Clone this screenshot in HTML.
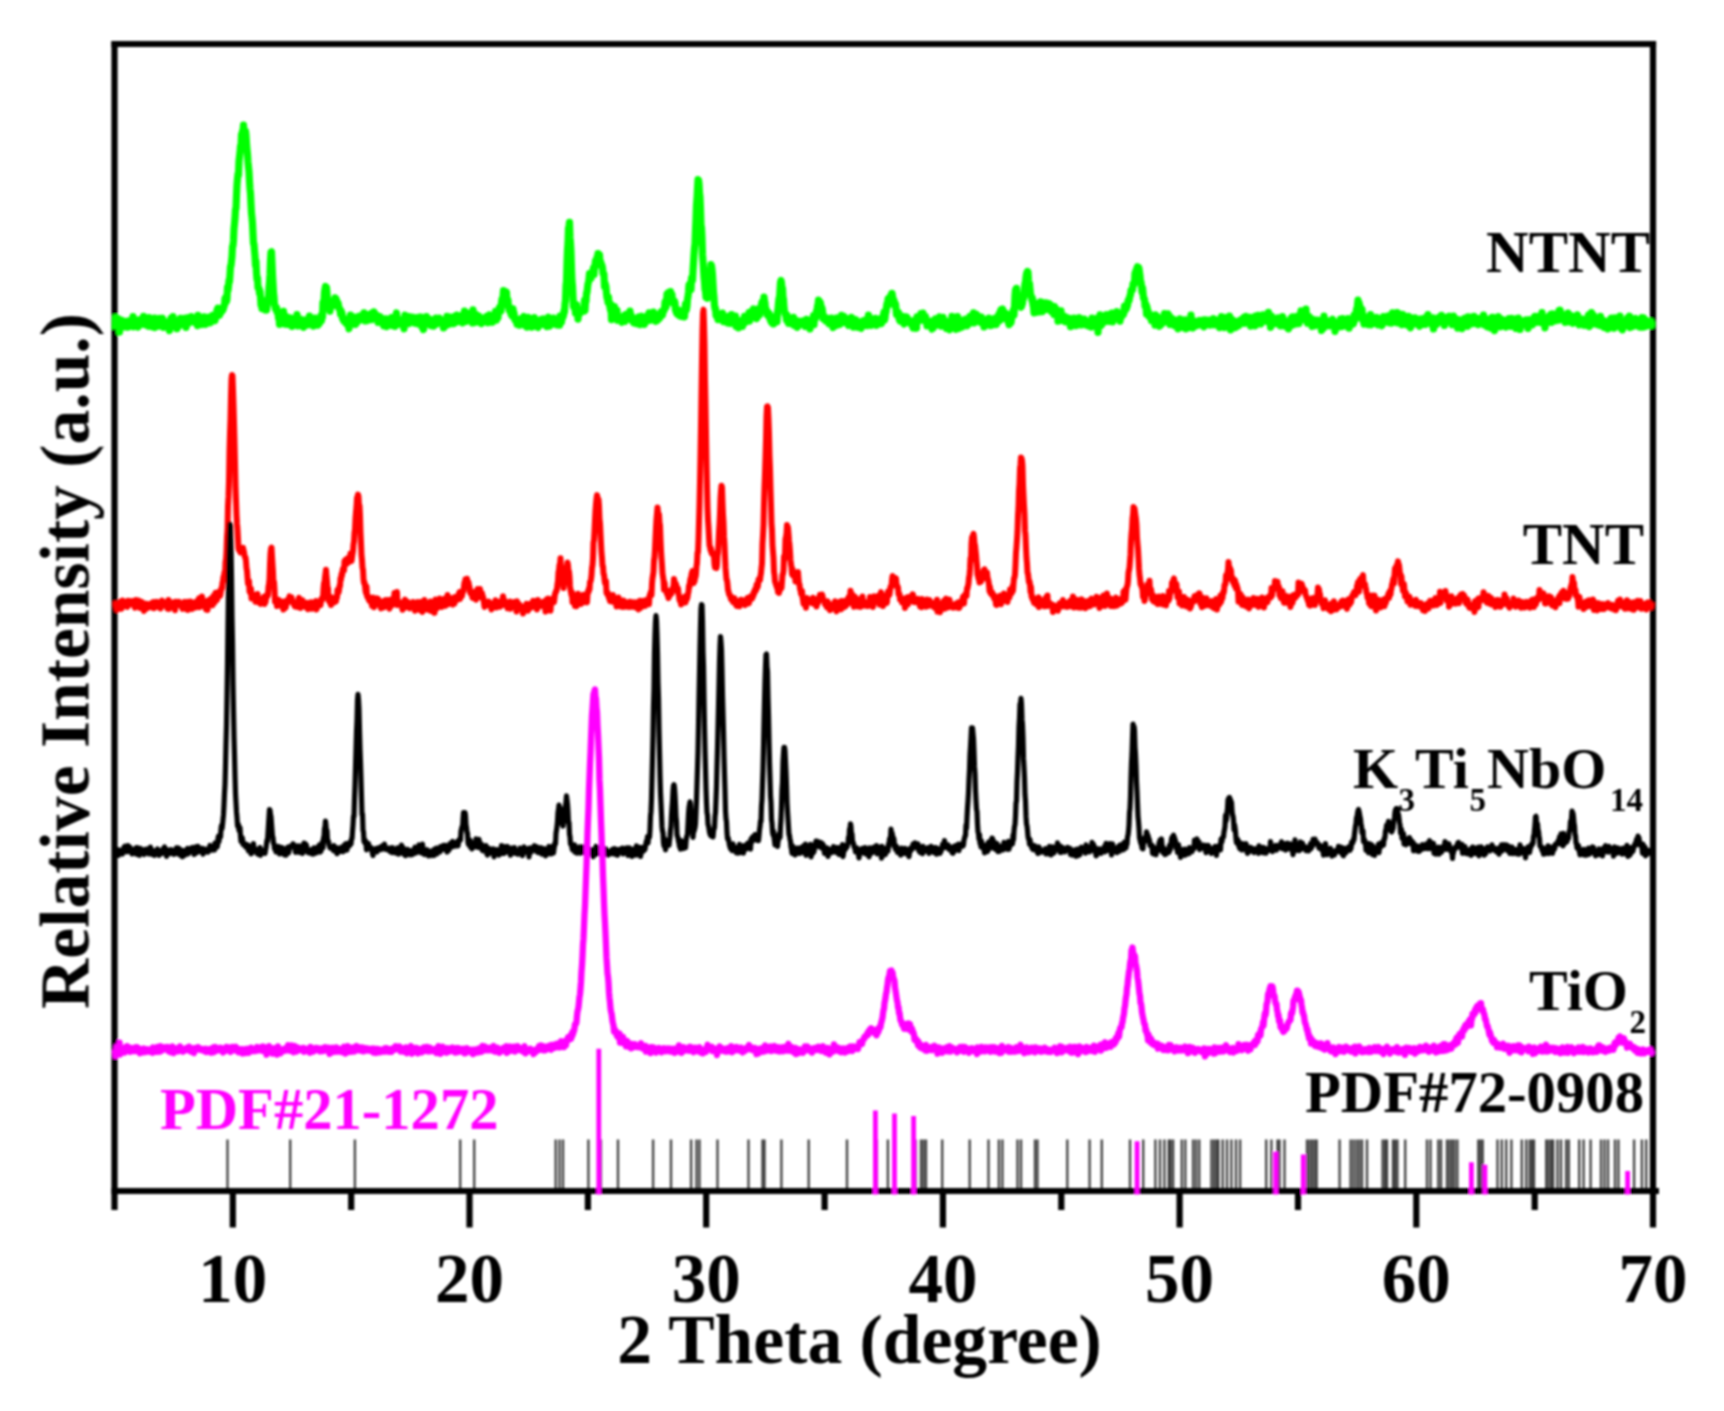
<!DOCTYPE html>
<html><head><meta charset="utf-8"><title>XRD patterns</title>
<style>
html,body{margin:0;padding:0;background:#fff;}
body{width:1724px;height:1411px;overflow:hidden;}
svg{display:block;}
text{font-family:"Liberation Serif","Times New Roman",serif;font-weight:bold;}
</style></head><body>
<svg width="1724" height="1411" viewBox="0 0 1724 1411">
<defs><filter id="soft" x="0" y="0" width="1724" height="1411" filterUnits="userSpaceOnUse"><feGaussianBlur stdDeviation="0.8"/></filter></defs>
<rect x="0" y="0" width="1724" height="1411" fill="#fff"/>
<g filter="url(#soft)">
<g stroke="#000" stroke-opacity="0.72" stroke-width="2.4" fill="none"><path d="M227.5 1139.5V1191.0"/><path d="M290.2 1139.5V1191.0"/><path d="M354.9 1139.5V1191.0"/><path d="M460.2 1139.5V1191.0"/><path d="M474.2 1139.5V1191.0"/><path d="M555.7 1139.5V1191.0"/><path d="M559.5 1139.5V1191.0"/><path d="M563.0 1139.5V1191.0"/><path d="M588.4 1139.5V1191.0"/><path d="M600.9 1139.5V1191.0"/><path d="M618.0 1139.5V1191.0"/><path d="M653.1 1139.5V1191.0"/><path d="M671.0 1139.5V1191.0"/><path d="M691.1 1139.5V1191.0"/><path d="M696.5 1139.5V1191.0"/><path d="M699.5 1139.5V1191.0"/><path d="M717.5 1139.5V1191.0"/><path d="M748.5 1139.5V1191.0"/><path d="M762.5 1139.5V1191.0"/><path d="M764.5 1139.5V1191.0"/><path d="M781.4 1139.5V1191.0"/><path d="M808.7 1139.5V1191.0"/><path d="M847.0 1139.5V1191.0"/><path d="M876.9 1139.5V1191.0"/><path d="M887.9 1139.5V1191.0"/><path d="M915.7 1139.5V1191.0"/><path d="M921.0 1139.5V1191.0"/><path d="M923.5 1139.5V1191.0"/><path d="M926.0 1139.5V1191.0"/><path d="M942.2 1139.5V1191.0"/><path d="M969.7 1139.5V1191.0"/><path d="M988.5 1139.5V1191.0"/><path d="M998.9 1139.5V1191.0"/><path d="M1002.4 1139.5V1191.0"/><path d="M1017.5 1139.5V1191.0"/><path d="M1021.0 1139.5V1191.0"/><path d="M1035.0 1139.5V1191.0"/><path d="M1037.5 1139.5V1191.0"/><path d="M1067.3 1139.5V1191.0"/><path d="M1089.6 1139.5V1191.0"/><path d="M1101.8 1139.5V1191.0"/><path d="M1130.0 1139.5V1191.0"/><path d="M1143.2 1139.5V1191.0"/><path d="M1155.4 1139.5V1191.0"/><path d="M1160.0 1139.5V1191.0"/><path d="M1164.4 1139.5V1191.0"/><path d="M1168.8 1139.5V1191.0"/><path d="M1170.5 1139.5V1191.0"/><path d="M1173.1 1139.5V1191.0"/><path d="M1181.8 1139.5V1191.0"/><path d="M1185.3 1139.5V1191.0"/><path d="M1193.1 1139.5V1191.0"/><path d="M1196.0 1139.5V1191.0"/><path d="M1199.2 1139.5V1191.0"/><path d="M1211.4 1139.5V1191.0"/><path d="M1214.0 1139.5V1191.0"/><path d="M1216.5 1139.5V1191.0"/><path d="M1218.3 1139.5V1191.0"/><path d="M1222.7 1139.5V1191.0"/><path d="M1227.0 1139.5V1191.0"/><path d="M1231.4 1139.5V1191.0"/><path d="M1236.0 1139.5V1191.0"/><path d="M1240.1 1139.5V1191.0"/><path d="M1266.2 1139.5V1191.0"/><path d="M1271.4 1139.5V1191.0"/><path d="M1277.5 1139.5V1191.0"/><path d="M1279.5 1139.5V1191.0"/><path d="M1284.5 1139.5V1191.0"/><path d="M1307.0 1139.5V1191.0"/><path d="M1309.5 1139.5V1191.0"/><path d="M1312.0 1139.5V1191.0"/><path d="M1314.5 1139.5V1191.0"/><path d="M1316.7 1139.5V1191.0"/><path d="M1339.6 1139.5V1191.0"/><path d="M1350.6 1139.5V1191.0"/><path d="M1353.5 1139.5V1191.0"/><path d="M1356.5 1139.5V1191.0"/><path d="M1359.3 1139.5V1191.0"/><path d="M1362.0 1139.5V1191.0"/><path d="M1367.0 1139.5V1191.0"/><path d="M1382.6 1139.5V1191.0"/><path d="M1385.0 1139.5V1191.0"/><path d="M1387.0 1139.5V1191.0"/><path d="M1393.0 1139.5V1191.0"/><path d="M1395.2 1139.5V1191.0"/><path d="M1397.4 1139.5V1191.0"/><path d="M1405.2 1139.5V1191.0"/><path d="M1427.0 1139.5V1191.0"/><path d="M1430.5 1139.5V1191.0"/><path d="M1438.3 1139.5V1191.0"/><path d="M1441.0 1139.5V1191.0"/><path d="M1447.0 1139.5V1191.0"/><path d="M1449.5 1139.5V1191.0"/><path d="M1452.0 1139.5V1191.0"/><path d="M1454.5 1139.5V1191.0"/><path d="M1457.4 1139.5V1191.0"/><path d="M1478.3 1139.5V1191.0"/><path d="M1480.5 1139.5V1191.0"/><path d="M1482.7 1139.5V1191.0"/><path d="M1497.5 1139.5V1191.0"/><path d="M1501.8 1139.5V1191.0"/><path d="M1506.2 1139.5V1191.0"/><path d="M1511.4 1139.5V1191.0"/><path d="M1521.8 1139.5V1191.0"/><path d="M1526.2 1139.5V1191.0"/><path d="M1529.7 1139.5V1191.0"/><path d="M1532.0 1139.5V1191.0"/><path d="M1534.0 1139.5V1191.0"/><path d="M1546.2 1139.5V1191.0"/><path d="M1548.5 1139.5V1191.0"/><path d="M1551.0 1139.5V1191.0"/><path d="M1553.1 1139.5V1191.0"/><path d="M1557.5 1139.5V1191.0"/><path d="M1561.0 1139.5V1191.0"/><path d="M1566.2 1139.5V1191.0"/><path d="M1568.8 1139.5V1191.0"/><path d="M1579.2 1139.5V1191.0"/><path d="M1583.6 1139.5V1191.0"/><path d="M1590.6 1139.5V1191.0"/><path d="M1601.0 1139.5V1191.0"/><path d="M1604.5 1139.5V1191.0"/><path d="M1608.0 1139.5V1191.0"/><path d="M1615.0 1139.5V1191.0"/><path d="M1618.4 1139.5V1191.0"/><path d="M1634.1 1139.5V1191.0"/><path d="M1641.9 1139.5V1191.0"/><path d="M1646.2 1139.5V1191.0"/></g>
<g stroke="#000" stroke-width="6.2" fill="none" stroke-linecap="butt">
<path d="M114.5 41V1210"/><path d="M1653.0 41V1227.5"/><path d="M111.4 44H1656.1"/><path d="M111.4 1191.0H1659.0"/>
<path d="M232.8 1191.0V1227.5M469.5 1191.0V1227.5M706.2 1191.0V1227.5M942.9 1191.0V1227.5M1179.6 1191.0V1227.5M1416.3 1191.0V1227.5M351.2 1191.0V1210M587.9 1191.0V1210M824.6 1191.0V1210M1061.3 1191.0V1210M1298.0 1191.0V1210M1534.7 1191.0V1210"/>
</g>
<g id="curves">
<polyline fill="none" stroke="#00ff00" stroke-width="7.2" stroke-linejoin="round" stroke-linecap="butt" points="115.0,329.7 115.5,317.4 116.0,324.7 116.5,321.7 117.0,322.3 117.5,323.1 118.0,318.7 118.5,323.7 119.0,322.0 119.5,332.1 120.0,323.5 120.5,321.5 121.0,322.4 121.5,321.2 122.0,320.3 122.5,322.1 123.0,325.4 123.5,324.0 124.0,326.8 124.5,323.4 125.0,323.7 125.5,326.9 126.0,324.0 126.5,321.3 127.0,322.0 127.5,323.8 128.0,327.2 128.5,322.4 129.0,322.7 129.5,326.3 130.0,320.6 130.5,321.5 131.0,325.0 131.5,325.0 132.0,323.3 132.5,325.3 133.0,316.5 133.5,326.8 134.0,321.1 134.5,319.5 135.0,324.4 135.5,324.9 136.0,321.6 136.5,320.0 137.0,323.4 137.5,323.5 138.0,327.1 138.5,324.6 139.0,323.3 139.5,325.5 140.0,321.6 140.5,319.5 141.0,324.5 141.5,324.1 142.0,321.7 142.5,320.4 143.0,323.5 143.5,316.4 144.0,324.4 144.5,324.3 145.0,318.5 145.5,322.9 146.0,320.4 146.5,325.2 147.0,318.1 147.5,321.4 148.0,324.9 148.5,326.2 149.0,317.6 149.5,321.5 150.0,323.6 150.5,320.9 151.0,326.5 151.5,319.2 152.0,323.3 152.5,320.1 153.0,326.9 153.5,323.0 154.0,321.7 154.5,318.0 155.0,327.6 155.5,325.2 156.0,325.1 156.5,325.7 157.0,323.2 157.5,320.3 158.0,320.3 158.5,320.1 159.0,326.1 159.5,318.3 160.0,320.7 160.5,321.5 161.0,323.4 161.5,324.2 162.0,319.3 162.5,318.3 163.0,323.4 163.5,327.4 164.0,326.3 164.5,325.3 165.0,324.2 165.5,325.8 166.0,324.1 166.5,326.9 167.0,322.0 167.5,324.5 168.0,324.0 168.5,326.0 169.0,325.0 169.5,330.6 170.0,327.3 170.5,327.6 171.0,318.3 171.5,322.6 172.0,321.3 172.5,324.3 173.0,316.7 173.5,325.9 174.0,326.2 174.5,319.7 175.0,320.3 175.5,320.6 176.0,323.0 176.5,324.6 177.0,328.7 177.5,321.8 178.0,323.9 178.5,321.9 179.0,326.0 179.5,322.9 180.0,324.5 180.5,318.3 181.0,319.8 181.5,318.5 182.0,324.5 182.5,322.0 183.0,319.0 183.5,318.9 184.0,321.3 184.5,318.3 185.0,318.2 185.5,322.2 186.0,327.4 186.5,320.5 187.0,319.8 187.5,318.3 188.0,317.8 188.5,322.3 189.0,323.1 189.5,320.9 190.0,321.9 190.5,321.1 191.0,320.9 191.5,316.5 192.0,319.5 192.5,320.5 193.0,318.6 193.5,318.7 194.0,318.1 194.5,319.1 195.0,322.4 195.5,319.5 196.0,320.1 196.5,322.9 197.0,322.7 197.5,325.6 198.0,315.4 198.5,323.4 199.0,319.6 199.5,321.5 200.0,322.9 200.5,323.6 201.0,323.4 201.5,320.9 202.0,324.5 202.5,319.1 203.0,319.5 203.5,321.1 204.0,316.9 204.5,324.0 205.0,321.3 205.5,324.4 206.0,318.8 206.5,317.9 207.0,319.8 207.5,321.4 208.0,317.4 208.5,319.9 209.0,318.7 209.5,322.9 210.0,316.9 210.5,322.6 211.0,318.5 211.5,317.3 212.0,317.3 212.5,315.3 213.0,318.7 213.5,320.6 214.0,317.4 214.5,318.3 215.0,320.7 215.5,316.7 216.0,316.4 216.5,314.6 217.0,310.1 217.5,316.1 218.0,308.0 218.5,314.5 219.0,312.4 219.5,315.3 220.0,311.6 220.5,309.5 221.0,312.6 221.5,310.3 222.0,310.9 222.5,310.7 223.0,309.6 223.5,308.3 224.0,305.5 224.5,305.4 225.0,298.5 225.5,302.5 226.0,297.2 226.5,301.4 227.0,299.2 227.5,287.3 228.0,290.5 228.5,286.4 229.0,280.5 229.5,281.7 230.0,274.5 230.5,266.2 231.0,265.7 231.5,261.1 232.0,256.4 232.5,246.3 233.0,246.0 233.5,240.2 234.0,228.6 234.5,223.8 235.0,218.4 235.5,209.5 236.0,208.6 236.5,195.6 237.0,184.7 237.5,178.8 238.0,174.1 238.5,175.3 239.0,161.2 239.5,156.9 240.0,152.7 240.5,146.1 241.0,148.5 241.5,134.6 242.0,136.1 242.5,131.3 243.0,131.4 243.5,125.2 244.0,135.0 244.5,129.8 245.0,132.1 245.5,130.8 246.0,135.1 246.5,143.3 247.0,149.4 247.5,154.2 248.0,162.0 248.5,167.0 249.0,171.6 249.5,181.4 250.0,188.8 250.5,193.7 251.0,204.0 251.5,213.2 252.0,217.6 252.5,223.4 253.0,233.5 253.5,243.6 254.0,243.9 254.5,250.5 255.0,255.8 255.5,265.4 256.0,261.4 256.5,273.1 257.0,279.3 257.5,277.7 258.0,287.7 258.5,288.2 259.0,288.3 259.5,293.1 260.0,291.1 260.5,296.5 261.0,305.1 261.5,299.1 262.0,308.5 262.5,304.9 263.0,308.7 263.5,306.7 264.0,301.0 264.5,306.4 265.0,309.8 265.5,306.2 266.0,305.2 266.5,310.1 267.0,306.1 267.5,300.6 268.0,300.1 268.5,298.5 269.0,287.7 269.5,282.6 270.0,274.5 270.5,260.7 271.0,252.1 271.5,251.8 272.0,262.7 272.5,274.9 273.0,283.3 273.5,292.5 274.0,297.0 274.5,304.7 275.0,305.9 275.5,308.9 276.0,308.1 276.5,307.5 277.0,311.7 277.5,310.9 278.0,312.0 278.5,318.0 279.0,315.2 279.5,324.3 280.0,319.6 280.5,315.4 281.0,319.0 281.5,317.6 282.0,315.4 282.5,321.0 283.0,316.4 283.5,311.4 284.0,322.0 284.5,318.3 285.0,324.1 285.5,317.3 286.0,316.3 286.5,323.8 287.0,317.3 287.5,320.8 288.0,324.4 288.5,321.0 289.0,320.6 289.5,321.0 290.0,322.4 290.5,317.8 291.0,321.7 291.5,322.0 292.0,326.4 292.5,319.8 293.0,318.7 293.5,323.2 294.0,319.4 294.5,321.8 295.0,321.5 295.5,324.6 296.0,319.8 296.5,321.2 297.0,314.6 297.5,319.2 298.0,326.0 298.5,319.9 299.0,319.9 299.5,318.8 300.0,323.8 300.5,322.9 301.0,319.3 301.5,324.0 302.0,322.8 302.5,324.3 303.0,321.1 303.5,327.3 304.0,323.4 304.5,321.7 305.0,320.0 305.5,321.3 306.0,324.1 306.5,321.1 307.0,324.5 307.5,322.8 308.0,324.9 308.5,323.4 309.0,321.3 309.5,316.2 310.0,322.1 310.5,323.7 311.0,322.0 311.5,323.3 312.0,320.5 312.5,320.3 313.0,319.6 313.5,326.1 314.0,322.4 314.5,320.3 315.0,318.1 315.5,321.6 316.0,325.2 316.5,322.9 317.0,319.1 317.5,324.6 318.0,325.0 318.5,323.8 319.0,323.1 319.5,323.3 320.0,320.8 320.5,320.8 321.0,315.7 321.5,320.6 322.0,315.1 322.5,317.3 323.0,302.6 323.5,306.0 324.0,301.5 324.5,292.0 325.0,289.1 325.5,286.5 326.0,287.0 326.5,287.3 327.0,292.8 327.5,300.7 328.0,305.5 328.5,305.5 329.0,307.4 329.5,308.2 330.0,311.1 330.5,305.0 331.0,304.0 331.5,306.9 332.0,302.8 332.5,303.3 333.0,304.3 333.5,304.9 334.0,300.1 334.5,305.0 335.0,297.8 335.5,304.5 336.0,298.7 336.5,300.1 337.0,306.0 337.5,303.2 338.0,302.9 338.5,305.1 339.0,308.6 339.5,308.4 340.0,309.9 340.5,314.0 341.0,310.5 341.5,312.2 342.0,313.1 342.5,318.6 343.0,318.8 343.5,320.7 344.0,318.4 344.5,319.0 345.0,321.9 345.5,319.8 346.0,323.5 346.5,323.8 347.0,319.3 347.5,321.2 348.0,320.9 348.5,326.1 349.0,328.8 349.5,321.4 350.0,322.2 350.5,315.2 351.0,321.7 351.5,321.5 352.0,318.8 352.5,323.1 353.0,316.9 353.5,320.4 354.0,322.2 354.5,319.0 355.0,324.5 355.5,324.4 356.0,317.4 356.5,317.5 357.0,322.5 357.5,321.1 358.0,316.9 358.5,318.0 359.0,317.5 359.5,316.1 360.0,318.1 360.5,316.3 361.0,320.0 361.5,318.3 362.0,316.7 362.5,318.1 363.0,318.6 363.5,317.1 364.0,312.9 364.5,318.4 365.0,316.3 365.5,321.0 366.0,316.7 366.5,318.4 367.0,317.4 367.5,320.6 368.0,316.2 368.5,314.8 369.0,316.0 369.5,314.4 370.0,316.3 370.5,315.2 371.0,314.8 371.5,319.7 372.0,313.2 372.5,314.2 373.0,314.1 373.5,316.4 374.0,311.9 374.5,313.1 375.0,315.1 375.5,317.2 376.0,316.8 376.5,315.7 377.0,315.3 377.5,319.6 378.0,322.4 378.5,319.3 379.0,319.3 379.5,320.5 380.0,316.6 380.5,318.7 381.0,319.1 381.5,321.6 382.0,321.1 382.5,318.5 383.0,324.2 383.5,325.7 384.0,320.6 384.5,322.9 385.0,323.1 385.5,324.7 386.0,318.9 386.5,326.6 387.0,321.6 387.5,325.8 388.0,322.5 388.5,321.3 389.0,322.0 389.5,323.9 390.0,319.7 390.5,321.1 391.0,320.7 391.5,317.6 392.0,325.5 392.5,323.5 393.0,321.6 393.5,325.4 394.0,319.7 394.5,322.2 395.0,326.4 395.5,324.0 396.0,315.2 396.5,313.0 397.0,318.8 397.5,324.6 398.0,321.0 398.5,320.8 399.0,322.7 399.5,319.6 400.0,322.6 400.5,324.0 401.0,323.3 401.5,323.2 402.0,320.9 402.5,323.5 403.0,321.3 403.5,325.4 404.0,328.8 404.5,319.1 405.0,315.2 405.5,320.4 406.0,322.3 406.5,323.9 407.0,323.4 407.5,318.3 408.0,317.4 408.5,323.7 409.0,316.7 409.5,322.4 410.0,318.4 410.5,321.2 411.0,321.2 411.5,322.1 412.0,321.7 412.5,317.1 413.0,320.4 413.5,319.2 414.0,321.1 414.5,323.2 415.0,319.3 415.5,317.6 416.0,318.4 416.5,319.5 417.0,322.7 417.5,318.9 418.0,324.0 418.5,321.9 419.0,320.8 419.5,317.1 420.0,322.2 420.5,323.7 421.0,317.2 421.5,325.5 422.0,327.2 422.5,323.6 423.0,324.1 423.5,329.6 424.0,326.5 424.5,320.7 425.0,322.9 425.5,322.3 426.0,322.2 426.5,316.5 427.0,324.0 427.5,319.9 428.0,321.9 428.5,321.1 429.0,323.5 429.5,320.9 430.0,319.1 430.5,323.0 431.0,325.5 431.5,320.2 432.0,324.9 432.5,322.0 433.0,320.4 433.5,326.2 434.0,320.3 434.5,325.0 435.0,320.3 435.5,322.8 436.0,318.2 436.5,318.7 437.0,324.0 437.5,321.5 438.0,321.3 438.5,320.4 439.0,323.0 439.5,318.2 440.0,318.8 440.5,321.3 441.0,320.0 441.5,321.0 442.0,322.9 442.5,322.4 443.0,322.7 443.5,328.0 444.0,326.1 444.5,327.0 445.0,323.3 445.5,322.0 446.0,319.3 446.5,321.9 447.0,316.4 447.5,320.0 448.0,322.7 448.5,324.5 449.0,322.9 449.5,317.6 450.0,320.7 450.5,317.0 451.0,320.7 451.5,317.6 452.0,319.6 452.5,323.6 453.0,319.2 453.5,323.6 454.0,318.0 454.5,316.5 455.0,321.6 455.5,322.8 456.0,316.6 456.5,319.1 457.0,315.1 457.5,318.1 458.0,321.7 458.5,318.9 459.0,318.0 459.5,316.1 460.0,320.4 460.5,320.9 461.0,320.5 461.5,319.9 462.0,315.3 462.5,322.8 463.0,318.0 463.5,317.2 464.0,319.1 464.5,311.2 465.0,316.9 465.5,317.0 466.0,318.3 466.5,321.4 467.0,319.4 467.5,313.2 468.0,317.3 468.5,318.5 469.0,318.3 469.5,314.9 470.0,313.7 470.5,319.6 471.0,319.4 471.5,318.5 472.0,313.7 472.5,323.0 473.0,309.9 473.5,316.0 474.0,322.7 474.5,317.0 475.0,318.1 475.5,314.4 476.0,321.8 476.5,314.8 477.0,319.1 477.5,319.5 478.0,316.4 478.5,322.1 479.0,316.0 479.5,318.4 480.0,320.5 480.5,319.9 481.0,322.3 481.5,323.6 482.0,320.0 482.5,319.2 483.0,318.5 483.5,318.9 484.0,322.0 484.5,319.3 485.0,320.8 485.5,319.4 486.0,317.1 486.5,321.4 487.0,316.3 487.5,319.1 488.0,322.7 488.5,315.6 489.0,318.6 489.5,314.8 490.0,318.7 490.5,315.5 491.0,318.4 491.5,317.0 492.0,318.6 492.5,322.3 493.0,318.8 493.5,319.8 494.0,317.6 494.5,316.7 495.0,314.5 495.5,311.5 496.0,316.3 496.5,320.1 497.0,315.6 497.5,312.5 498.0,317.7 498.5,311.5 499.0,310.2 499.5,307.2 500.0,306.8 500.5,307.4 501.0,310.9 501.5,303.0 502.0,299.1 502.5,298.2 503.0,297.2 503.5,290.7 504.0,294.4 504.5,294.9 505.0,293.7 505.5,295.7 506.0,291.7 506.5,292.2 507.0,302.6 507.5,304.7 508.0,300.1 508.5,307.1 509.0,308.4 509.5,310.9 510.0,311.3 510.5,310.5 511.0,314.0 511.5,315.1 512.0,315.9 512.5,311.0 513.0,308.7 513.5,314.9 514.0,312.8 514.5,318.1 515.0,320.1 515.5,319.5 516.0,318.7 516.5,320.8 517.0,324.2 517.5,319.5 518.0,323.7 518.5,323.3 519.0,321.8 519.5,325.2 520.0,319.0 520.5,323.4 521.0,319.3 521.5,319.7 522.0,318.1 522.5,322.1 523.0,317.8 523.5,319.6 524.0,316.5 524.5,322.6 525.0,325.2 525.5,321.2 526.0,325.0 526.5,322.4 527.0,327.2 527.5,322.4 528.0,317.4 528.5,325.3 529.0,322.0 529.5,319.2 530.0,320.0 530.5,318.5 531.0,322.6 531.5,320.5 532.0,327.2 532.5,324.7 533.0,318.7 533.5,319.2 534.0,321.4 534.5,317.6 535.0,322.3 535.5,322.7 536.0,320.7 536.5,322.1 537.0,325.1 537.5,327.1 538.0,327.4 538.5,323.4 539.0,324.8 539.5,320.8 540.0,324.0 540.5,320.2 541.0,324.7 541.5,319.4 542.0,320.4 542.5,322.9 543.0,324.3 543.5,318.9 544.0,321.7 544.5,323.3 545.0,322.9 545.5,319.7 546.0,323.0 546.5,321.9 547.0,326.7 547.5,324.7 548.0,319.7 548.5,317.2 549.0,322.9 549.5,326.1 550.0,323.1 550.5,324.4 551.0,320.4 551.5,318.6 552.0,324.4 552.5,322.6 553.0,323.7 553.5,318.0 554.0,321.8 554.5,319.6 555.0,324.1 555.5,321.0 556.0,321.0 556.5,320.2 557.0,324.9 557.5,321.8 558.0,319.9 558.5,318.7 559.0,318.3 559.5,325.2 560.0,316.0 560.5,318.2 561.0,321.6 561.5,322.1 562.0,316.9 562.5,318.3 563.0,316.7 563.5,315.5 564.0,310.9 564.5,312.1 565.0,303.4 565.5,300.6 566.0,285.5 566.5,281.5 567.0,263.2 567.5,249.8 568.0,243.0 568.5,228.2 569.0,226.3 569.5,222.4 570.0,237.2 570.5,243.4 571.0,252.0 571.5,268.5 572.0,281.2 572.5,285.9 573.0,296.9 573.5,306.5 574.0,307.4 574.5,307.5 575.0,308.1 575.5,313.2 576.0,308.5 576.5,304.8 577.0,312.2 577.5,311.1 578.0,319.1 578.5,314.1 579.0,310.7 579.5,309.5 580.0,313.5 580.5,310.0 581.0,310.1 581.5,311.4 582.0,310.9 582.5,309.9 583.0,309.2 583.5,311.0 584.0,311.1 584.5,300.3 585.0,310.4 585.5,301.3 586.0,301.5 586.5,293.0 587.0,292.5 587.5,287.8 588.0,283.8 588.5,282.2 589.0,279.4 589.5,273.7 590.0,275.8 590.5,278.5 591.0,278.5 591.5,275.5 592.0,274.9 592.5,274.7 593.0,270.0 593.5,267.8 594.0,274.5 594.5,266.7 595.0,265.1 595.5,260.9 596.0,265.8 596.5,265.1 597.0,257.3 597.5,258.4 598.0,253.6 598.5,261.1 599.0,259.4 599.5,254.8 600.0,262.6 600.5,261.4 601.0,263.0 601.5,265.7 602.0,265.6 602.5,267.9 603.0,273.4 603.5,274.3 604.0,274.4 604.5,286.6 605.0,282.9 605.5,284.8 606.0,286.9 606.5,293.5 607.0,297.8 607.5,298.6 608.0,302.4 608.5,297.1 609.0,302.6 609.5,304.5 610.0,307.3 610.5,310.0 611.0,304.5 611.5,319.6 612.0,308.6 612.5,312.8 613.0,315.3 613.5,316.2 614.0,315.0 614.5,306.6 615.0,312.0 615.5,317.8 616.0,313.3 616.5,313.3 617.0,310.4 617.5,320.3 618.0,318.9 618.5,315.7 619.0,319.2 619.5,319.5 620.0,316.7 620.5,319.0 621.0,319.7 621.5,320.1 622.0,322.3 622.5,318.6 623.0,317.5 623.5,319.6 624.0,316.7 624.5,315.1 625.0,321.3 625.5,316.9 626.0,317.9 626.5,319.3 627.0,314.1 627.5,318.7 628.0,318.9 628.5,317.7 629.0,318.8 629.5,315.6 630.0,311.2 630.5,316.4 631.0,314.7 631.5,320.3 632.0,319.1 632.5,317.2 633.0,319.0 633.5,322.8 634.0,323.0 634.5,321.5 635.0,321.5 635.5,320.5 636.0,321.1 636.5,323.5 637.0,321.7 637.5,322.7 638.0,318.5 638.5,317.0 639.0,317.1 639.5,320.3 640.0,324.6 640.5,324.4 641.0,318.0 641.5,316.2 642.0,323.3 642.5,321.9 643.0,317.5 643.5,323.9 644.0,321.2 644.5,324.4 645.0,321.6 645.5,322.4 646.0,319.8 646.5,316.5 647.0,318.4 647.5,316.4 648.0,320.7 648.5,315.4 649.0,313.0 649.5,319.0 650.0,319.8 650.5,320.1 651.0,320.1 651.5,312.9 652.0,315.8 652.5,316.4 653.0,318.2 653.5,312.2 654.0,318.1 654.5,319.0 655.0,315.2 655.5,318.4 656.0,321.3 656.5,317.6 657.0,320.5 657.5,320.4 658.0,317.6 658.5,317.6 659.0,315.0 659.5,318.7 660.0,314.0 660.5,312.7 661.0,316.2 661.5,311.7 662.0,314.6 662.5,315.0 663.0,311.2 663.5,310.1 664.0,310.7 664.5,309.3 665.0,302.3 665.5,300.9 666.0,307.1 666.5,303.1 667.0,294.0 667.5,294.6 668.0,297.2 668.5,292.6 669.0,296.2 669.5,294.6 670.0,295.9 670.5,291.6 671.0,297.5 671.5,301.6 672.0,294.6 672.5,302.6 673.0,303.2 673.5,303.6 674.0,303.0 674.5,301.1 675.0,303.0 675.5,309.9 676.0,311.2 676.5,313.1 677.0,313.3 677.5,314.3 678.0,310.7 678.5,310.1 679.0,314.5 679.5,315.8 680.0,314.6 680.5,310.9 681.0,313.7 681.5,311.9 682.0,316.5 682.5,312.2 683.0,314.5 683.5,315.8 684.0,314.6 684.5,316.9 685.0,309.4 685.5,304.1 686.0,310.5 686.5,309.3 687.0,306.2 687.5,299.3 688.0,296.8 688.5,292.1 689.0,285.2 689.5,285.3 690.0,287.3 690.5,282.9 691.0,289.7 691.5,278.2 692.0,279.6 692.5,280.6 693.0,271.0 693.5,262.8 694.0,254.8 694.5,247.8 695.0,244.0 695.5,230.1 696.0,219.2 696.5,204.7 697.0,198.9 697.5,188.6 698.0,179.7 698.5,180.1 699.0,183.5 699.5,192.9 700.0,196.9 700.5,209.1 701.0,225.3 701.5,227.5 702.0,237.4 702.5,254.2 703.0,261.5 703.5,268.7 704.0,276.9 704.5,281.5 705.0,289.5 705.5,290.9 706.0,297.3 706.5,293.3 707.0,295.7 707.5,298.2 708.0,294.3 708.5,294.7 709.0,288.8 709.5,282.3 710.0,279.0 710.5,271.0 711.0,264.7 711.5,265.8 712.0,269.5 712.5,275.1 713.0,283.7 713.5,292.1 714.0,297.2 714.5,305.5 715.0,308.6 715.5,308.2 716.0,315.6 716.5,316.1 717.0,313.1 717.5,316.7 718.0,319.5 718.5,317.1 719.0,319.5 719.5,318.7 720.0,319.3 720.5,316.6 721.0,318.4 721.5,316.7 722.0,319.5 722.5,313.0 723.0,318.7 723.5,321.7 724.0,320.2 724.5,318.9 725.0,320.4 725.5,317.1 726.0,317.1 726.5,318.4 727.0,319.4 727.5,322.8 728.0,318.1 728.5,323.2 729.0,316.2 729.5,318.0 730.0,320.3 730.5,323.4 731.0,318.7 731.5,314.6 732.0,321.5 732.5,320.3 733.0,317.4 733.5,317.8 734.0,318.5 734.5,321.0 735.0,322.2 735.5,316.2 736.0,326.2 736.5,320.4 737.0,319.9 737.5,322.6 738.0,321.8 738.5,327.9 739.0,325.0 739.5,320.8 740.0,320.9 740.5,320.7 741.0,321.1 741.5,323.7 742.0,320.4 742.5,326.4 743.0,322.0 743.5,321.7 744.0,323.9 744.5,316.4 745.0,318.0 745.5,321.7 746.0,320.1 746.5,320.5 747.0,321.4 747.5,317.9 748.0,318.9 748.5,315.3 749.0,312.7 749.5,321.1 750.0,313.9 750.5,313.3 751.0,318.2 751.5,316.0 752.0,311.0 752.5,311.2 753.0,311.7 753.5,309.0 754.0,313.3 754.5,313.2 755.0,313.1 755.5,315.3 756.0,315.5 756.5,318.6 757.0,317.9 757.5,309.2 758.0,316.3 758.5,310.9 759.0,310.3 759.5,314.8 760.0,309.6 760.5,308.8 761.0,311.0 761.5,304.0 762.0,302.0 762.5,303.6 763.0,305.2 763.5,302.8 764.0,297.0 764.5,300.9 765.0,303.1 765.5,310.2 766.0,308.7 766.5,310.7 767.0,314.4 767.5,311.8 768.0,315.0 768.5,316.2 769.0,313.0 769.5,316.1 770.0,319.2 770.5,315.5 771.0,321.5 771.5,321.4 772.0,323.0 772.5,318.2 773.0,320.3 773.5,324.0 774.0,321.2 774.5,317.2 775.0,319.4 775.5,322.5 776.0,317.8 776.5,318.2 777.0,321.7 777.5,312.0 778.0,309.1 778.5,303.0 779.0,298.7 779.5,299.2 780.0,290.4 780.5,282.3 781.0,280.4 781.5,283.0 782.0,288.4 782.5,288.3 783.0,297.5 783.5,299.3 784.0,306.9 784.5,311.0 785.0,313.9 785.5,313.3 786.0,316.5 786.5,320.1 787.0,315.1 787.5,320.1 788.0,322.1 788.5,323.4 789.0,320.4 789.5,319.9 790.0,320.9 790.5,319.6 791.0,321.2 791.5,323.5 792.0,323.2 792.5,319.8 793.0,321.5 793.5,317.3 794.0,325.2 794.5,322.1 795.0,323.9 795.5,321.1 796.0,324.1 796.5,325.4 797.0,327.4 797.5,320.9 798.0,326.5 798.5,323.2 799.0,321.9 799.5,325.0 800.0,323.1 800.5,322.5 801.0,321.6 801.5,323.3 802.0,323.0 802.5,322.6 803.0,321.0 803.5,322.1 804.0,324.0 804.5,325.5 805.0,322.2 805.5,326.5 806.0,322.3 806.5,319.4 807.0,323.8 807.5,319.6 808.0,323.2 808.5,325.6 809.0,322.1 809.5,322.3 810.0,329.0 810.5,323.2 811.0,323.4 811.5,325.1 812.0,322.3 812.5,322.2 813.0,323.0 813.5,315.5 814.0,324.7 814.5,317.3 815.0,315.9 815.5,318.7 816.0,315.9 816.5,311.0 817.0,312.0 817.5,306.1 818.0,304.8 818.5,300.2 819.0,300.5 819.5,302.5 820.0,301.9 820.5,303.2 821.0,307.4 821.5,307.0 822.0,308.0 822.5,310.9 823.0,318.4 823.5,315.1 824.0,317.9 824.5,317.7 825.0,319.7 825.5,320.8 826.0,319.9 826.5,319.5 827.0,318.1 827.5,318.2 828.0,321.3 828.5,322.8 829.0,323.8 829.5,321.8 830.0,319.0 830.5,323.3 831.0,323.1 831.5,318.1 832.0,324.6 832.5,324.0 833.0,327.5 833.5,321.0 834.0,320.8 834.5,326.2 835.0,319.1 835.5,321.6 836.0,319.8 836.5,320.3 837.0,318.0 837.5,321.9 838.0,325.0 838.5,323.2 839.0,322.5 839.5,320.6 840.0,324.4 840.5,321.3 841.0,322.4 841.5,315.4 842.0,320.5 842.5,316.4 843.0,320.7 843.5,320.0 844.0,316.3 844.5,319.8 845.0,322.7 845.5,321.1 846.0,322.1 846.5,318.5 847.0,319.8 847.5,319.2 848.0,322.6 848.5,325.5 849.0,323.4 849.5,322.3 850.0,319.2 850.5,323.1 851.0,321.6 851.5,317.4 852.0,318.6 852.5,322.6 853.0,320.7 853.5,327.1 854.0,322.8 854.5,319.4 855.0,321.3 855.5,326.7 856.0,319.9 856.5,324.7 857.0,324.2 857.5,327.3 858.0,325.2 858.5,322.5 859.0,324.3 859.5,322.4 860.0,324.5 860.5,322.3 861.0,328.3 861.5,322.8 862.0,323.7 862.5,321.2 863.0,323.2 863.5,322.7 864.0,322.4 864.5,324.4 865.0,320.0 865.5,319.9 866.0,325.4 866.5,322.0 867.0,321.2 867.5,325.7 868.0,324.1 868.5,315.2 869.0,321.0 869.5,323.1 870.0,323.1 870.5,319.5 871.0,325.4 871.5,318.7 872.0,320.0 872.5,321.0 873.0,320.8 873.5,322.5 874.0,323.0 874.5,319.7 875.0,323.3 875.5,318.3 876.0,319.9 876.5,325.3 877.0,321.1 877.5,323.4 878.0,319.1 878.5,319.5 879.0,320.3 879.5,320.9 880.0,319.0 880.5,320.0 881.0,321.7 881.5,323.5 882.0,319.9 882.5,320.3 883.0,320.1 883.5,314.5 884.0,312.2 884.5,320.2 885.0,318.0 885.5,313.0 886.0,312.1 886.5,306.7 887.0,303.6 887.5,306.3 888.0,299.2 888.5,304.0 889.0,298.1 889.5,299.3 890.0,302.4 890.5,300.7 891.0,295.1 891.5,298.6 892.0,293.3 892.5,295.9 893.0,299.6 893.5,304.2 894.0,300.4 894.5,305.3 895.0,306.2 895.5,303.8 896.0,308.6 896.5,314.4 897.0,311.7 897.5,315.1 898.0,316.0 898.5,312.5 899.0,318.4 899.5,320.1 900.0,321.0 900.5,320.1 901.0,316.0 901.5,316.5 902.0,316.1 902.5,316.2 903.0,316.8 903.5,322.4 904.0,324.0 904.5,317.9 905.0,322.2 905.5,316.8 906.0,320.1 906.5,318.1 907.0,317.1 907.5,322.2 908.0,321.9 908.5,321.0 909.0,320.8 909.5,320.4 910.0,322.7 910.5,321.4 911.0,324.2 911.5,321.3 912.0,325.0 912.5,326.0 913.0,328.0 913.5,327.9 914.0,325.8 914.5,323.3 915.0,320.2 915.5,324.4 916.0,328.3 916.5,328.2 917.0,316.9 917.5,320.7 918.0,321.2 918.5,318.6 919.0,320.8 919.5,320.1 920.0,317.9 920.5,319.1 921.0,313.7 921.5,315.0 922.0,315.4 922.5,320.2 923.0,313.1 923.5,316.9 924.0,319.6 924.5,317.8 925.0,320.0 925.5,316.3 926.0,320.2 926.5,321.9 927.0,325.8 927.5,321.6 928.0,324.8 928.5,321.1 929.0,321.3 929.5,325.9 930.0,323.5 930.5,325.3 931.0,323.6 931.5,327.6 932.0,329.1 932.5,320.9 933.0,328.2 933.5,324.2 934.0,324.3 934.5,321.9 935.0,323.3 935.5,318.9 936.0,319.5 936.5,319.5 937.0,322.2 937.5,325.1 938.0,324.2 938.5,323.1 939.0,320.1 939.5,316.9 940.0,322.7 940.5,322.5 941.0,322.6 941.5,326.2 942.0,322.5 942.5,322.6 943.0,317.4 943.5,324.6 944.0,322.9 944.5,320.9 945.0,324.8 945.5,320.9 946.0,321.8 946.5,328.4 947.0,325.4 947.5,325.5 948.0,325.9 948.5,326.2 949.0,324.2 949.5,329.8 950.0,323.9 950.5,326.0 951.0,323.0 951.5,322.5 952.0,316.3 952.5,318.4 953.0,328.0 953.5,327.6 954.0,322.7 954.5,324.5 955.0,326.0 955.5,321.1 956.0,329.3 956.5,321.8 957.0,322.3 957.5,316.5 958.0,328.4 958.5,323.9 959.0,328.3 959.5,320.7 960.0,324.1 960.5,323.6 961.0,323.0 961.5,327.2 962.0,327.1 962.5,325.1 963.0,320.2 963.5,323.5 964.0,325.1 964.5,323.2 965.0,322.6 965.5,322.7 966.0,319.0 966.5,322.3 967.0,325.8 967.5,318.9 968.0,321.8 968.5,324.3 969.0,318.7 969.5,321.1 970.0,316.4 970.5,319.1 971.0,316.2 971.5,317.6 972.0,319.1 972.5,319.6 973.0,319.2 973.5,312.8 974.0,323.0 974.5,317.3 975.0,315.3 975.5,315.7 976.0,317.8 976.5,314.4 977.0,316.4 977.5,316.2 978.0,318.8 978.5,316.1 979.0,319.1 979.5,319.3 980.0,317.9 980.5,322.3 981.0,319.2 981.5,317.1 982.0,321.1 982.5,320.7 983.0,320.9 983.5,321.3 984.0,326.9 984.5,321.9 985.0,323.0 985.5,321.0 986.0,325.5 986.5,321.6 987.0,320.4 987.5,319.2 988.0,324.0 988.5,324.4 989.0,318.0 989.5,320.4 990.0,323.3 990.5,325.6 991.0,320.1 991.5,321.7 992.0,325.3 992.5,321.6 993.0,321.7 993.5,321.7 994.0,318.9 994.5,322.2 995.0,323.1 995.5,318.1 996.0,321.8 996.5,324.5 997.0,321.4 997.5,321.8 998.0,316.3 998.5,321.2 999.0,314.1 999.5,320.7 1000.0,313.0 1000.5,310.8 1001.0,309.7 1001.5,310.7 1002.0,309.5 1002.5,309.1 1003.0,310.2 1003.5,313.4 1004.0,315.2 1004.5,313.2 1005.0,318.7 1005.5,313.0 1006.0,314.1 1006.5,314.1 1007.0,319.8 1007.5,314.8 1008.0,315.6 1008.5,322.8 1009.0,324.7 1009.5,324.1 1010.0,316.4 1010.5,320.6 1011.0,322.6 1011.5,319.4 1012.0,314.0 1012.5,316.7 1013.0,311.3 1013.5,309.5 1014.0,315.1 1014.5,306.4 1015.0,295.4 1015.5,290.2 1016.0,292.5 1016.5,288.3 1017.0,293.9 1017.5,294.4 1018.0,299.8 1018.5,305.3 1019.0,303.9 1019.5,302.9 1020.0,304.9 1020.5,306.3 1021.0,307.2 1021.5,306.4 1022.0,304.0 1022.5,303.5 1023.0,296.3 1023.5,298.8 1024.0,297.0 1024.5,288.5 1025.0,283.5 1025.5,282.4 1026.0,277.3 1026.5,273.7 1027.0,272.4 1027.5,271.4 1028.0,272.2 1028.5,280.3 1029.0,286.0 1029.5,283.2 1030.0,289.5 1030.5,294.1 1031.0,295.8 1031.5,296.9 1032.0,300.4 1032.5,298.2 1033.0,305.0 1033.5,305.9 1034.0,312.8 1034.5,310.3 1035.0,306.4 1035.5,307.8 1036.0,312.4 1036.5,311.8 1037.0,308.2 1037.5,307.5 1038.0,303.4 1038.5,306.8 1039.0,307.1 1039.5,305.1 1040.0,311.9 1040.5,301.8 1041.0,307.2 1041.5,308.1 1042.0,308.4 1042.5,311.6 1043.0,302.7 1043.5,305.1 1044.0,307.3 1044.5,307.5 1045.0,305.6 1045.5,303.9 1046.0,309.4 1046.5,302.8 1047.0,304.0 1047.5,308.6 1048.0,309.2 1048.5,308.1 1049.0,303.6 1049.5,304.5 1050.0,305.5 1050.5,304.6 1051.0,306.7 1051.5,311.6 1052.0,309.5 1052.5,307.0 1053.0,306.7 1053.5,307.2 1054.0,314.4 1054.5,306.6 1055.0,314.0 1055.5,308.8 1056.0,310.5 1056.5,309.2 1057.0,315.8 1057.5,313.3 1058.0,321.2 1058.5,311.0 1059.0,311.0 1059.5,316.7 1060.0,317.1 1060.5,314.5 1061.0,310.9 1061.5,320.5 1062.0,318.1 1062.5,317.9 1063.0,315.5 1063.5,319.1 1064.0,316.1 1064.5,317.9 1065.0,317.7 1065.5,321.8 1066.0,317.0 1066.5,317.8 1067.0,321.7 1067.5,320.2 1068.0,319.3 1068.5,319.1 1069.0,322.9 1069.5,318.4 1070.0,322.0 1070.5,326.7 1071.0,322.5 1071.5,319.4 1072.0,318.9 1072.5,322.2 1073.0,319.6 1073.5,318.1 1074.0,321.0 1074.5,319.7 1075.0,324.8 1075.5,318.3 1076.0,325.7 1076.5,320.4 1077.0,322.3 1077.5,323.8 1078.0,323.0 1078.5,324.7 1079.0,320.3 1079.5,317.7 1080.0,322.6 1080.5,318.4 1081.0,321.1 1081.5,325.0 1082.0,322.2 1082.5,321.6 1083.0,320.7 1083.5,322.7 1084.0,322.8 1084.5,319.1 1085.0,324.0 1085.5,320.4 1086.0,323.7 1086.5,321.4 1087.0,325.4 1087.5,325.2 1088.0,322.7 1088.5,322.5 1089.0,323.9 1089.5,326.4 1090.0,325.3 1090.5,322.4 1091.0,323.4 1091.5,327.0 1092.0,318.1 1092.5,323.4 1093.0,319.8 1093.5,325.9 1094.0,320.5 1094.5,322.0 1095.0,319.6 1095.5,322.5 1096.0,324.8 1096.5,326.6 1097.0,318.4 1097.5,321.0 1098.0,332.4 1098.5,323.9 1099.0,321.9 1099.5,323.5 1100.0,314.8 1100.5,325.9 1101.0,322.2 1101.5,317.7 1102.0,324.3 1102.5,318.9 1103.0,317.4 1103.5,321.5 1104.0,320.9 1104.5,317.8 1105.0,318.7 1105.5,315.1 1106.0,314.7 1106.5,320.5 1107.0,321.1 1107.5,318.7 1108.0,318.5 1108.5,315.4 1109.0,316.6 1109.5,314.3 1110.0,321.5 1110.5,314.8 1111.0,318.1 1111.5,316.9 1112.0,313.1 1112.5,321.9 1113.0,315.0 1113.5,313.9 1114.0,316.6 1114.5,313.6 1115.0,315.8 1115.5,313.2 1116.0,317.1 1116.5,315.9 1117.0,311.7 1117.5,318.7 1118.0,316.3 1118.5,313.3 1119.0,316.9 1119.5,316.8 1120.0,321.2 1120.5,314.0 1121.0,317.8 1121.5,315.1 1122.0,316.3 1122.5,314.0 1123.0,313.7 1123.5,314.5 1124.0,309.9 1124.5,306.1 1125.0,310.8 1125.5,308.2 1126.0,307.9 1126.5,308.7 1127.0,304.2 1127.5,306.0 1128.0,301.2 1128.5,299.8 1129.0,300.7 1129.5,298.3 1130.0,295.7 1130.5,294.8 1131.0,290.2 1131.5,289.9 1132.0,289.7 1132.5,289.8 1133.0,284.2 1133.5,284.6 1134.0,284.7 1134.5,282.7 1135.0,273.3 1135.5,274.0 1136.0,270.5 1136.5,269.4 1137.0,267.9 1137.5,266.7 1138.0,268.4 1138.5,267.3 1139.0,268.4 1139.5,272.2 1140.0,275.8 1140.5,281.5 1141.0,282.0 1141.5,286.6 1142.0,291.8 1142.5,287.7 1143.0,292.5 1143.5,298.1 1144.0,298.9 1144.5,299.0 1145.0,306.1 1145.5,304.8 1146.0,304.3 1146.5,314.1 1147.0,306.8 1147.5,311.5 1148.0,310.6 1148.5,313.8 1149.0,316.3 1149.5,313.8 1150.0,317.1 1150.5,316.9 1151.0,315.4 1151.5,320.7 1152.0,318.9 1152.5,318.1 1153.0,317.3 1153.5,318.9 1154.0,320.8 1154.5,319.7 1155.0,325.1 1155.5,314.8 1156.0,315.8 1156.5,320.8 1157.0,316.4 1157.5,321.3 1158.0,319.2 1158.5,322.9 1159.0,323.5 1159.5,326.3 1160.0,324.8 1160.5,325.1 1161.0,322.9 1161.5,324.3 1162.0,322.8 1162.5,319.3 1163.0,317.0 1163.5,317.0 1164.0,321.3 1164.5,313.5 1165.0,321.2 1165.5,318.8 1166.0,321.9 1166.5,320.0 1167.0,317.7 1167.5,319.6 1168.0,313.9 1168.5,320.5 1169.0,321.3 1169.5,316.1 1170.0,324.5 1170.5,321.8 1171.0,322.4 1171.5,318.2 1172.0,323.6 1172.5,324.0 1173.0,321.8 1173.5,319.3 1174.0,323.9 1174.5,325.6 1175.0,323.0 1175.5,325.0 1176.0,320.7 1176.5,322.0 1177.0,322.4 1177.5,321.5 1178.0,328.8 1178.5,322.3 1179.0,319.7 1179.5,322.9 1180.0,318.8 1180.5,322.9 1181.0,324.0 1181.5,320.9 1182.0,321.6 1182.5,320.0 1183.0,323.0 1183.5,321.6 1184.0,327.9 1184.5,325.8 1185.0,322.8 1185.5,319.9 1186.0,328.9 1186.5,327.1 1187.0,324.5 1187.5,323.7 1188.0,323.3 1188.5,321.5 1189.0,327.7 1189.5,323.4 1190.0,319.1 1190.5,320.7 1191.0,315.2 1191.5,323.5 1192.0,324.3 1192.5,327.0 1193.0,327.9 1193.5,320.9 1194.0,324.2 1194.5,325.9 1195.0,325.3 1195.5,321.7 1196.0,325.0 1196.5,324.3 1197.0,325.6 1197.5,322.3 1198.0,322.2 1198.5,321.1 1199.0,321.6 1199.5,320.5 1200.0,321.7 1200.5,323.8 1201.0,323.5 1201.5,325.1 1202.0,325.3 1202.5,324.4 1203.0,320.0 1203.5,324.4 1204.0,326.9 1204.5,319.8 1205.0,320.3 1205.5,320.9 1206.0,320.4 1206.5,322.1 1207.0,320.6 1207.5,324.1 1208.0,320.2 1208.5,323.2 1209.0,322.1 1209.5,320.3 1210.0,325.2 1210.5,322.7 1211.0,324.1 1211.5,322.4 1212.0,324.2 1212.5,324.2 1213.0,322.7 1213.5,318.7 1214.0,325.0 1214.5,324.0 1215.0,322.9 1215.5,323.2 1216.0,322.6 1216.5,323.0 1217.0,320.1 1217.5,322.5 1218.0,323.1 1218.5,320.4 1219.0,320.1 1219.5,327.6 1220.0,324.5 1220.5,322.3 1221.0,321.8 1221.5,316.6 1222.0,319.8 1222.5,322.6 1223.0,326.6 1223.5,317.3 1224.0,320.4 1224.5,327.6 1225.0,324.2 1225.5,323.7 1226.0,325.8 1226.5,322.0 1227.0,320.7 1227.5,322.4 1228.0,322.4 1228.5,317.0 1229.0,324.1 1229.5,316.2 1230.0,319.2 1230.5,329.8 1231.0,320.6 1231.5,323.6 1232.0,319.3 1232.5,321.3 1233.0,320.3 1233.5,321.0 1234.0,324.4 1234.5,327.8 1235.0,325.8 1235.5,327.6 1236.0,321.7 1236.5,326.6 1237.0,324.1 1237.5,326.3 1238.0,321.3 1238.5,321.6 1239.0,325.5 1239.5,323.2 1240.0,322.0 1240.5,320.0 1241.0,321.4 1241.5,322.6 1242.0,322.9 1242.5,319.4 1243.0,319.9 1243.5,321.7 1244.0,317.4 1244.5,323.5 1245.0,321.5 1245.5,321.8 1246.0,316.3 1246.5,318.2 1247.0,319.5 1247.5,320.9 1248.0,319.8 1248.5,323.3 1249.0,322.9 1249.5,321.9 1250.0,317.3 1250.5,326.1 1251.0,321.8 1251.5,323.0 1252.0,319.5 1252.5,320.7 1253.0,322.2 1253.5,321.6 1254.0,323.4 1254.5,320.5 1255.0,325.9 1255.5,316.0 1256.0,318.8 1256.5,322.5 1257.0,318.8 1257.5,318.8 1258.0,315.3 1258.5,323.8 1259.0,315.7 1259.5,322.0 1260.0,321.1 1260.5,322.7 1261.0,323.9 1261.5,317.6 1262.0,317.3 1262.5,318.5 1263.0,314.9 1263.5,321.3 1264.0,318.9 1264.5,320.2 1265.0,316.5 1265.5,319.6 1266.0,317.3 1266.5,319.0 1267.0,315.8 1267.5,321.7 1268.0,317.5 1268.5,312.3 1269.0,321.1 1269.5,318.5 1270.0,317.6 1270.5,327.3 1271.0,319.6 1271.5,315.7 1272.0,318.2 1272.5,320.7 1273.0,319.5 1273.5,323.2 1274.0,323.7 1274.5,318.9 1275.0,321.4 1275.5,323.1 1276.0,320.1 1276.5,320.5 1277.0,323.6 1277.5,321.8 1278.0,317.8 1278.5,320.8 1279.0,320.5 1279.5,321.6 1280.0,320.2 1280.5,326.0 1281.0,320.0 1281.5,319.8 1282.0,322.9 1282.5,316.5 1283.0,320.2 1283.5,324.5 1284.0,319.5 1284.5,321.7 1285.0,326.2 1285.5,324.5 1286.0,323.4 1286.5,324.0 1287.0,321.9 1287.5,324.9 1288.0,322.9 1288.5,328.9 1289.0,323.9 1289.5,321.9 1290.0,322.4 1290.5,322.5 1291.0,318.3 1291.5,319.3 1292.0,325.3 1292.5,316.9 1293.0,319.3 1293.5,323.7 1294.0,324.4 1294.5,316.8 1295.0,323.4 1295.5,318.9 1296.0,323.9 1296.5,320.3 1297.0,317.5 1297.5,319.9 1298.0,319.4 1298.5,315.9 1299.0,323.6 1299.5,316.9 1300.0,320.5 1300.5,315.5 1301.0,310.9 1301.5,312.6 1302.0,315.0 1302.5,316.7 1303.0,319.6 1303.5,314.8 1304.0,314.1 1304.5,311.3 1305.0,314.6 1305.5,315.3 1306.0,309.2 1306.5,319.2 1307.0,319.7 1307.5,323.2 1308.0,315.9 1308.5,319.0 1309.0,319.6 1309.5,316.8 1310.0,318.4 1310.5,318.6 1311.0,323.1 1311.5,323.6 1312.0,326.5 1312.5,322.6 1313.0,319.4 1313.5,324.5 1314.0,324.1 1314.5,324.6 1315.0,325.7 1315.5,321.1 1316.0,325.0 1316.5,320.2 1317.0,323.7 1317.5,325.1 1318.0,323.2 1318.5,324.3 1319.0,320.2 1319.5,321.8 1320.0,324.0 1320.5,320.7 1321.0,321.5 1321.5,330.5 1322.0,324.9 1322.5,322.4 1323.0,321.6 1323.5,328.0 1324.0,316.2 1324.5,322.7 1325.0,324.9 1325.5,321.3 1326.0,323.9 1326.5,320.2 1327.0,323.3 1327.5,323.3 1328.0,323.4 1328.5,323.6 1329.0,323.6 1329.5,325.9 1330.0,322.7 1330.5,321.8 1331.0,323.7 1331.5,323.4 1332.0,320.0 1332.5,319.2 1333.0,320.7 1333.5,324.7 1334.0,322.1 1334.5,322.8 1335.0,331.4 1335.5,327.1 1336.0,323.5 1336.5,322.5 1337.0,327.4 1337.5,322.3 1338.0,326.4 1338.5,324.7 1339.0,326.9 1339.5,321.5 1340.0,325.9 1340.5,319.0 1341.0,323.4 1341.5,326.7 1342.0,325.6 1342.5,318.7 1343.0,325.6 1343.5,324.7 1344.0,323.4 1344.5,320.8 1345.0,322.7 1345.5,321.8 1346.0,326.0 1346.5,324.2 1347.0,325.8 1347.5,324.2 1348.0,318.7 1348.5,322.2 1349.0,328.2 1349.5,319.5 1350.0,322.7 1350.5,320.4 1351.0,320.1 1351.5,322.9 1352.0,324.5 1352.5,324.0 1353.0,322.7 1353.5,323.7 1354.0,315.4 1354.5,321.0 1355.0,319.1 1355.5,316.1 1356.0,313.9 1356.5,309.3 1357.0,312.8 1357.5,304.8 1358.0,300.2 1358.5,304.3 1359.0,302.5 1359.5,304.7 1360.0,310.3 1360.5,307.2 1361.0,310.2 1361.5,318.5 1362.0,309.3 1362.5,315.4 1363.0,319.0 1363.5,321.3 1364.0,324.1 1364.5,316.6 1365.0,321.9 1365.5,320.6 1366.0,320.4 1366.5,319.6 1367.0,318.4 1367.5,323.5 1368.0,324.6 1368.5,319.2 1369.0,324.6 1369.5,320.8 1370.0,319.5 1370.5,314.7 1371.0,324.8 1371.5,324.1 1372.0,321.0 1372.5,320.2 1373.0,318.2 1373.5,323.4 1374.0,321.5 1374.5,323.2 1375.0,322.7 1375.5,318.2 1376.0,317.5 1376.5,323.0 1377.0,317.6 1377.5,323.0 1378.0,324.9 1378.5,319.6 1379.0,324.5 1379.5,322.6 1380.0,323.2 1380.5,320.3 1381.0,322.1 1381.5,322.6 1382.0,325.8 1382.5,322.6 1383.0,321.4 1383.5,316.6 1384.0,321.2 1384.5,318.5 1385.0,319.5 1385.5,319.7 1386.0,322.1 1386.5,321.5 1387.0,320.2 1387.5,318.9 1388.0,322.0 1388.5,315.9 1389.0,318.9 1389.5,322.9 1390.0,318.5 1390.5,320.9 1391.0,320.2 1391.5,323.1 1392.0,320.4 1392.5,312.8 1393.0,316.6 1393.5,317.4 1394.0,318.9 1394.5,317.8 1395.0,322.2 1395.5,320.2 1396.0,314.1 1396.5,316.0 1397.0,312.6 1397.5,322.8 1398.0,317.6 1398.5,317.1 1399.0,313.6 1399.5,317.0 1400.0,319.8 1400.5,317.8 1401.0,317.7 1401.5,317.4 1402.0,324.7 1402.5,317.8 1403.0,314.5 1403.5,316.7 1404.0,317.5 1404.5,318.1 1405.0,318.5 1405.5,316.9 1406.0,319.6 1406.5,321.3 1407.0,316.5 1407.5,325.3 1408.0,325.4 1408.5,316.4 1409.0,320.7 1409.5,324.8 1410.0,326.3 1410.5,327.8 1411.0,317.5 1411.5,319.8 1412.0,321.2 1412.5,323.3 1413.0,319.0 1413.5,323.0 1414.0,323.0 1414.5,323.7 1415.0,317.8 1415.5,322.1 1416.0,320.9 1416.5,319.3 1417.0,323.5 1417.5,319.2 1418.0,324.5 1418.5,319.8 1419.0,325.7 1419.5,326.3 1420.0,319.4 1420.5,322.5 1421.0,322.7 1421.5,318.9 1422.0,323.7 1422.5,322.5 1423.0,319.2 1423.5,322.2 1424.0,324.4 1424.5,321.5 1425.0,319.4 1425.5,324.5 1426.0,317.4 1426.5,320.5 1427.0,322.5 1427.5,321.4 1428.0,314.5 1428.5,319.0 1429.0,319.9 1429.5,320.2 1430.0,322.4 1430.5,322.7 1431.0,322.1 1431.5,322.6 1432.0,324.7 1432.5,325.9 1433.0,317.9 1433.5,329.0 1434.0,322.1 1434.5,326.0 1435.0,318.8 1435.5,321.5 1436.0,319.0 1436.5,324.7 1437.0,323.6 1437.5,320.4 1438.0,319.5 1438.5,321.1 1439.0,317.4 1439.5,318.3 1440.0,317.1 1440.5,321.2 1441.0,319.1 1441.5,315.3 1442.0,320.1 1442.5,320.8 1443.0,323.0 1443.5,317.9 1444.0,320.9 1444.5,325.5 1445.0,318.9 1445.5,318.3 1446.0,320.1 1446.5,317.3 1447.0,318.9 1447.5,317.4 1448.0,316.7 1448.5,321.3 1449.0,317.9 1449.5,316.1 1450.0,318.4 1450.5,318.8 1451.0,320.0 1451.5,321.7 1452.0,324.8 1452.5,316.6 1453.0,320.2 1453.5,316.1 1454.0,322.3 1454.5,323.6 1455.0,320.2 1455.5,319.6 1456.0,319.8 1456.5,319.0 1457.0,324.6 1457.5,328.1 1458.0,319.9 1458.5,327.8 1459.0,322.6 1459.5,319.9 1460.0,325.5 1460.5,326.0 1461.0,325.4 1461.5,323.5 1462.0,328.7 1462.5,323.7 1463.0,325.6 1463.5,325.3 1464.0,321.0 1464.5,318.3 1465.0,318.6 1465.5,321.4 1466.0,323.7 1466.5,317.8 1467.0,320.1 1467.5,326.3 1468.0,316.9 1468.5,322.7 1469.0,322.5 1469.5,323.5 1470.0,317.3 1470.5,322.1 1471.0,317.4 1471.5,323.9 1472.0,318.0 1472.5,321.7 1473.0,318.6 1473.5,320.8 1474.0,316.4 1474.5,320.7 1475.0,320.9 1475.5,319.3 1476.0,323.5 1476.5,319.9 1477.0,321.5 1477.5,320.9 1478.0,324.6 1478.5,318.3 1479.0,319.8 1479.5,320.3 1480.0,321.8 1480.5,320.8 1481.0,322.8 1481.5,321.5 1482.0,320.1 1482.5,321.1 1483.0,322.5 1483.5,315.0 1484.0,324.9 1484.5,319.8 1485.0,321.1 1485.5,323.3 1486.0,321.9 1486.5,318.9 1487.0,322.8 1487.5,326.9 1488.0,325.1 1488.5,326.3 1489.0,321.4 1489.5,323.2 1490.0,326.7 1490.5,328.0 1491.0,323.6 1491.5,320.2 1492.0,317.5 1492.5,326.0 1493.0,317.3 1493.5,322.5 1494.0,323.7 1494.5,330.6 1495.0,322.9 1495.5,321.8 1496.0,322.8 1496.5,322.9 1497.0,325.0 1497.5,323.1 1498.0,320.0 1498.5,316.7 1499.0,323.4 1499.5,320.5 1500.0,327.0 1500.5,319.1 1501.0,322.8 1501.5,320.1 1502.0,319.4 1502.5,326.0 1503.0,322.4 1503.5,321.7 1504.0,324.3 1504.5,320.4 1505.0,321.2 1505.5,320.5 1506.0,327.1 1506.5,323.6 1507.0,323.6 1507.5,324.9 1508.0,322.3 1508.5,322.5 1509.0,318.5 1509.5,324.5 1510.0,324.4 1510.5,322.2 1511.0,326.4 1511.5,318.3 1512.0,324.4 1512.5,319.2 1513.0,320.3 1513.5,321.7 1514.0,326.4 1514.5,319.9 1515.0,319.8 1515.5,319.1 1516.0,328.5 1516.5,324.7 1517.0,324.1 1517.5,328.4 1518.0,324.0 1518.5,318.0 1519.0,322.7 1519.5,320.8 1520.0,329.5 1520.5,320.6 1521.0,325.1 1521.5,322.8 1522.0,323.4 1522.5,325.3 1523.0,324.4 1523.5,323.0 1524.0,320.9 1524.5,322.3 1525.0,320.5 1525.5,320.1 1526.0,323.1 1526.5,322.6 1527.0,324.5 1527.5,323.0 1528.0,328.4 1528.5,321.1 1529.0,319.8 1529.5,325.3 1530.0,320.7 1530.5,322.2 1531.0,324.2 1531.5,321.6 1532.0,321.5 1532.5,324.9 1533.0,322.2 1533.5,319.8 1534.0,317.4 1534.5,319.4 1535.0,316.3 1535.5,318.4 1536.0,318.3 1536.5,321.4 1537.0,322.2 1537.5,318.6 1538.0,318.9 1538.5,317.1 1539.0,316.4 1539.5,319.3 1540.0,322.4 1540.5,322.0 1541.0,322.1 1541.5,319.5 1542.0,312.6 1542.5,323.0 1543.0,323.4 1543.5,322.7 1544.0,323.1 1544.5,323.0 1545.0,327.8 1545.5,321.0 1546.0,324.0 1546.5,321.7 1547.0,321.5 1547.5,318.8 1548.0,318.5 1548.5,316.6 1549.0,321.3 1549.5,318.1 1550.0,315.4 1550.5,316.0 1551.0,314.1 1551.5,322.5 1552.0,317.4 1552.5,317.4 1553.0,314.0 1553.5,314.1 1554.0,319.5 1554.5,316.2 1555.0,317.2 1555.5,320.8 1556.0,320.7 1556.5,316.6 1557.0,316.0 1557.5,314.9 1558.0,313.6 1558.5,320.2 1559.0,310.7 1559.5,315.6 1560.0,310.1 1560.5,311.8 1561.0,316.7 1561.5,316.7 1562.0,316.8 1562.5,315.0 1563.0,314.8 1563.5,315.2 1564.0,315.8 1564.5,320.9 1565.0,322.3 1565.5,319.6 1566.0,317.1 1566.5,315.3 1567.0,318.6 1567.5,317.6 1568.0,313.1 1568.5,322.0 1569.0,317.6 1569.5,317.1 1570.0,316.0 1570.5,316.6 1571.0,321.3 1571.5,315.5 1572.0,318.6 1572.5,319.5 1573.0,323.3 1573.5,319.4 1574.0,317.6 1574.5,317.0 1575.0,320.2 1575.5,321.9 1576.0,318.1 1576.5,320.8 1577.0,318.6 1577.5,314.9 1578.0,317.4 1578.5,323.1 1579.0,324.8 1579.5,323.1 1580.0,320.7 1580.5,320.0 1581.0,324.1 1581.5,323.6 1582.0,319.1 1582.5,324.2 1583.0,320.6 1583.5,325.2 1584.0,324.6 1584.5,324.8 1585.0,325.3 1585.5,324.1 1586.0,319.3 1586.5,318.9 1587.0,324.7 1587.5,323.1 1588.0,316.9 1588.5,315.0 1589.0,322.6 1589.5,326.6 1590.0,323.2 1590.5,319.9 1591.0,321.0 1591.5,312.6 1592.0,318.0 1592.5,323.5 1593.0,323.0 1593.5,315.4 1594.0,324.0 1594.5,322.3 1595.0,323.2 1595.5,320.9 1596.0,321.8 1596.5,319.5 1597.0,323.0 1597.5,324.5 1598.0,320.0 1598.5,323.8 1599.0,321.0 1599.5,325.4 1600.0,325.5 1600.5,316.4 1601.0,324.2 1601.5,325.8 1602.0,322.1 1602.5,323.1 1603.0,323.4 1603.5,320.3 1604.0,323.0 1604.5,327.5 1605.0,324.9 1605.5,327.2 1606.0,325.5 1606.5,326.3 1607.0,322.8 1607.5,324.9 1608.0,329.0 1608.5,327.3 1609.0,323.9 1609.5,320.8 1610.0,319.4 1610.5,322.7 1611.0,323.7 1611.5,318.0 1612.0,322.7 1612.5,323.2 1613.0,323.4 1613.5,320.7 1614.0,328.2 1614.5,324.2 1615.0,317.8 1615.5,319.5 1616.0,323.8 1616.5,323.4 1617.0,322.3 1617.5,321.8 1618.0,321.1 1618.5,321.2 1619.0,320.0 1619.5,324.8 1620.0,316.1 1620.5,322.0 1621.0,328.3 1621.5,323.1 1622.0,321.3 1622.5,329.8 1623.0,327.4 1623.5,324.3 1624.0,323.7 1624.5,324.8 1625.0,324.4 1625.5,323.4 1626.0,322.5 1626.5,325.3 1627.0,321.8 1627.5,318.0 1628.0,319.5 1628.5,322.6 1629.0,320.1 1629.5,316.2 1630.0,327.6 1630.5,324.2 1631.0,321.8 1631.5,321.4 1632.0,324.1 1632.5,326.7 1633.0,320.8 1633.5,324.5 1634.0,322.0 1634.5,324.8 1635.0,320.2 1635.5,318.5 1636.0,323.7 1636.5,323.5 1637.0,324.6 1637.5,321.3 1638.0,326.0 1638.5,322.3 1639.0,326.4 1639.5,321.6 1640.0,327.2 1640.5,322.4 1641.0,322.5 1641.5,324.9 1642.0,317.5 1642.5,318.9 1643.0,327.2 1643.5,317.9 1644.0,321.1 1644.5,324.1 1645.0,326.6 1645.5,321.8 1646.0,324.1 1646.5,320.3 1647.0,321.7 1647.5,325.9 1648.0,324.4 1648.5,323.5 1649.0,325.3 1649.5,324.8 1650.0,324.8 1650.5,323.2 1651.0,321.5 1651.5,325.6 1652.0,321.1"/>
<polyline fill="none" stroke="#ff0000" stroke-width="6.0" stroke-linejoin="round" stroke-linecap="butt" points="115.0,604.6 115.5,603.4 116.0,605.9 116.5,607.9 117.0,609.8 117.5,607.0 118.0,605.3 118.5,604.1 119.0,607.0 119.5,608.6 120.0,605.3 120.5,601.6 121.0,602.3 121.5,608.8 122.0,605.6 122.5,600.5 123.0,604.6 123.5,601.4 124.0,602.7 124.5,603.1 125.0,602.4 125.5,606.0 126.0,604.9 126.5,603.7 127.0,606.0 127.5,606.8 128.0,600.7 128.5,604.1 129.0,601.5 129.5,603.7 130.0,601.1 130.5,604.3 131.0,603.3 131.5,603.0 132.0,601.3 132.5,602.9 133.0,601.1 133.5,601.1 134.0,605.5 134.5,602.0 135.0,607.7 135.5,606.5 136.0,600.1 136.5,605.6 137.0,602.1 137.5,605.3 138.0,605.9 138.5,600.6 139.0,604.8 139.5,605.1 140.0,608.0 140.5,602.4 141.0,606.7 141.5,601.8 142.0,603.6 142.5,602.4 143.0,608.1 143.5,605.9 144.0,611.0 144.5,606.5 145.0,607.4 145.5,607.5 146.0,603.8 146.5,605.2 147.0,608.5 147.5,604.1 148.0,605.7 148.5,605.7 149.0,606.8 149.5,604.6 150.0,605.6 150.5,606.5 151.0,605.5 151.5,603.6 152.0,607.6 152.5,602.4 153.0,602.7 153.5,602.1 154.0,608.2 154.5,604.9 155.0,602.9 155.5,602.1 156.0,606.4 156.5,602.6 157.0,601.8 157.5,606.8 158.0,602.5 158.5,603.9 159.0,604.9 159.5,603.8 160.0,605.2 160.5,608.6 161.0,603.6 161.5,601.9 162.0,600.5 162.5,604.6 163.0,604.5 163.5,605.5 164.0,603.3 164.5,603.3 165.0,602.8 165.5,603.6 166.0,604.8 166.5,603.1 167.0,604.2 167.5,608.7 168.0,605.2 168.5,600.1 169.0,608.9 169.5,605.9 170.0,602.5 170.5,607.1 171.0,605.2 171.5,603.7 172.0,603.7 172.5,602.5 173.0,605.1 173.5,607.6 174.0,604.2 174.5,606.2 175.0,610.2 175.5,601.8 176.0,605.6 176.5,603.8 177.0,601.9 177.5,602.3 178.0,603.9 178.5,604.6 179.0,601.8 179.5,603.3 180.0,605.4 180.5,604.8 181.0,606.3 181.5,605.7 182.0,605.7 182.5,608.9 183.0,605.5 183.5,604.3 184.0,605.2 184.5,601.9 185.0,604.3 185.5,606.9 186.0,607.1 186.5,609.5 187.0,605.4 187.5,601.7 188.0,609.9 188.5,607.4 189.0,602.6 189.5,609.0 190.0,606.0 190.5,601.6 191.0,604.9 191.5,603.9 192.0,609.0 192.5,603.4 193.0,604.0 193.5,604.2 194.0,604.1 194.5,602.5 195.0,605.6 195.5,607.5 196.0,605.9 196.5,602.1 197.0,601.0 197.5,603.9 198.0,601.5 198.5,601.6 199.0,598.2 199.5,607.2 200.0,604.7 200.5,600.1 201.0,604.7 201.5,606.0 202.0,596.5 202.5,601.3 203.0,601.3 203.5,603.8 204.0,601.9 204.5,601.9 205.0,602.9 205.5,607.7 206.0,609.4 206.5,602.9 207.0,601.2 207.5,609.9 208.0,600.6 208.5,600.9 209.0,601.5 209.5,601.9 210.0,603.2 210.5,601.8 211.0,598.5 211.5,601.9 212.0,600.8 212.5,605.2 213.0,599.6 213.5,595.7 214.0,596.8 214.5,602.7 215.0,596.7 215.5,592.8 216.0,596.9 216.5,598.1 217.0,600.1 217.5,593.7 218.0,596.9 218.5,596.3 219.0,591.7 219.5,592.2 220.0,596.0 220.5,593.9 221.0,590.5 221.5,587.9 222.0,588.6 222.5,582.7 223.0,581.2 223.5,576.7 224.0,576.3 224.5,572.0 225.0,575.9 225.5,562.1 226.0,559.4 226.5,551.1 227.0,536.7 227.5,529.7 228.0,506.0 228.5,496.9 229.0,481.2 229.5,451.1 230.0,433.1 230.5,419.2 231.0,395.8 231.5,379.1 232.0,374.9 232.5,375.8 233.0,389.5 233.5,404.6 234.0,422.2 234.5,441.2 235.0,462.9 235.5,485.9 236.0,499.7 236.5,514.4 237.0,523.4 237.5,529.5 238.0,539.0 238.5,548.4 239.0,550.0 239.5,549.0 240.0,547.6 240.5,552.4 241.0,550.1 241.5,549.3 242.0,548.3 242.5,548.9 243.0,547.8 243.5,550.5 244.0,552.1 244.5,555.3 245.0,557.1 245.5,557.3 246.0,561.4 246.5,568.1 247.0,570.7 247.5,577.6 248.0,583.5 248.5,581.2 249.0,581.2 249.5,591.3 250.0,590.4 250.5,593.2 251.0,588.7 251.5,598.4 252.0,596.1 252.5,594.6 253.0,595.5 253.5,597.1 254.0,596.8 254.5,596.8 255.0,595.0 255.5,601.8 256.0,598.7 256.5,599.5 257.0,599.6 257.5,593.9 258.0,602.1 258.5,600.0 259.0,600.3 259.5,601.5 260.0,599.6 260.5,603.9 261.0,600.0 261.5,599.0 262.0,598.9 262.5,601.2 263.0,602.9 263.5,599.0 264.0,596.9 264.5,604.0 265.0,597.3 265.5,602.4 266.0,598.6 266.5,596.2 267.0,594.7 267.5,596.3 268.0,594.4 268.5,587.0 269.0,583.7 269.5,579.5 270.0,564.2 270.5,553.6 271.0,548.8 271.5,547.5 272.0,556.2 272.5,564.3 273.0,571.8 273.5,584.8 274.0,581.8 274.5,589.6 275.0,601.5 275.5,600.7 276.0,601.0 276.5,601.4 277.0,606.1 277.5,603.5 278.0,602.8 278.5,599.7 279.0,602.7 279.5,601.6 280.0,601.8 280.5,601.9 281.0,603.9 281.5,603.8 282.0,606.6 282.5,601.6 283.0,604.4 283.5,609.6 284.0,604.0 284.5,607.8 285.0,607.0 285.5,607.8 286.0,606.3 286.5,600.7 287.0,603.2 287.5,602.7 288.0,599.5 288.5,601.0 289.0,598.3 289.5,596.4 290.0,600.7 290.5,600.0 291.0,598.7 291.5,597.4 292.0,599.8 292.5,601.1 293.0,602.4 293.5,604.0 294.0,603.9 294.5,605.8 295.0,606.5 295.5,606.4 296.0,603.8 296.5,604.3 297.0,607.0 297.5,604.8 298.0,605.4 298.5,599.2 299.0,597.8 299.5,605.5 300.0,605.2 300.5,608.0 301.0,606.3 301.5,605.1 302.0,604.5 302.5,600.3 303.0,606.3 303.5,602.3 304.0,605.4 304.5,604.8 305.0,605.2 305.5,606.9 306.0,604.1 306.5,604.3 307.0,602.9 307.5,604.3 308.0,609.3 308.5,604.2 309.0,607.7 309.5,607.0 310.0,606.7 310.5,607.2 311.0,602.3 311.5,606.3 312.0,608.8 312.5,603.2 313.0,604.6 313.5,602.6 314.0,605.8 314.5,602.0 315.0,608.6 315.5,603.8 316.0,601.0 316.5,609.6 317.0,607.7 317.5,605.5 318.0,605.7 318.5,602.9 319.0,602.9 319.5,604.4 320.0,605.3 320.5,605.1 321.0,601.6 321.5,598.6 322.0,598.3 322.5,599.5 323.0,597.7 323.5,588.9 324.0,583.2 324.5,583.4 325.0,577.2 325.5,574.1 326.0,569.7 326.5,576.4 327.0,581.2 327.5,588.3 328.0,588.2 328.5,600.1 329.0,600.0 329.5,602.2 330.0,598.4 330.5,601.6 331.0,605.1 331.5,597.2 332.0,601.3 332.5,602.9 333.0,598.6 333.5,602.7 334.0,598.8 334.5,602.3 335.0,599.6 335.5,597.7 336.0,601.5 336.5,596.9 337.0,597.5 337.5,590.1 338.0,590.6 338.5,592.6 339.0,590.6 339.5,585.9 340.0,586.1 340.5,578.5 341.0,579.7 341.5,574.2 342.0,575.6 342.5,570.9 343.0,568.6 343.5,568.1 344.0,570.7 344.5,561.1 345.0,560.5 345.5,564.2 346.0,559.5 346.5,564.1 347.0,559.3 347.5,558.3 348.0,558.9 348.5,562.4 349.0,559.6 349.5,559.3 350.0,558.5 350.5,553.6 351.0,555.3 351.5,561.0 352.0,557.6 352.5,553.9 353.0,551.0 353.5,544.2 354.0,541.6 354.5,532.6 355.0,529.4 355.5,518.3 356.0,512.2 356.5,506.8 357.0,497.8 357.5,496.8 358.0,494.6 358.5,496.5 359.0,505.3 359.5,505.5 360.0,515.1 360.5,532.1 361.0,543.0 361.5,554.9 362.0,559.7 362.5,567.8 363.0,569.7 363.5,579.4 364.0,583.2 364.5,582.2 365.0,585.8 365.5,590.6 366.0,593.3 366.5,586.5 367.0,595.9 367.5,597.2 368.0,596.8 368.5,598.8 369.0,600.3 369.5,597.1 370.0,601.3 370.5,600.1 371.0,598.9 371.5,601.9 372.0,605.8 372.5,598.0 373.0,597.6 373.5,598.0 374.0,607.2 374.5,602.3 375.0,603.3 375.5,601.6 376.0,601.3 376.5,598.3 377.0,603.8 377.5,604.1 378.0,598.7 378.5,601.9 379.0,602.8 379.5,604.6 380.0,605.2 380.5,607.1 381.0,608.3 381.5,607.0 382.0,607.8 382.5,601.5 383.0,603.1 383.5,607.4 384.0,605.8 384.5,605.4 385.0,600.2 385.5,600.1 386.0,606.5 386.5,605.8 387.0,604.3 387.5,604.0 388.0,600.1 388.5,605.5 389.0,607.0 389.5,608.6 390.0,603.8 390.5,602.9 391.0,599.5 391.5,604.9 392.0,605.4 392.5,599.2 393.0,601.1 393.5,600.2 394.0,598.5 394.5,593.1 395.0,598.3 395.5,601.1 396.0,595.9 396.5,597.4 397.0,592.0 397.5,605.1 398.0,603.7 398.5,602.8 399.0,603.3 399.5,602.3 400.0,604.6 400.5,604.6 401.0,604.7 401.5,605.4 402.0,606.3 402.5,609.7 403.0,602.3 403.5,607.6 404.0,604.7 404.5,602.9 405.0,599.6 405.5,607.4 406.0,602.7 406.5,603.2 407.0,605.8 407.5,601.7 408.0,604.9 408.5,605.0 409.0,607.6 409.5,608.2 410.0,603.5 410.5,607.3 411.0,605.3 411.5,606.0 412.0,605.1 412.5,607.4 413.0,602.1 413.5,606.1 414.0,608.7 414.5,605.0 415.0,610.7 415.5,603.4 416.0,606.0 416.5,604.2 417.0,603.5 417.5,602.1 418.0,603.5 418.5,605.1 419.0,603.8 419.5,608.0 420.0,610.1 420.5,601.9 421.0,608.0 421.5,606.3 422.0,606.5 422.5,611.9 423.0,608.4 423.5,605.9 424.0,605.3 424.5,599.9 425.0,606.8 425.5,602.6 426.0,604.4 426.5,604.3 427.0,606.2 427.5,609.7 428.0,606.9 428.5,607.4 429.0,603.4 429.5,605.8 430.0,606.8 430.5,601.4 431.0,610.9 431.5,603.5 432.0,602.6 432.5,609.4 433.0,611.0 433.5,603.7 434.0,603.5 434.5,612.8 435.0,605.2 435.5,599.6 436.0,602.6 436.5,608.8 437.0,605.1 437.5,605.2 438.0,606.1 438.5,604.6 439.0,601.5 439.5,598.5 440.0,603.8 440.5,600.0 441.0,602.9 441.5,607.1 442.0,603.7 442.5,602.2 443.0,602.7 443.5,604.3 444.0,604.6 444.5,598.7 445.0,602.4 445.5,605.9 446.0,603.6 446.5,599.3 447.0,599.0 447.5,595.0 448.0,597.8 448.5,604.2 449.0,599.6 449.5,597.9 450.0,598.5 450.5,600.0 451.0,599.9 451.5,599.2 452.0,598.5 452.5,602.3 453.0,604.6 453.5,599.0 454.0,599.1 454.5,603.6 455.0,597.1 455.5,598.8 456.0,599.1 456.5,600.2 457.0,598.6 457.5,596.6 458.0,599.6 458.5,595.5 459.0,593.1 459.5,592.2 460.0,599.0 460.5,592.1 461.0,596.9 461.5,596.7 462.0,595.7 462.5,592.4 463.0,590.5 463.5,591.2 464.0,586.6 464.5,582.3 465.0,586.8 465.5,579.3 466.0,585.0 466.5,580.7 467.0,578.7 467.5,582.4 468.0,586.7 468.5,582.3 469.0,585.7 469.5,586.8 470.0,591.8 470.5,593.4 471.0,593.9 471.5,592.8 472.0,593.7 472.5,597.8 473.0,598.0 473.5,595.6 474.0,592.0 474.5,597.6 475.0,596.5 475.5,595.7 476.0,599.7 476.5,596.8 477.0,590.6 477.5,589.1 478.0,595.3 478.5,591.4 479.0,593.1 479.5,590.7 480.0,589.0 480.5,593.5 481.0,597.4 481.5,595.2 482.0,593.2 482.5,596.3 483.0,596.5 483.5,599.6 484.0,602.8 484.5,606.9 485.0,602.8 485.5,601.7 486.0,603.3 486.5,603.6 487.0,603.2 487.5,604.6 488.0,605.0 488.5,601.5 489.0,605.5 489.5,604.1 490.0,602.9 490.5,606.8 491.0,604.4 491.5,609.4 492.0,606.1 492.5,605.4 493.0,603.4 493.5,604.4 494.0,607.3 494.5,603.1 495.0,606.8 495.5,600.2 496.0,606.4 496.5,607.5 497.0,605.9 497.5,604.1 498.0,606.5 498.5,602.0 499.0,601.9 499.5,603.9 500.0,606.8 500.5,604.9 501.0,603.7 501.5,605.3 502.0,605.2 502.5,600.3 503.0,596.2 503.5,600.2 504.0,599.6 504.5,602.4 505.0,601.4 505.5,602.5 506.0,605.4 506.5,604.2 507.0,603.9 507.5,608.2 508.0,602.5 508.5,603.4 509.0,608.3 509.5,602.7 510.0,601.5 510.5,608.8 511.0,605.9 511.5,606.8 512.0,606.0 512.5,606.7 513.0,603.5 513.5,605.1 514.0,602.1 514.5,604.9 515.0,605.2 515.5,603.0 516.0,605.3 516.5,611.6 517.0,601.3 517.5,606.8 518.0,607.6 518.5,607.9 519.0,603.9 519.5,609.0 520.0,607.8 520.5,605.8 521.0,605.9 521.5,607.6 522.0,609.8 522.5,609.3 523.0,613.6 523.5,606.9 524.0,609.8 524.5,607.2 525.0,610.2 525.5,607.9 526.0,605.6 526.5,603.8 527.0,605.2 527.5,607.9 528.0,610.7 528.5,609.1 529.0,604.0 529.5,605.6 530.0,606.2 530.5,605.8 531.0,605.5 531.5,607.6 532.0,605.7 532.5,603.8 533.0,600.9 533.5,605.3 534.0,601.4 534.5,604.6 535.0,605.4 535.5,600.9 536.0,603.7 536.5,603.8 537.0,609.5 537.5,605.7 538.0,600.0 538.5,605.6 539.0,605.7 539.5,604.3 540.0,604.0 540.5,605.6 541.0,606.0 541.5,605.9 542.0,603.3 542.5,605.3 543.0,602.1 543.5,601.7 544.0,604.0 544.5,602.4 545.0,604.3 545.5,611.6 546.0,606.2 546.5,602.9 547.0,599.0 547.5,602.7 548.0,600.8 548.5,598.6 549.0,605.3 549.5,602.4 550.0,604.1 550.5,610.8 551.0,602.9 551.5,601.9 552.0,601.6 552.5,599.9 553.0,598.3 553.5,599.2 554.0,602.3 554.5,597.6 555.0,593.8 555.5,593.0 556.0,591.0 556.5,591.1 557.0,588.5 557.5,583.8 558.0,581.1 558.5,572.0 559.0,570.3 559.5,564.9 560.0,564.5 560.5,558.3 561.0,570.5 561.5,566.9 562.0,573.0 562.5,582.0 563.0,581.4 563.5,588.1 564.0,583.7 564.5,579.0 565.0,579.9 565.5,575.2 566.0,576.3 566.5,572.2 567.0,566.6 567.5,562.5 568.0,565.1 568.5,571.8 569.0,571.5 569.5,576.5 570.0,586.0 570.5,590.0 571.0,592.3 571.5,595.2 572.0,592.3 572.5,602.0 573.0,599.3 573.5,596.8 574.0,597.8 574.5,598.8 575.0,606.0 575.5,603.6 576.0,598.1 576.5,606.3 577.0,605.1 577.5,598.8 578.0,593.7 578.5,603.3 579.0,599.4 579.5,600.2 580.0,598.8 580.5,602.9 581.0,603.8 581.5,601.7 582.0,599.0 582.5,600.1 583.0,600.8 583.5,594.8 584.0,602.3 584.5,598.0 585.0,599.4 585.5,598.5 586.0,599.9 586.5,600.2 587.0,602.4 587.5,594.1 588.0,591.0 588.5,592.1 589.0,588.0 589.5,589.5 590.0,581.8 590.5,581.4 591.0,579.4 591.5,575.5 592.0,567.9 592.5,565.3 593.0,558.3 593.5,542.3 594.0,540.1 594.5,531.0 595.0,520.1 595.5,510.5 596.0,504.0 596.5,498.7 597.0,495.1 597.5,497.9 598.0,498.7 598.5,499.3 599.0,505.6 599.5,518.9 600.0,523.0 600.5,533.5 601.0,543.3 601.5,552.8 602.0,557.9 602.5,565.9 603.0,566.2 603.5,574.1 604.0,574.2 604.5,579.3 605.0,583.0 605.5,582.5 606.0,581.1 606.5,592.9 607.0,593.1 607.5,594.7 608.0,593.0 608.5,595.4 609.0,598.3 609.5,597.7 610.0,601.1 610.5,598.9 611.0,597.0 611.5,601.4 612.0,598.0 612.5,600.3 613.0,595.0 613.5,599.0 614.0,601.9 614.5,598.6 615.0,600.5 615.5,602.2 616.0,601.2 616.5,606.4 617.0,601.7 617.5,602.1 618.0,602.1 618.5,597.6 619.0,598.8 619.5,604.8 620.0,602.7 620.5,606.6 621.0,602.1 621.5,602.0 622.0,605.6 622.5,603.6 623.0,607.1 623.5,600.6 624.0,604.2 624.5,604.8 625.0,604.7 625.5,606.4 626.0,606.6 626.5,603.9 627.0,602.4 627.5,606.6 628.0,604.9 628.5,606.5 629.0,607.0 629.5,604.0 630.0,601.7 630.5,602.8 631.0,605.9 631.5,603.3 632.0,606.9 632.5,604.5 633.0,604.6 633.5,602.2 634.0,603.7 634.5,606.9 635.0,603.7 635.5,604.3 636.0,603.5 636.5,608.0 637.0,602.2 637.5,604.5 638.0,607.8 638.5,609.4 639.0,605.4 639.5,608.2 640.0,600.8 640.5,608.0 641.0,606.8 641.5,603.1 642.0,601.0 642.5,604.5 643.0,606.0 643.5,605.5 644.0,604.5 644.5,606.0 645.0,606.0 645.5,600.2 646.0,601.9 646.5,601.1 647.0,604.3 647.5,600.0 648.0,602.8 648.5,599.0 649.0,604.3 649.5,596.0 650.0,594.8 650.5,593.0 651.0,591.7 651.5,595.2 652.0,583.8 652.5,578.1 653.0,575.4 653.5,571.6 654.0,560.3 654.5,557.2 655.0,549.3 655.5,537.9 656.0,527.9 656.5,518.9 657.0,513.3 657.5,507.4 658.0,512.0 658.5,514.7 659.0,514.4 659.5,522.7 660.0,525.4 660.5,538.9 661.0,550.1 661.5,558.1 662.0,564.9 662.5,573.4 663.0,576.8 663.5,580.0 664.0,589.7 664.5,582.6 665.0,586.9 665.5,590.3 666.0,590.6 666.5,591.7 667.0,594.3 667.5,593.1 668.0,595.5 668.5,598.1 669.0,596.2 669.5,596.1 670.0,592.9 670.5,590.6 671.0,591.5 671.5,593.7 672.0,589.9 672.5,589.3 673.0,587.5 673.5,586.1 674.0,578.9 674.5,583.6 675.0,582.0 675.5,586.0 676.0,584.0 676.5,585.9 677.0,587.8 677.5,591.5 678.0,588.5 678.5,593.7 679.0,595.8 679.5,600.2 680.0,597.2 680.5,600.1 681.0,604.5 681.5,599.1 682.0,602.5 682.5,599.3 683.0,600.5 683.5,602.0 684.0,602.3 684.5,598.2 685.0,596.6 685.5,602.6 686.0,599.2 686.5,599.7 687.0,599.1 687.5,597.2 688.0,593.6 688.5,591.8 689.0,585.8 689.5,587.1 690.0,581.6 690.5,578.4 691.0,579.8 691.5,574.4 692.0,572.6 692.5,571.0 693.0,578.7 693.5,583.1 694.0,578.0 694.5,581.6 695.0,578.1 695.5,577.0 696.0,573.9 696.5,566.3 697.0,563.2 697.5,552.6 698.0,552.4 698.5,539.5 699.0,522.0 699.5,504.5 700.0,481.2 700.5,455.4 701.0,425.6 701.5,392.1 702.0,360.2 702.5,330.3 703.0,312.9 703.5,309.6 704.0,323.1 704.5,343.3 705.0,379.1 705.5,403.6 706.0,432.3 706.5,461.0 707.0,486.2 707.5,507.5 708.0,520.1 708.5,527.5 709.0,537.1 709.5,545.7 710.0,546.9 710.5,550.2 711.0,548.4 711.5,553.3 712.0,553.4 712.5,554.4 713.0,554.4 713.5,553.3 714.0,556.3 714.5,564.5 715.0,567.4 715.5,558.5 716.0,565.5 716.5,568.1 717.0,565.1 717.5,556.2 718.0,552.6 718.5,543.0 719.0,532.2 719.5,524.2 720.0,513.5 720.5,498.3 721.0,490.6 721.5,485.8 722.0,487.2 722.5,502.2 723.0,514.5 723.5,522.1 724.0,536.4 724.5,543.9 725.0,556.0 725.5,567.5 726.0,573.8 726.5,579.6 727.0,580.0 727.5,584.2 728.0,590.0 728.5,591.5 729.0,594.3 729.5,594.2 730.0,595.6 730.5,597.3 731.0,599.2 731.5,598.2 732.0,597.2 732.5,598.6 733.0,602.1 733.5,599.8 734.0,598.2 734.5,598.3 735.0,601.4 735.5,603.0 736.0,605.1 736.5,601.3 737.0,605.9 737.5,601.5 738.0,602.2 738.5,601.3 739.0,604.6 739.5,606.3 740.0,603.9 740.5,602.3 741.0,599.7 741.5,603.8 742.0,602.8 742.5,602.8 743.0,601.4 743.5,600.3 744.0,602.0 744.5,604.2 745.0,605.0 745.5,602.4 746.0,602.5 746.5,601.1 747.0,600.6 747.5,598.0 748.0,603.4 748.5,602.0 749.0,603.3 749.5,597.7 750.0,599.0 750.5,596.5 751.0,598.8 751.5,597.0 752.0,598.8 752.5,595.6 753.0,596.6 753.5,592.4 754.0,594.2 754.5,591.0 755.0,589.3 755.5,589.8 756.0,590.6 756.5,584.9 757.0,584.0 757.5,587.5 758.0,585.6 758.5,579.7 759.0,578.9 759.5,579.3 760.0,580.2 760.5,575.9 761.0,573.3 761.5,567.8 762.0,563.5 762.5,543.6 763.0,535.4 763.5,525.3 764.0,503.7 764.5,486.8 765.0,473.8 765.5,457.8 766.0,440.5 766.5,416.1 767.0,406.6 767.5,406.4 768.0,407.6 768.5,418.7 769.0,433.0 769.5,455.3 770.0,468.4 770.5,488.1 771.0,504.9 771.5,523.0 772.0,529.9 772.5,545.1 773.0,551.8 773.5,558.1 774.0,571.9 774.5,575.1 775.0,581.8 775.5,582.3 776.0,584.9 776.5,585.4 777.0,587.9 777.5,586.3 778.0,592.1 778.5,585.6 779.0,592.9 779.5,588.2 780.0,590.1 780.5,587.5 781.0,587.0 781.5,588.0 782.0,581.5 782.5,574.6 783.0,574.2 783.5,570.4 784.0,556.6 784.5,559.5 785.0,554.1 785.5,538.9 786.0,536.5 786.5,533.8 787.0,525.1 787.5,526.3 788.0,527.7 788.5,533.5 789.0,540.3 789.5,544.8 790.0,551.3 790.5,560.0 791.0,564.4 791.5,567.2 792.0,574.1 792.5,568.9 793.0,575.6 793.5,574.9 794.0,575.2 794.5,576.4 795.0,575.7 795.5,581.4 796.0,576.0 796.5,574.0 797.0,578.1 797.5,577.9 798.0,571.9 798.5,579.4 799.0,584.0 799.5,584.4 800.0,589.3 800.5,589.8 801.0,593.9 801.5,590.4 802.0,591.1 802.5,596.9 803.0,599.9 803.5,603.9 804.0,601.1 804.5,600.3 805.0,604.7 805.5,602.9 806.0,607.7 806.5,602.8 807.0,598.0 807.5,600.5 808.0,600.3 808.5,599.5 809.0,601.2 809.5,601.1 810.0,601.7 810.5,600.8 811.0,602.7 811.5,602.9 812.0,603.0 812.5,603.4 813.0,597.8 813.5,598.4 814.0,600.3 814.5,603.9 815.0,599.2 815.5,601.2 816.0,602.5 816.5,606.6 817.0,602.5 817.5,599.7 818.0,603.1 818.5,600.0 819.0,597.4 819.5,600.0 820.0,594.7 820.5,596.4 821.0,596.1 821.5,598.5 822.0,594.5 822.5,595.8 823.0,599.2 823.5,600.4 824.0,601.4 824.5,601.4 825.0,604.3 825.5,605.0 826.0,604.4 826.5,602.0 827.0,607.1 827.5,601.3 828.0,604.9 828.5,608.0 829.0,603.6 829.5,608.2 830.0,610.2 830.5,609.5 831.0,607.4 831.5,609.1 832.0,605.6 832.5,607.9 833.0,607.4 833.5,606.1 834.0,606.6 834.5,605.5 835.0,601.2 835.5,606.7 836.0,607.6 836.5,611.4 837.0,607.7 837.5,606.1 838.0,608.0 838.5,607.3 839.0,605.1 839.5,604.2 840.0,601.7 840.5,605.8 841.0,609.4 841.5,600.9 842.0,603.5 842.5,607.9 843.0,605.9 843.5,607.1 844.0,601.1 844.5,604.2 845.0,606.7 845.5,606.1 846.0,605.7 846.5,602.3 847.0,604.7 847.5,599.4 848.0,599.2 848.5,597.3 849.0,603.0 849.5,596.9 850.0,597.2 850.5,590.7 851.0,599.7 851.5,598.9 852.0,593.9 852.5,595.2 853.0,604.0 853.5,598.0 854.0,606.8 854.5,601.6 855.0,596.8 855.5,606.2 856.0,604.5 856.5,605.5 857.0,602.8 857.5,603.6 858.0,606.4 858.5,601.6 859.0,599.4 859.5,606.4 860.0,602.7 860.5,606.9 861.0,602.3 861.5,602.0 862.0,602.2 862.5,596.6 863.0,605.4 863.5,601.1 864.0,601.4 864.5,605.8 865.0,602.8 865.5,605.0 866.0,603.3 866.5,604.8 867.0,603.5 867.5,606.1 868.0,602.5 868.5,604.4 869.0,601.1 869.5,605.7 870.0,596.9 870.5,602.5 871.0,603.2 871.5,603.2 872.0,601.8 872.5,605.5 873.0,606.9 873.5,599.6 874.0,596.3 874.5,598.0 875.0,598.0 875.5,598.8 876.0,598.7 876.5,601.8 877.0,597.5 877.5,598.5 878.0,598.7 878.5,595.5 879.0,597.1 879.5,604.6 880.0,597.7 880.5,595.3 881.0,592.1 881.5,600.7 882.0,597.6 882.5,597.9 883.0,606.1 883.5,603.7 884.0,595.7 884.5,598.3 885.0,601.6 885.5,601.3 886.0,595.4 886.5,603.1 887.0,602.1 887.5,594.0 888.0,591.4 888.5,591.4 889.0,595.3 889.5,594.7 890.0,590.8 890.5,586.9 891.0,586.4 891.5,586.6 892.0,580.0 892.5,576.1 893.0,578.4 893.5,581.1 894.0,578.9 894.5,579.0 895.0,577.8 895.5,583.6 896.0,578.5 896.5,584.9 897.0,585.0 897.5,587.7 898.0,587.3 898.5,594.1 899.0,593.7 899.5,594.2 900.0,599.4 900.5,599.1 901.0,598.1 901.5,598.8 902.0,602.6 902.5,598.6 903.0,600.5 903.5,600.2 904.0,601.9 904.5,601.6 905.0,608.1 905.5,598.3 906.0,603.6 906.5,601.6 907.0,604.5 907.5,597.2 908.0,604.3 908.5,596.9 909.0,602.0 909.5,601.3 910.0,600.7 910.5,598.4 911.0,598.9 911.5,600.5 912.0,598.0 912.5,594.3 913.0,594.6 913.5,601.9 914.0,601.5 914.5,601.4 915.0,600.3 915.5,601.6 916.0,602.3 916.5,602.1 917.0,599.0 917.5,599.7 918.0,598.8 918.5,602.5 919.0,599.8 919.5,602.2 920.0,606.5 920.5,602.2 921.0,606.0 921.5,607.2 922.0,599.1 922.5,599.5 923.0,604.5 923.5,601.3 924.0,604.6 924.5,605.2 925.0,601.5 925.5,604.7 926.0,606.8 926.5,604.2 927.0,599.5 927.5,601.4 928.0,600.7 928.5,606.0 929.0,600.9 929.5,600.1 930.0,602.2 930.5,604.0 931.0,602.1 931.5,603.2 932.0,603.3 932.5,605.5 933.0,606.5 933.5,604.9 934.0,603.5 934.5,606.1 935.0,602.9 935.5,608.3 936.0,606.9 936.5,606.8 937.0,599.8 937.5,611.6 938.0,608.7 938.5,608.8 939.0,606.0 939.5,607.0 940.0,612.3 940.5,604.1 941.0,607.3 941.5,606.8 942.0,605.7 942.5,605.8 943.0,601.8 943.5,605.5 944.0,600.7 944.5,608.8 945.0,606.4 945.5,601.7 946.0,598.6 946.5,604.5 947.0,605.2 947.5,600.6 948.0,607.6 948.5,604.2 949.0,602.0 949.5,599.6 950.0,603.5 950.5,603.5 951.0,605.8 951.5,606.6 952.0,604.4 952.5,605.5 953.0,607.6 953.5,605.7 954.0,604.7 954.5,607.4 955.0,604.8 955.5,607.2 956.0,606.3 956.5,603.2 957.0,607.5 957.5,606.5 958.0,607.7 958.5,602.2 959.0,607.9 959.5,607.7 960.0,603.9 960.5,604.0 961.0,603.2 961.5,602.1 962.0,604.0 962.5,599.0 963.0,596.9 963.5,599.0 964.0,603.5 964.5,596.6 965.0,594.9 965.5,593.9 966.0,595.1 966.5,596.0 967.0,588.6 967.5,588.6 968.0,585.8 968.5,583.5 969.0,577.6 969.5,575.4 970.0,568.7 970.5,558.5 971.0,560.7 971.5,543.2 972.0,537.5 972.5,540.1 973.0,535.3 973.5,533.9 974.0,537.7 974.5,543.7 975.0,545.2 975.5,550.1 976.0,554.6 976.5,560.7 977.0,565.8 977.5,574.8 978.0,575.3 978.5,578.7 979.0,576.6 979.5,582.6 980.0,576.1 980.5,581.4 981.0,581.4 981.5,576.3 982.0,574.8 982.5,577.5 983.0,572.7 983.5,570.6 984.0,572.6 984.5,569.2 985.0,572.2 985.5,578.3 986.0,572.0 986.5,576.6 987.0,572.6 987.5,577.9 988.0,579.2 988.5,581.4 989.0,584.7 989.5,591.0 990.0,587.1 990.5,592.9 991.0,592.1 991.5,594.3 992.0,592.2 992.5,593.3 993.0,596.0 993.5,595.5 994.0,598.3 994.5,595.8 995.0,598.4 995.5,599.6 996.0,604.6 996.5,604.9 997.0,601.7 997.5,598.9 998.0,601.5 998.5,602.9 999.0,600.4 999.5,598.3 1000.0,595.7 1000.5,599.3 1001.0,604.3 1001.5,599.3 1002.0,600.8 1002.5,600.7 1003.0,600.8 1003.5,601.0 1004.0,593.5 1004.5,598.9 1005.0,599.7 1005.5,597.7 1006.0,600.8 1006.5,596.4 1007.0,599.4 1007.5,602.0 1008.0,596.2 1008.5,596.1 1009.0,595.4 1009.5,597.6 1010.0,589.6 1010.5,590.5 1011.0,592.3 1011.5,593.4 1012.0,592.1 1012.5,586.2 1013.0,590.7 1013.5,583.8 1014.0,578.2 1014.5,577.5 1015.0,574.4 1015.5,564.9 1016.0,552.7 1016.5,546.9 1017.0,539.4 1017.5,531.3 1018.0,515.3 1018.5,507.8 1019.0,490.4 1019.5,483.6 1020.0,468.6 1020.5,464.3 1021.0,457.4 1021.5,458.4 1022.0,460.3 1022.5,466.0 1023.0,484.9 1023.5,495.6 1024.0,505.3 1024.5,513.8 1025.0,530.2 1025.5,535.4 1026.0,547.5 1026.5,557.8 1027.0,563.5 1027.5,572.9 1028.0,573.8 1028.5,578.3 1029.0,582.4 1029.5,581.2 1030.0,584.5 1030.5,591.8 1031.0,586.8 1031.5,596.4 1032.0,595.9 1032.5,599.4 1033.0,599.4 1033.5,599.4 1034.0,602.8 1034.5,598.5 1035.0,598.9 1035.5,603.1 1036.0,599.0 1036.5,604.5 1037.0,603.7 1037.5,600.8 1038.0,598.9 1038.5,597.4 1039.0,607.0 1039.5,598.5 1040.0,599.0 1040.5,605.4 1041.0,604.2 1041.5,604.0 1042.0,603.7 1042.5,601.8 1043.0,601.2 1043.5,601.4 1044.0,605.1 1044.5,606.3 1045.0,606.1 1045.5,602.9 1046.0,597.6 1046.5,604.1 1047.0,602.7 1047.5,595.6 1048.0,606.0 1048.5,603.3 1049.0,602.8 1049.5,603.7 1050.0,603.3 1050.5,604.0 1051.0,604.1 1051.5,604.4 1052.0,606.7 1052.5,606.7 1053.0,612.0 1053.5,606.8 1054.0,605.3 1054.5,605.7 1055.0,608.9 1055.5,607.7 1056.0,608.3 1056.5,607.0 1057.0,607.3 1057.5,610.0 1058.0,610.6 1058.5,607.7 1059.0,606.4 1059.5,603.2 1060.0,603.9 1060.5,606.8 1061.0,606.1 1061.5,606.4 1062.0,603.3 1062.5,605.5 1063.0,600.1 1063.5,602.4 1064.0,602.9 1064.5,606.4 1065.0,603.9 1065.5,602.8 1066.0,606.1 1066.5,605.4 1067.0,606.9 1067.5,605.2 1068.0,604.7 1068.5,603.7 1069.0,605.8 1069.5,602.1 1070.0,600.8 1070.5,606.2 1071.0,602.8 1071.5,603.8 1072.0,604.6 1072.5,606.2 1073.0,596.4 1073.5,601.2 1074.0,607.4 1074.5,601.1 1075.0,606.3 1075.5,603.9 1076.0,602.7 1076.5,604.5 1077.0,599.8 1077.5,605.3 1078.0,607.4 1078.5,600.8 1079.0,603.2 1079.5,607.6 1080.0,605.2 1080.5,603.4 1081.0,607.7 1081.5,599.3 1082.0,603.6 1082.5,604.5 1083.0,603.2 1083.5,606.8 1084.0,601.0 1084.5,604.7 1085.0,602.5 1085.5,608.2 1086.0,607.7 1086.5,602.7 1087.0,601.6 1087.5,603.6 1088.0,601.3 1088.5,601.1 1089.0,603.1 1089.5,600.6 1090.0,606.2 1090.5,601.7 1091.0,599.9 1091.5,598.7 1092.0,600.0 1092.5,603.5 1093.0,601.9 1093.5,604.4 1094.0,604.5 1094.5,602.9 1095.0,599.9 1095.5,601.5 1096.0,601.8 1096.5,596.7 1097.0,602.2 1097.5,598.7 1098.0,600.9 1098.5,599.7 1099.0,602.8 1099.5,607.9 1100.0,597.9 1100.5,600.7 1101.0,606.3 1101.5,597.5 1102.0,598.8 1102.5,599.5 1103.0,600.2 1103.5,595.5 1104.0,600.3 1104.5,600.9 1105.0,605.9 1105.5,599.3 1106.0,598.1 1106.5,600.1 1107.0,593.6 1107.5,601.5 1108.0,604.1 1108.5,600.7 1109.0,600.7 1109.5,599.7 1110.0,601.7 1110.5,598.4 1111.0,606.0 1111.5,601.1 1112.0,600.9 1112.5,605.9 1113.0,602.0 1113.5,600.8 1114.0,606.3 1114.5,602.2 1115.0,604.4 1115.5,600.3 1116.0,597.6 1116.5,602.8 1117.0,605.6 1117.5,600.9 1118.0,603.3 1118.5,603.8 1119.0,602.9 1119.5,602.8 1120.0,603.6 1120.5,601.7 1121.0,598.8 1121.5,603.2 1122.0,602.6 1122.5,600.9 1123.0,601.2 1123.5,591.7 1124.0,598.7 1124.5,597.1 1125.0,590.0 1125.5,599.7 1126.0,593.3 1126.5,588.5 1127.0,586.3 1127.5,585.2 1128.0,581.2 1128.5,572.5 1129.0,570.4 1129.5,567.4 1130.0,561.0 1130.5,554.4 1131.0,540.6 1131.5,533.7 1132.0,528.8 1132.5,518.6 1133.0,514.6 1133.5,506.9 1134.0,509.2 1134.5,508.4 1135.0,512.2 1135.5,515.6 1136.0,519.2 1136.5,525.3 1137.0,537.6 1137.5,543.7 1138.0,549.2 1138.5,558.6 1139.0,568.5 1139.5,574.8 1140.0,578.2 1140.5,584.0 1141.0,583.2 1141.5,586.7 1142.0,587.2 1142.5,589.3 1143.0,596.9 1143.5,594.9 1144.0,595.5 1144.5,601.1 1145.0,599.0 1145.5,590.7 1146.0,594.7 1146.5,589.2 1147.0,593.1 1147.5,584.6 1148.0,585.8 1148.5,584.0 1149.0,591.0 1149.5,580.8 1150.0,590.0 1150.5,590.1 1151.0,589.1 1151.5,592.6 1152.0,599.3 1152.5,594.5 1153.0,595.5 1153.5,601.2 1154.0,601.1 1154.5,596.6 1155.0,600.8 1155.5,602.3 1156.0,599.3 1156.5,599.7 1157.0,600.5 1157.5,599.5 1158.0,604.1 1158.5,603.2 1159.0,596.6 1159.5,601.9 1160.0,603.4 1160.5,599.6 1161.0,602.1 1161.5,603.8 1162.0,598.4 1162.5,602.1 1163.0,596.1 1163.5,604.6 1164.0,600.6 1164.5,598.8 1165.0,597.7 1165.5,598.3 1166.0,605.4 1166.5,599.4 1167.0,599.8 1167.5,599.5 1168.0,596.0 1168.5,600.8 1169.0,591.0 1169.5,598.8 1170.0,593.2 1170.5,593.1 1171.0,591.8 1171.5,591.1 1172.0,582.7 1172.5,585.2 1173.0,581.4 1173.5,579.4 1174.0,578.5 1174.5,583.3 1175.0,582.5 1175.5,587.4 1176.0,589.5 1176.5,584.1 1177.0,591.8 1177.5,597.1 1178.0,593.2 1178.5,592.2 1179.0,591.5 1179.5,603.3 1180.0,596.5 1180.5,600.0 1181.0,596.7 1181.5,601.2 1182.0,605.5 1182.5,597.3 1183.0,601.1 1183.5,599.1 1184.0,597.0 1184.5,599.9 1185.0,602.2 1185.5,606.0 1186.0,606.3 1186.5,603.4 1187.0,599.5 1187.5,605.9 1188.0,604.0 1188.5,603.9 1189.0,600.4 1189.5,603.4 1190.0,608.5 1190.5,607.3 1191.0,606.2 1191.5,604.1 1192.0,601.8 1192.5,601.8 1193.0,601.8 1193.5,601.3 1194.0,598.5 1194.5,596.2 1195.0,600.9 1195.5,596.1 1196.0,598.8 1196.5,595.3 1197.0,597.1 1197.5,596.8 1198.0,596.8 1198.5,597.4 1199.0,593.3 1199.5,593.4 1200.0,598.0 1200.5,603.9 1201.0,597.4 1201.5,598.1 1202.0,607.2 1202.5,597.4 1203.0,600.9 1203.5,601.4 1204.0,601.0 1204.5,600.8 1205.0,605.8 1205.5,603.2 1206.0,603.2 1206.5,598.2 1207.0,604.9 1207.5,603.8 1208.0,603.8 1208.5,605.2 1209.0,604.2 1209.5,603.4 1210.0,604.2 1210.5,601.7 1211.0,601.6 1211.5,601.2 1212.0,606.7 1212.5,602.9 1213.0,605.0 1213.5,607.0 1214.0,608.2 1214.5,601.8 1215.0,603.3 1215.5,603.2 1216.0,599.0 1216.5,601.0 1217.0,609.5 1217.5,601.7 1218.0,605.2 1218.5,602.3 1219.0,605.0 1219.5,603.5 1220.0,599.9 1220.5,595.5 1221.0,602.2 1221.5,599.7 1222.0,597.9 1222.5,597.9 1223.0,592.3 1223.5,593.4 1224.0,591.2 1224.5,585.1 1225.0,584.0 1225.5,584.0 1226.0,575.4 1226.5,580.4 1227.0,577.4 1227.5,572.1 1228.0,569.9 1228.5,561.9 1229.0,566.3 1229.5,567.4 1230.0,567.7 1230.5,570.8 1231.0,570.2 1231.5,578.2 1232.0,576.8 1232.5,580.1 1233.0,582.5 1233.5,579.0 1234.0,579.1 1234.5,585.6 1235.0,580.3 1235.5,583.0 1236.0,588.5 1236.5,584.6 1237.0,587.3 1237.5,588.0 1238.0,590.9 1238.5,601.6 1239.0,599.0 1239.5,601.2 1240.0,594.8 1240.5,594.0 1241.0,597.6 1241.5,603.9 1242.0,604.8 1242.5,596.9 1243.0,598.2 1243.5,604.9 1244.0,603.5 1244.5,605.0 1245.0,605.7 1245.5,600.9 1246.0,604.2 1246.5,603.3 1247.0,606.8 1247.5,603.0 1248.0,599.4 1248.5,606.9 1249.0,608.4 1249.5,605.8 1250.0,602.1 1250.5,600.2 1251.0,605.7 1251.5,601.7 1252.0,604.0 1252.5,604.7 1253.0,602.5 1253.5,598.0 1254.0,604.8 1254.5,600.9 1255.0,599.6 1255.5,603.7 1256.0,604.0 1256.5,603.5 1257.0,605.4 1257.5,598.8 1258.0,604.7 1258.5,606.9 1259.0,602.9 1259.5,602.0 1260.0,602.4 1260.5,605.4 1261.0,601.9 1261.5,599.9 1262.0,597.5 1262.5,605.7 1263.0,606.5 1263.5,602.1 1264.0,607.6 1264.5,600.9 1265.0,604.1 1265.5,598.4 1266.0,599.0 1266.5,601.3 1267.0,602.3 1267.5,602.1 1268.0,597.3 1268.5,598.0 1269.0,598.2 1269.5,596.8 1270.0,595.4 1270.5,597.7 1271.0,597.1 1271.5,588.1 1272.0,595.6 1272.5,591.4 1273.0,590.2 1273.5,588.7 1274.0,589.3 1274.5,587.8 1275.0,580.9 1275.5,586.9 1276.0,581.4 1276.5,585.8 1277.0,585.8 1277.5,581.8 1278.0,587.4 1278.5,587.2 1279.0,586.8 1279.5,595.4 1280.0,591.4 1280.5,591.3 1281.0,598.3 1281.5,594.9 1282.0,594.9 1282.5,591.1 1283.0,598.4 1283.5,599.9 1284.0,602.6 1284.5,595.2 1285.0,600.8 1285.5,602.7 1286.0,601.9 1286.5,600.3 1287.0,596.2 1287.5,601.2 1288.0,599.8 1288.5,596.9 1289.0,603.4 1289.5,601.5 1290.0,601.1 1290.5,606.9 1291.0,600.2 1291.5,596.3 1292.0,596.0 1292.5,602.9 1293.0,600.2 1293.5,598.6 1294.0,594.8 1294.5,598.1 1295.0,596.1 1295.5,597.7 1296.0,594.9 1296.5,594.1 1297.0,595.4 1297.5,592.6 1298.0,594.9 1298.5,582.5 1299.0,587.1 1299.5,592.3 1300.0,588.6 1300.5,584.0 1301.0,585.5 1301.5,583.7 1302.0,584.9 1302.5,590.8 1303.0,587.5 1303.5,590.7 1304.0,589.8 1304.5,591.5 1305.0,590.0 1305.5,594.4 1306.0,595.8 1306.5,596.7 1307.0,598.3 1307.5,599.2 1308.0,601.3 1308.5,599.6 1309.0,604.6 1309.5,603.4 1310.0,605.6 1310.5,601.8 1311.0,605.2 1311.5,602.1 1312.0,598.2 1312.5,602.7 1313.0,601.8 1313.5,598.1 1314.0,598.6 1314.5,598.7 1315.0,604.9 1315.5,598.5 1316.0,600.9 1316.5,596.8 1317.0,595.8 1317.5,594.3 1318.0,587.5 1318.5,595.3 1319.0,589.2 1319.5,593.8 1320.0,594.1 1320.5,600.4 1321.0,600.7 1321.5,603.5 1322.0,601.7 1322.5,601.1 1323.0,603.7 1323.5,608.2 1324.0,603.7 1324.5,603.1 1325.0,600.3 1325.5,602.8 1326.0,604.9 1326.5,607.2 1327.0,607.3 1327.5,605.2 1328.0,606.0 1328.5,609.2 1329.0,609.7 1329.5,609.0 1330.0,609.5 1330.5,609.4 1331.0,611.2 1331.5,603.5 1332.0,605.4 1332.5,606.4 1333.0,607.2 1333.5,609.9 1334.0,601.3 1334.5,607.0 1335.0,607.3 1335.5,605.5 1336.0,607.2 1336.5,609.4 1337.0,608.0 1337.5,605.7 1338.0,606.4 1338.5,605.0 1339.0,607.1 1339.5,604.2 1340.0,606.7 1340.5,602.9 1341.0,604.3 1341.5,601.2 1342.0,603.5 1342.5,605.7 1343.0,600.4 1343.5,602.3 1344.0,603.6 1344.5,602.9 1345.0,605.6 1345.5,600.9 1346.0,606.7 1346.5,607.8 1347.0,608.8 1347.5,603.9 1348.0,601.9 1348.5,599.2 1349.0,604.7 1349.5,604.8 1350.0,603.0 1350.5,601.9 1351.0,602.5 1351.5,599.4 1352.0,596.3 1352.5,595.0 1353.0,596.0 1353.5,595.0 1354.0,592.1 1354.5,593.9 1355.0,591.5 1355.5,595.2 1356.0,591.9 1356.5,592.9 1357.0,585.8 1357.5,585.2 1358.0,582.1 1358.5,585.5 1359.0,591.7 1359.5,582.5 1360.0,579.1 1360.5,579.4 1361.0,578.3 1361.5,580.8 1362.0,577.9 1362.5,576.6 1363.0,575.1 1363.5,582.5 1364.0,586.0 1364.5,585.2 1365.0,584.0 1365.5,587.3 1366.0,588.9 1366.5,593.2 1367.0,593.5 1367.5,597.9 1368.0,595.0 1368.5,595.4 1369.0,603.1 1369.5,595.8 1370.0,596.6 1370.5,605.2 1371.0,600.9 1371.5,606.3 1372.0,595.5 1372.5,604.7 1373.0,601.4 1373.5,601.6 1374.0,603.0 1374.5,595.4 1375.0,600.4 1375.5,603.5 1376.0,610.5 1376.5,600.7 1377.0,608.6 1377.5,604.1 1378.0,605.4 1378.5,599.7 1379.0,604.0 1379.5,601.3 1380.0,600.5 1380.5,607.4 1381.0,601.1 1381.5,601.2 1382.0,604.4 1382.5,600.5 1383.0,600.0 1383.5,603.4 1384.0,603.5 1384.5,606.2 1385.0,598.7 1385.5,603.3 1386.0,602.3 1386.5,598.1 1387.0,598.4 1387.5,598.1 1388.0,595.3 1388.5,593.6 1389.0,597.9 1389.5,592.0 1390.0,590.8 1390.5,594.7 1391.0,589.9 1391.5,588.7 1392.0,584.8 1392.5,583.3 1393.0,580.2 1393.5,578.3 1394.0,583.6 1394.5,575.1 1395.0,568.5 1395.5,569.3 1396.0,572.6 1396.5,565.8 1397.0,567.7 1397.5,564.1 1398.0,561.4 1398.5,565.6 1399.0,564.7 1399.5,569.4 1400.0,574.3 1400.5,574.2 1401.0,583.8 1401.5,576.3 1402.0,585.5 1402.5,585.7 1403.0,590.6 1403.5,589.7 1404.0,584.1 1404.5,591.0 1405.0,596.4 1405.5,595.3 1406.0,592.7 1406.5,595.9 1407.0,598.1 1407.5,601.5 1408.0,597.3 1408.5,599.4 1409.0,597.3 1409.5,596.9 1410.0,598.8 1410.5,604.7 1411.0,603.3 1411.5,601.3 1412.0,602.1 1412.5,603.0 1413.0,601.6 1413.5,601.2 1414.0,602.3 1414.5,604.9 1415.0,602.8 1415.5,605.9 1416.0,599.7 1416.5,602.3 1417.0,603.6 1417.5,606.2 1418.0,602.4 1418.5,603.2 1419.0,605.3 1419.5,604.8 1420.0,603.6 1420.5,604.4 1421.0,603.0 1421.5,607.5 1422.0,605.8 1422.5,607.3 1423.0,610.1 1423.5,608.8 1424.0,606.9 1424.5,605.1 1425.0,611.0 1425.5,605.8 1426.0,605.0 1426.5,608.5 1427.0,606.0 1427.5,603.6 1428.0,605.1 1428.5,608.6 1429.0,604.2 1429.5,603.9 1430.0,600.9 1430.5,601.1 1431.0,604.3 1431.5,601.7 1432.0,601.9 1432.5,604.2 1433.0,600.6 1433.5,605.6 1434.0,599.9 1434.5,600.3 1435.0,600.3 1435.5,598.1 1436.0,603.4 1436.5,601.7 1437.0,605.0 1437.5,599.5 1438.0,602.6 1438.5,603.6 1439.0,599.0 1439.5,599.1 1440.0,591.7 1440.5,603.1 1441.0,597.2 1441.5,598.4 1442.0,594.4 1442.5,596.4 1443.0,592.7 1443.5,597.6 1444.0,595.4 1444.5,594.2 1445.0,596.8 1445.5,590.9 1446.0,596.4 1446.5,594.8 1447.0,600.8 1447.5,599.2 1448.0,597.2 1448.5,597.7 1449.0,606.7 1449.5,597.4 1450.0,605.1 1450.5,603.3 1451.0,603.4 1451.5,596.3 1452.0,603.7 1452.5,600.8 1453.0,599.9 1453.5,603.0 1454.0,599.6 1454.5,603.2 1455.0,599.6 1455.5,603.7 1456.0,603.0 1456.5,598.8 1457.0,598.5 1457.5,598.7 1458.0,598.3 1458.5,597.5 1459.0,603.2 1459.5,598.7 1460.0,595.7 1460.5,596.1 1461.0,594.6 1461.5,597.4 1462.0,596.1 1462.5,594.0 1463.0,594.6 1463.5,596.3 1464.0,595.2 1464.5,598.9 1465.0,597.4 1465.5,602.4 1466.0,600.6 1466.5,603.9 1467.0,602.5 1467.5,599.5 1468.0,601.7 1468.5,604.0 1469.0,606.8 1469.5,607.7 1470.0,608.0 1470.5,608.0 1471.0,606.8 1471.5,607.0 1472.0,605.1 1472.5,607.0 1473.0,605.7 1473.5,605.1 1474.0,605.5 1474.5,611.9 1475.0,601.3 1475.5,604.1 1476.0,604.0 1476.5,605.2 1477.0,603.6 1477.5,607.6 1478.0,599.1 1478.5,607.0 1479.0,598.2 1479.5,598.5 1480.0,601.3 1480.5,599.7 1481.0,598.9 1481.5,597.8 1482.0,598.3 1482.5,599.1 1483.0,596.6 1483.5,592.2 1484.0,593.5 1484.5,599.1 1485.0,600.5 1485.5,598.4 1486.0,599.3 1486.5,597.6 1487.0,602.6 1487.5,596.0 1488.0,597.0 1488.5,595.9 1489.0,603.3 1489.5,598.5 1490.0,602.2 1490.5,597.7 1491.0,597.9 1491.5,604.4 1492.0,603.8 1492.5,604.1 1493.0,603.3 1493.5,602.4 1494.0,602.3 1494.5,600.5 1495.0,602.2 1495.5,607.1 1496.0,603.4 1496.5,600.1 1497.0,602.5 1497.5,600.6 1498.0,600.1 1498.5,602.7 1499.0,601.6 1499.5,600.4 1500.0,606.7 1500.5,606.7 1501.0,602.0 1501.5,605.3 1502.0,600.4 1502.5,601.3 1503.0,603.9 1503.5,602.1 1504.0,603.9 1504.5,594.5 1505.0,602.9 1505.5,601.5 1506.0,601.7 1506.5,598.0 1507.0,600.3 1507.5,604.6 1508.0,605.2 1508.5,606.1 1509.0,606.5 1509.5,607.7 1510.0,606.3 1510.5,604.5 1511.0,603.8 1511.5,604.3 1512.0,602.5 1512.5,602.0 1513.0,604.4 1513.5,598.6 1514.0,601.0 1514.5,602.2 1515.0,605.7 1515.5,606.7 1516.0,604.0 1516.5,602.3 1517.0,601.3 1517.5,605.7 1518.0,604.3 1518.5,600.4 1519.0,601.8 1519.5,603.8 1520.0,605.3 1520.5,602.9 1521.0,607.8 1521.5,606.8 1522.0,601.9 1522.5,603.1 1523.0,602.3 1523.5,602.5 1524.0,605.3 1524.5,607.5 1525.0,607.4 1525.5,604.5 1526.0,603.0 1526.5,602.0 1527.0,604.9 1527.5,602.3 1528.0,604.9 1528.5,602.8 1529.0,604.7 1529.5,602.1 1530.0,607.7 1530.5,605.3 1531.0,602.6 1531.5,600.4 1532.0,603.7 1532.5,604.3 1533.0,599.6 1533.5,602.1 1534.0,607.0 1534.5,602.0 1535.0,600.2 1535.5,602.0 1536.0,604.2 1536.5,598.3 1537.0,597.8 1537.5,598.0 1538.0,598.3 1538.5,599.9 1539.0,597.5 1539.5,590.0 1540.0,596.6 1540.5,596.7 1541.0,597.2 1541.5,596.5 1542.0,596.1 1542.5,598.3 1543.0,595.8 1543.5,593.4 1544.0,597.3 1544.5,595.6 1545.0,603.3 1545.5,598.7 1546.0,603.6 1546.5,597.0 1547.0,597.6 1547.5,602.1 1548.0,596.6 1548.5,599.4 1549.0,596.3 1549.5,602.2 1550.0,597.1 1550.5,600.9 1551.0,597.2 1551.5,603.9 1552.0,605.3 1552.5,603.5 1553.0,600.3 1553.5,603.5 1554.0,605.0 1554.5,604.5 1555.0,605.4 1555.5,607.3 1556.0,602.5 1556.5,601.6 1557.0,600.0 1557.5,600.9 1558.0,599.5 1558.5,597.3 1559.0,599.1 1559.5,603.2 1560.0,595.3 1560.5,595.7 1561.0,595.6 1561.5,592.9 1562.0,598.2 1562.5,594.8 1563.0,597.2 1563.5,590.7 1564.0,596.4 1564.5,595.4 1565.0,592.4 1565.5,598.7 1566.0,598.8 1566.5,596.5 1567.0,597.6 1567.5,594.1 1568.0,598.7 1568.5,595.6 1569.0,596.7 1569.5,595.1 1570.0,592.9 1570.5,587.8 1571.0,587.8 1571.5,584.2 1572.0,584.2 1572.5,577.0 1573.0,581.8 1573.5,582.0 1574.0,582.8 1574.5,590.0 1575.0,590.7 1575.5,589.8 1576.0,595.5 1576.5,595.0 1577.0,595.4 1577.5,598.7 1578.0,599.9 1578.5,606.8 1579.0,604.9 1579.5,597.1 1580.0,603.1 1580.5,601.7 1581.0,603.2 1581.5,605.1 1582.0,604.8 1582.5,606.0 1583.0,602.9 1583.5,609.1 1584.0,604.9 1584.5,607.8 1585.0,604.2 1585.5,605.3 1586.0,601.4 1586.5,606.9 1587.0,605.0 1587.5,603.5 1588.0,605.2 1588.5,605.2 1589.0,600.3 1589.5,602.5 1590.0,601.7 1590.5,606.3 1591.0,605.1 1591.5,602.8 1592.0,603.2 1592.5,605.3 1593.0,599.6 1593.5,605.3 1594.0,610.0 1594.5,602.1 1595.0,603.1 1595.5,603.0 1596.0,607.1 1596.5,603.5 1597.0,610.4 1597.5,604.9 1598.0,604.1 1598.5,603.2 1599.0,607.4 1599.5,608.5 1600.0,606.6 1600.5,609.0 1601.0,608.4 1601.5,606.1 1602.0,605.6 1602.5,604.2 1603.0,606.1 1603.5,604.6 1604.0,609.1 1604.5,607.6 1605.0,605.2 1605.5,604.4 1606.0,606.1 1606.5,607.4 1607.0,605.2 1607.5,607.2 1608.0,603.1 1608.5,605.6 1609.0,606.6 1609.5,605.4 1610.0,606.2 1610.5,608.0 1611.0,605.6 1611.5,608.5 1612.0,604.7 1612.5,607.5 1613.0,605.9 1613.5,605.9 1614.0,608.2 1614.5,609.7 1615.0,606.2 1615.5,606.6 1616.0,610.2 1616.5,604.7 1617.0,608.3 1617.5,603.2 1618.0,600.8 1618.5,606.1 1619.0,604.5 1619.5,604.0 1620.0,599.6 1620.5,606.1 1621.0,604.2 1621.5,602.5 1622.0,605.2 1622.5,602.7 1623.0,603.4 1623.5,603.5 1624.0,608.0 1624.5,605.3 1625.0,608.7 1625.5,603.0 1626.0,601.6 1626.5,608.6 1627.0,600.3 1627.5,607.2 1628.0,601.2 1628.5,605.8 1629.0,602.3 1629.5,607.6 1630.0,608.4 1630.5,606.2 1631.0,604.9 1631.5,603.0 1632.0,606.2 1632.5,609.4 1633.0,603.3 1633.5,602.3 1634.0,609.8 1634.5,605.0 1635.0,607.9 1635.5,606.4 1636.0,606.3 1636.5,604.4 1637.0,605.1 1637.5,600.8 1638.0,603.5 1638.5,602.5 1639.0,607.4 1639.5,603.9 1640.0,605.6 1640.5,601.1 1641.0,604.8 1641.5,608.8 1642.0,605.6 1642.5,607.6 1643.0,605.2 1643.5,604.1 1644.0,608.2 1644.5,605.6 1645.0,604.0 1645.5,606.9 1646.0,606.2 1646.5,609.6 1647.0,608.5 1647.5,602.5 1648.0,607.5 1648.5,602.2 1649.0,605.8 1649.5,606.6 1650.0,603.6 1650.5,604.2 1651.0,607.4 1651.5,604.2 1652.0,602.3"/>
<polyline fill="none" stroke="#000000" stroke-width="5.2" stroke-linejoin="round" stroke-linecap="butt" points="115.0,850.5 115.5,851.4 116.0,850.1 116.5,849.2 117.0,850.2 117.5,849.7 118.0,852.4 118.5,855.5 119.0,851.3 119.5,850.2 120.0,852.9 120.5,852.7 121.0,852.8 121.5,850.2 122.0,852.6 122.5,854.0 123.0,849.5 123.5,850.4 124.0,847.1 124.5,847.6 125.0,846.3 125.5,849.9 126.0,847.3 126.5,851.8 127.0,851.8 127.5,851.1 128.0,845.5 128.5,850.6 129.0,851.3 129.5,851.4 130.0,847.1 130.5,850.5 131.0,849.5 131.5,850.0 132.0,854.0 132.5,849.7 133.0,851.8 133.5,853.5 134.0,849.8 134.5,851.3 135.0,851.6 135.5,851.1 136.0,847.8 136.5,851.0 137.0,854.4 137.5,847.6 138.0,852.9 138.5,851.2 139.0,849.5 139.5,855.3 140.0,852.7 140.5,848.4 141.0,852.1 141.5,852.5 142.0,850.7 142.5,853.1 143.0,851.6 143.5,853.1 144.0,854.5 144.5,849.5 145.0,851.6 145.5,850.1 146.0,851.7 146.5,849.2 147.0,850.4 147.5,851.2 148.0,853.0 148.5,853.9 149.0,848.5 149.5,849.5 150.0,853.0 150.5,847.2 151.0,850.6 151.5,851.2 152.0,854.4 152.5,853.2 153.0,851.0 153.5,850.7 154.0,851.1 154.5,855.5 155.0,851.3 155.5,851.3 156.0,852.6 156.5,851.5 157.0,851.0 157.5,849.0 158.0,852.2 158.5,851.3 159.0,855.3 159.5,853.9 160.0,851.9 160.5,853.5 161.0,850.8 161.5,853.7 162.0,851.1 162.5,853.0 163.0,848.9 163.5,852.7 164.0,848.2 164.5,847.0 165.0,850.7 165.5,849.2 166.0,851.4 166.5,856.3 167.0,849.7 167.5,850.4 168.0,852.7 168.5,853.3 169.0,851.8 169.5,851.5 170.0,853.6 170.5,852.9 171.0,849.5 171.5,852.7 172.0,853.0 172.5,850.6 173.0,853.2 173.5,850.3 174.0,854.4 174.5,852.4 175.0,852.1 175.5,850.9 176.0,852.5 176.5,847.8 177.0,849.9 177.5,853.6 178.0,847.9 178.5,854.2 179.0,848.3 179.5,854.5 180.0,851.1 180.5,855.3 181.0,853.8 181.5,850.2 182.0,856.6 182.5,856.7 183.0,853.0 183.5,852.9 184.0,852.9 184.5,850.6 185.0,855.2 185.5,851.1 186.0,852.2 186.5,850.2 187.0,849.9 187.5,848.4 188.0,854.0 188.5,850.6 189.0,852.8 189.5,850.9 190.0,848.7 190.5,849.1 191.0,848.3 191.5,849.8 192.0,849.3 192.5,850.0 193.0,847.5 193.5,848.5 194.0,854.5 194.5,848.9 195.0,847.8 195.5,850.5 196.0,853.3 196.5,846.5 197.0,849.5 197.5,849.0 198.0,846.4 198.5,851.8 199.0,849.7 199.5,849.9 200.0,848.2 200.5,851.1 201.0,849.2 201.5,850.2 202.0,848.3 202.5,848.5 203.0,854.2 203.5,849.9 204.0,851.5 204.5,850.3 205.0,849.1 205.5,849.2 206.0,851.9 206.5,849.3 207.0,849.2 207.5,849.9 208.0,852.1 208.5,850.6 209.0,849.7 209.5,847.5 210.0,845.5 210.5,850.2 211.0,850.1 211.5,847.6 212.0,849.3 212.5,849.9 213.0,849.4 213.5,849.5 214.0,845.7 214.5,850.0 215.0,843.0 215.5,848.0 216.0,846.1 216.5,845.7 217.0,847.1 217.5,845.7 218.0,838.3 218.5,836.2 219.0,841.6 219.5,835.6 220.0,836.7 220.5,837.0 221.0,828.9 221.5,825.5 222.0,828.8 222.5,824.7 223.0,819.6 223.5,814.4 224.0,804.8 224.5,793.2 225.0,784.6 225.5,766.1 226.0,743.6 226.5,725.2 227.0,695.8 227.5,664.5 228.0,625.2 228.5,590.1 229.0,556.3 229.5,531.9 230.0,524.0 230.5,526.1 231.0,547.9 231.5,577.3 232.0,616.7 232.5,642.1 233.0,682.9 233.5,710.7 234.0,737.1 234.5,755.4 235.0,776.2 235.5,793.7 236.0,802.7 236.5,811.7 237.0,817.4 237.5,825.6 238.0,827.0 238.5,824.6 239.0,830.6 239.5,829.3 240.0,827.7 240.5,836.0 241.0,841.5 241.5,839.3 242.0,837.4 242.5,839.0 243.0,844.4 243.5,843.2 244.0,843.3 244.5,843.6 245.0,844.6 245.5,846.9 246.0,846.9 246.5,847.2 247.0,844.6 247.5,848.6 248.0,846.4 248.5,850.9 249.0,845.5 249.5,848.4 250.0,850.0 250.5,846.4 251.0,853.8 251.5,853.5 252.0,848.9 252.5,851.6 253.0,851.1 253.5,843.6 254.0,850.9 254.5,850.6 255.0,851.0 255.5,848.8 256.0,850.9 256.5,850.8 257.0,853.4 257.5,851.7 258.0,850.9 258.5,854.4 259.0,849.4 259.5,850.4 260.0,847.6 260.5,855.3 261.0,853.8 261.5,853.3 262.0,852.7 262.5,851.3 263.0,851.3 263.5,850.3 264.0,850.2 264.5,850.2 265.0,853.4 265.5,850.1 266.0,847.7 266.5,843.9 267.0,840.2 267.5,841.2 268.0,832.8 268.5,824.8 269.0,816.8 269.5,809.5 270.0,810.2 270.5,814.6 271.0,816.7 271.5,823.5 272.0,830.2 272.5,836.7 273.0,837.4 273.5,843.5 274.0,843.7 274.5,848.8 275.0,845.8 275.5,849.5 276.0,851.9 276.5,847.7 277.0,846.7 277.5,848.6 278.0,848.2 278.5,846.4 279.0,850.1 279.5,854.0 280.0,848.5 280.5,849.1 281.0,847.5 281.5,851.6 282.0,847.6 282.5,848.3 283.0,853.7 283.5,848.6 284.0,854.0 284.5,854.9 285.0,851.5 285.5,852.2 286.0,855.1 286.5,850.7 287.0,849.1 287.5,847.4 288.0,850.6 288.5,853.0 289.0,851.3 289.5,846.5 290.0,846.7 290.5,846.8 291.0,847.2 291.5,845.7 292.0,846.6 292.5,846.1 293.0,843.9 293.5,844.4 294.0,845.9 294.5,846.1 295.0,848.1 295.5,852.3 296.0,850.0 296.5,849.6 297.0,846.0 297.5,850.9 298.0,845.9 298.5,847.5 299.0,852.4 299.5,851.8 300.0,850.3 300.5,846.1 301.0,849.0 301.5,847.5 302.0,850.2 302.5,853.5 303.0,848.4 303.5,844.9 304.0,843.1 304.5,846.0 305.0,846.3 305.5,843.8 306.0,847.3 306.5,845.3 307.0,851.3 307.5,852.0 308.0,852.6 308.5,849.9 309.0,852.9 309.5,851.7 310.0,851.0 310.5,851.6 311.0,849.7 311.5,849.4 312.0,853.9 312.5,851.1 313.0,852.1 313.5,854.0 314.0,847.8 314.5,849.4 315.0,851.7 315.5,851.6 316.0,849.5 316.5,852.9 317.0,850.9 317.5,847.1 318.0,847.1 318.5,850.8 319.0,849.9 319.5,844.8 320.0,852.1 320.5,850.1 321.0,851.3 321.5,846.6 322.0,845.4 322.5,841.6 323.0,847.9 323.5,837.7 324.0,837.9 324.5,828.3 325.0,827.3 325.5,821.0 326.0,825.6 326.5,832.2 327.0,830.5 327.5,840.2 328.0,841.5 328.5,841.4 329.0,844.8 329.5,846.0 330.0,847.9 330.5,847.4 331.0,847.1 331.5,848.5 332.0,846.7 332.5,846.4 333.0,848.8 333.5,850.5 334.0,845.5 334.5,849.2 335.0,848.3 335.5,847.6 336.0,851.6 336.5,849.0 337.0,853.7 337.5,847.9 338.0,850.9 338.5,849.8 339.0,849.1 339.5,851.6 340.0,849.9 340.5,851.3 341.0,849.5 341.5,847.2 342.0,849.4 342.5,849.5 343.0,851.6 343.5,847.1 344.0,848.9 344.5,844.9 345.0,850.3 345.5,845.8 346.0,843.7 346.5,847.8 347.0,850.0 347.5,843.8 348.0,844.3 348.5,844.5 349.0,842.8 349.5,845.9 350.0,842.8 350.5,842.0 351.0,843.9 351.5,838.8 352.0,838.8 352.5,831.4 353.0,825.1 353.5,816.1 354.0,816.4 354.5,798.8 355.0,785.5 355.5,768.2 356.0,750.4 356.5,732.0 357.0,720.5 357.5,700.3 358.0,694.4 358.5,699.5 359.0,709.2 359.5,730.6 360.0,749.0 360.5,762.9 361.0,779.3 361.5,797.4 362.0,814.8 362.5,814.0 363.0,830.4 363.5,832.0 364.0,841.6 364.5,839.2 365.0,843.0 365.5,840.8 366.0,842.9 366.5,849.8 367.0,848.9 367.5,846.2 368.0,845.5 368.5,843.5 369.0,847.2 369.5,848.4 370.0,848.5 370.5,848.8 371.0,847.4 371.5,850.3 372.0,850.1 372.5,853.8 373.0,855.4 373.5,850.3 374.0,849.2 374.5,851.2 375.0,849.7 375.5,849.3 376.0,850.9 376.5,848.4 377.0,852.0 377.5,850.3 378.0,850.2 378.5,849.2 379.0,847.8 379.5,847.4 380.0,849.1 380.5,848.0 381.0,849.5 381.5,848.7 382.0,846.2 382.5,848.8 383.0,845.5 383.5,846.9 384.0,847.9 384.5,844.2 385.0,849.2 385.5,849.4 386.0,848.9 386.5,848.7 387.0,849.0 387.5,848.2 388.0,849.7 388.5,849.0 389.0,850.5 389.5,848.1 390.0,851.4 390.5,851.7 391.0,850.8 391.5,850.1 392.0,852.6 392.5,847.5 393.0,852.5 393.5,851.6 394.0,851.3 394.5,851.5 395.0,849.7 395.5,851.1 396.0,853.1 396.5,852.8 397.0,851.7 397.5,847.8 398.0,852.8 398.5,854.1 399.0,853.6 399.5,851.4 400.0,847.3 400.5,853.1 401.0,851.1 401.5,845.2 402.0,851.4 402.5,847.2 403.0,847.3 403.5,849.2 404.0,854.3 404.5,850.1 405.0,851.9 405.5,855.7 406.0,855.0 406.5,851.8 407.0,851.6 407.5,849.4 408.0,850.3 408.5,852.6 409.0,852.9 409.5,852.1 410.0,854.9 410.5,850.7 411.0,852.5 411.5,854.5 412.0,853.8 412.5,854.4 413.0,853.0 413.5,850.9 414.0,851.9 414.5,848.4 415.0,847.1 415.5,853.2 416.0,851.8 416.5,852.3 417.0,847.3 417.5,849.6 418.0,848.7 418.5,847.7 419.0,845.0 419.5,849.7 420.0,852.4 420.5,851.3 421.0,849.9 421.5,851.3 422.0,853.2 422.5,844.2 423.0,849.9 423.5,851.6 424.0,852.0 424.5,854.5 425.0,853.0 425.5,851.8 426.0,851.2 426.5,852.5 427.0,849.7 427.5,851.1 428.0,853.5 428.5,855.9 429.0,851.1 429.5,851.3 430.0,851.9 430.5,854.6 431.0,851.6 431.5,855.6 432.0,850.8 432.5,852.3 433.0,852.6 433.5,854.8 434.0,855.3 434.5,849.1 435.0,849.7 435.5,852.7 436.0,849.8 436.5,848.1 437.0,853.9 437.5,852.6 438.0,851.9 438.5,849.4 439.0,851.9 439.5,848.7 440.0,852.0 440.5,846.7 441.0,846.7 441.5,849.0 442.0,846.4 442.5,849.4 443.0,848.7 443.5,845.4 444.0,848.1 444.5,846.5 445.0,849.4 445.5,845.3 446.0,845.9 446.5,850.3 447.0,851.9 447.5,851.6 448.0,847.1 448.5,846.9 449.0,850.1 449.5,846.0 450.0,843.6 450.5,846.4 451.0,847.2 451.5,844.1 452.0,842.0 452.5,841.6 453.0,846.7 453.5,842.3 454.0,844.1 454.5,844.7 455.0,844.9 455.5,843.4 456.0,846.0 456.5,842.6 457.0,843.4 457.5,841.4 458.0,845.8 458.5,842.5 459.0,840.0 459.5,840.7 460.0,839.4 460.5,839.9 461.0,831.1 461.5,829.1 462.0,826.9 462.5,828.5 463.0,819.5 463.5,812.7 464.0,813.1 464.5,816.4 465.0,812.5 465.5,815.7 466.0,824.8 466.5,827.6 467.0,832.4 467.5,833.2 468.0,842.8 468.5,844.4 469.0,843.0 469.5,845.6 470.0,840.0 470.5,847.2 471.0,845.5 471.5,847.7 472.0,848.8 472.5,846.5 473.0,843.0 473.5,847.5 474.0,845.1 474.5,845.9 475.0,844.8 475.5,844.6 476.0,838.8 476.5,846.7 477.0,843.8 477.5,845.4 478.0,847.4 478.5,843.0 479.0,839.4 479.5,842.4 480.0,843.1 480.5,846.1 481.0,847.9 481.5,844.1 482.0,850.1 482.5,846.2 483.0,850.8 483.5,849.8 484.0,849.6 484.5,850.2 485.0,848.9 485.5,848.4 486.0,845.6 486.5,849.9 487.0,854.3 487.5,855.0 488.0,853.4 488.5,851.7 489.0,848.4 489.5,853.3 490.0,850.3 490.5,850.7 491.0,850.2 491.5,851.3 492.0,850.3 492.5,851.3 493.0,848.9 493.5,850.5 494.0,856.8 494.5,851.6 495.0,851.7 495.5,853.6 496.0,853.9 496.5,849.6 497.0,851.7 497.5,854.0 498.0,852.2 498.5,851.9 499.0,855.1 499.5,849.5 500.0,851.4 500.5,849.6 501.0,853.7 501.5,845.5 502.0,848.1 502.5,848.3 503.0,851.3 503.5,851.7 504.0,853.4 504.5,846.7 505.0,852.4 505.5,849.7 506.0,849.2 506.5,852.1 507.0,848.8 507.5,846.5 508.0,850.9 508.5,848.0 509.0,849.9 509.5,852.5 510.0,852.4 510.5,855.2 511.0,851.6 511.5,848.0 512.0,849.7 512.5,849.4 513.0,848.5 513.5,852.5 514.0,850.7 514.5,847.6 515.0,853.3 515.5,851.7 516.0,853.3 516.5,852.5 517.0,853.6 517.5,852.0 518.0,854.3 518.5,852.4 519.0,852.3 519.5,852.7 520.0,848.2 520.5,851.7 521.0,850.9 521.5,851.9 522.0,848.8 522.5,855.7 523.0,851.8 523.5,848.3 524.0,847.0 524.5,850.1 525.0,851.3 525.5,850.0 526.0,851.9 526.5,849.5 527.0,852.4 527.5,848.8 528.0,850.8 528.5,853.2 529.0,856.8 529.5,848.2 530.0,849.3 530.5,849.1 531.0,852.5 531.5,847.9 532.0,848.9 532.5,849.7 533.0,847.4 533.5,847.9 534.0,849.0 534.5,845.7 535.0,846.8 535.5,849.6 536.0,851.1 536.5,850.4 537.0,846.8 537.5,849.3 538.0,852.5 538.5,852.6 539.0,850.7 539.5,849.3 540.0,852.6 540.5,849.4 541.0,847.7 541.5,848.9 542.0,854.2 542.5,851.1 543.0,852.7 543.5,849.3 544.0,852.1 544.5,848.7 545.0,850.1 545.5,855.9 546.0,852.2 546.5,849.1 547.0,850.2 547.5,851.3 548.0,854.0 548.5,849.4 549.0,846.5 549.5,849.6 550.0,850.5 550.5,850.3 551.0,853.9 551.5,851.5 552.0,851.8 552.5,846.4 553.0,850.7 553.5,853.0 554.0,848.8 554.5,845.5 555.0,842.6 555.5,843.9 556.0,833.0 556.5,830.3 557.0,826.3 557.5,821.6 558.0,812.5 558.5,809.5 559.0,805.1 559.5,806.9 560.0,808.4 560.5,809.3 561.0,816.4 561.5,823.0 562.0,821.6 562.5,824.1 563.0,826.1 563.5,819.1 564.0,817.8 564.5,808.7 565.0,808.4 565.5,806.0 566.0,801.9 566.5,795.9 567.0,800.7 567.5,804.4 568.0,812.0 568.5,823.2 569.0,822.5 569.5,834.4 570.0,836.6 570.5,844.2 571.0,844.3 571.5,844.1 572.0,847.9 572.5,849.9 573.0,849.0 573.5,849.8 574.0,848.0 574.5,844.8 575.0,852.2 575.5,851.7 576.0,851.0 576.5,851.2 577.0,853.2 577.5,849.5 578.0,848.3 578.5,849.5 579.0,852.6 579.5,846.9 580.0,853.1 580.5,848.9 581.0,847.9 581.5,852.9 582.0,849.5 582.5,846.8 583.0,848.6 583.5,851.7 584.0,852.6 584.5,848.5 585.0,850.4 585.5,851.1 586.0,848.0 586.5,850.5 587.0,849.7 587.5,848.9 588.0,849.2 588.5,850.8 589.0,850.5 589.5,849.1 590.0,849.4 590.5,853.1 591.0,851.0 591.5,853.0 592.0,854.0 592.5,852.9 593.0,856.7 593.5,849.5 594.0,853.1 594.5,850.1 595.0,854.7 595.5,854.5 596.0,846.4 596.5,848.9 597.0,852.6 597.5,853.4 598.0,853.1 598.5,851.2 599.0,852.5 599.5,852.5 600.0,850.8 600.5,853.7 601.0,846.3 601.5,853.2 602.0,849.8 602.5,854.3 603.0,851.7 603.5,850.2 604.0,853.1 604.5,849.6 605.0,850.0 605.5,848.6 606.0,852.3 606.5,853.3 607.0,854.7 607.5,852.2 608.0,855.0 608.5,852.4 609.0,851.8 609.5,853.4 610.0,854.0 610.5,851.0 611.0,851.2 611.5,851.6 612.0,852.3 612.5,849.5 613.0,853.8 613.5,850.8 614.0,852.2 614.5,848.5 615.0,850.8 615.5,851.2 616.0,849.2 616.5,855.0 617.0,852.0 617.5,855.2 618.0,853.5 618.5,849.6 619.0,849.6 619.5,852.1 620.0,851.3 620.5,851.6 621.0,851.8 621.5,848.6 622.0,852.4 622.5,848.0 623.0,854.0 623.5,850.9 624.0,850.3 624.5,851.2 625.0,852.3 625.5,848.4 626.0,848.3 626.5,850.1 627.0,847.9 627.5,850.1 628.0,855.5 628.5,849.4 629.0,852.9 629.5,847.9 630.0,852.2 630.5,851.1 631.0,852.1 631.5,854.0 632.0,856.4 632.5,852.8 633.0,851.9 633.5,849.1 634.0,852.2 634.5,850.6 635.0,852.9 635.5,850.9 636.0,855.2 636.5,845.9 637.0,850.0 637.5,852.6 638.0,849.5 638.5,848.2 639.0,849.7 639.5,847.3 640.0,851.0 640.5,856.5 641.0,853.1 641.5,847.5 642.0,847.7 642.5,848.3 643.0,851.4 643.5,847.2 644.0,847.1 644.5,850.1 645.0,849.2 645.5,845.4 646.0,843.2 646.5,840.8 647.0,842.0 647.5,836.6 648.0,843.0 648.5,837.6 649.0,837.5 649.5,837.1 650.0,829.6 650.5,816.2 651.0,811.2 651.5,799.4 652.0,778.4 652.5,757.7 653.0,736.3 653.5,706.6 654.0,689.0 654.5,652.6 655.0,634.5 655.5,621.4 656.0,615.7 656.5,620.8 657.0,634.6 657.5,653.2 658.0,682.2 658.5,698.3 659.0,729.5 659.5,751.9 660.0,775.3 660.5,792.6 661.0,803.4 661.5,814.9 662.0,826.7 662.5,831.1 663.0,832.7 663.5,842.5 664.0,845.8 664.5,838.7 665.0,843.5 665.5,849.8 666.0,846.3 666.5,845.4 667.0,844.7 667.5,844.2 668.0,845.3 668.5,843.4 669.0,845.2 669.5,840.4 670.0,836.8 670.5,830.0 671.0,826.5 671.5,815.5 672.0,807.8 672.5,801.3 673.0,791.1 673.5,785.6 674.0,784.7 674.5,788.0 675.0,794.8 675.5,804.6 676.0,816.8 676.5,821.2 677.0,834.6 677.5,836.6 678.0,837.8 678.5,841.5 679.0,842.9 679.5,846.6 680.0,844.5 680.5,849.1 681.0,844.0 681.5,840.7 682.0,844.7 682.5,841.5 683.0,846.2 683.5,848.5 684.0,847.3 684.5,842.1 685.0,843.1 685.5,847.7 686.0,841.5 686.5,837.1 687.0,836.0 687.5,833.9 688.0,824.4 688.5,814.0 689.0,807.6 689.5,804.8 690.0,801.9 690.5,804.5 691.0,812.5 691.5,816.5 692.0,824.0 692.5,828.3 693.0,837.4 693.5,830.8 694.0,831.2 694.5,829.4 695.0,827.5 695.5,823.5 696.0,812.1 696.5,799.9 697.0,783.6 697.5,768.1 698.0,751.8 698.5,726.9 699.0,697.8 699.5,672.6 700.0,647.3 700.5,626.6 701.0,608.9 701.5,604.6 702.0,604.9 702.5,621.6 703.0,651.3 703.5,666.5 704.0,699.0 704.5,727.3 705.0,750.2 705.5,769.2 706.0,788.5 706.5,802.7 707.0,812.7 707.5,815.1 708.0,824.4 708.5,825.7 709.0,828.8 709.5,832.2 710.0,834.0 710.5,835.4 711.0,832.7 711.5,836.1 712.0,836.5 712.5,836.5 713.0,836.8 713.5,831.2 714.0,828.8 714.5,827.7 715.0,816.3 715.5,812.4 716.0,799.6 716.5,786.6 717.0,765.9 717.5,748.0 718.0,727.9 718.5,707.4 719.0,685.2 719.5,661.6 720.0,646.1 720.5,636.5 721.0,642.0 721.5,650.0 722.0,670.2 722.5,695.0 723.0,713.6 723.5,732.6 724.0,756.2 724.5,774.0 725.0,791.2 725.5,811.1 726.0,818.5 726.5,821.8 727.0,832.8 727.5,838.8 728.0,837.6 728.5,839.5 729.0,842.3 729.5,845.3 730.0,846.9 730.5,848.5 731.0,849.2 731.5,849.4 732.0,850.5 732.5,849.0 733.0,843.8 733.5,847.7 734.0,848.9 734.5,847.4 735.0,851.2 735.5,848.7 736.0,847.4 736.5,853.0 737.0,851.1 737.5,850.6 738.0,852.4 738.5,852.9 739.0,850.8 739.5,844.4 740.0,848.6 740.5,849.0 741.0,848.3 741.5,851.2 742.0,852.7 742.5,848.1 743.0,846.0 743.5,853.1 744.0,847.6 744.5,845.6 745.0,848.8 745.5,849.1 746.0,846.1 746.5,849.0 747.0,845.3 747.5,843.5 748.0,845.5 748.5,845.9 749.0,842.5 749.5,844.5 750.0,842.9 750.5,849.1 751.0,839.0 751.5,842.8 752.0,838.4 752.5,837.0 753.0,838.6 753.5,838.9 754.0,839.7 754.5,837.3 755.0,834.6 755.5,835.3 756.0,837.6 756.5,837.9 757.0,840.3 757.5,837.9 758.0,840.2 758.5,840.6 759.0,835.8 759.5,829.8 760.0,826.7 760.5,820.9 761.0,821.5 761.5,805.9 762.0,799.6 762.5,783.3 763.0,769.6 763.5,747.9 764.0,723.7 764.5,702.0 765.0,681.9 765.5,666.5 766.0,654.6 766.5,654.1 767.0,666.8 767.5,671.6 768.0,696.7 768.5,715.3 769.0,740.5 769.5,762.5 770.0,778.3 770.5,795.8 771.0,802.3 771.5,819.3 772.0,823.2 772.5,831.9 773.0,834.9 773.5,831.2 774.0,837.0 774.5,840.6 775.0,844.9 775.5,842.4 776.0,842.0 776.5,838.4 777.0,845.4 777.5,846.4 778.0,841.7 778.5,839.8 779.0,834.2 779.5,837.0 780.0,837.3 780.5,826.1 781.0,819.5 781.5,806.8 782.0,790.0 782.5,782.1 783.0,761.7 783.5,753.3 784.0,747.3 784.5,747.3 785.0,750.8 785.5,761.5 786.0,772.0 786.5,785.1 787.0,802.3 787.5,811.4 788.0,819.2 788.5,827.1 789.0,834.5 789.5,835.5 790.0,839.7 790.5,841.1 791.0,847.1 791.5,848.9 792.0,853.3 792.5,845.9 793.0,847.7 793.5,851.8 794.0,849.7 794.5,849.9 795.0,855.0 795.5,850.1 796.0,848.4 796.5,848.2 797.0,852.7 797.5,852.4 798.0,848.2 798.5,849.5 799.0,853.3 799.5,852.8 800.0,850.7 800.5,853.2 801.0,852.6 801.5,847.4 802.0,850.5 802.5,851.8 803.0,849.7 803.5,845.8 804.0,849.5 804.5,851.7 805.0,853.4 805.5,844.1 806.0,855.4 806.5,847.4 807.0,851.9 807.5,852.9 808.0,852.1 808.5,850.1 809.0,847.0 809.5,851.9 810.0,848.4 810.5,844.4 811.0,856.9 811.5,851.8 812.0,854.2 812.5,848.1 813.0,853.1 813.5,852.3 814.0,851.6 814.5,847.1 815.0,844.2 815.5,846.2 816.0,841.0 816.5,841.2 817.0,844.6 817.5,841.3 818.0,842.1 818.5,841.9 819.0,846.8 819.5,844.8 820.0,842.4 820.5,846.3 821.0,842.5 821.5,845.0 822.0,848.2 822.5,843.6 823.0,847.0 823.5,845.3 824.0,849.6 824.5,853.3 825.0,848.1 825.5,850.2 826.0,848.2 826.5,848.3 827.0,848.0 827.5,854.3 828.0,856.4 828.5,851.3 829.0,849.1 829.5,852.8 830.0,850.5 830.5,852.9 831.0,851.8 831.5,851.6 832.0,852.5 832.5,849.5 833.0,850.0 833.5,846.6 834.0,850.3 834.5,848.2 835.0,851.2 835.5,849.3 836.0,852.2 836.5,852.5 837.0,847.5 837.5,848.4 838.0,847.9 838.5,852.2 839.0,854.4 839.5,853.0 840.0,850.1 840.5,854.6 841.0,847.1 841.5,854.4 842.0,849.2 842.5,844.5 843.0,856.6 843.5,853.5 844.0,847.2 844.5,850.6 845.0,849.4 845.5,849.3 846.0,845.3 846.5,845.8 847.0,847.0 847.5,844.3 848.0,844.1 848.5,837.3 849.0,839.5 849.5,829.0 850.0,828.9 850.5,823.8 851.0,826.8 851.5,835.6 852.0,833.9 852.5,841.4 853.0,843.0 853.5,843.3 854.0,846.7 854.5,847.5 855.0,848.4 855.5,851.9 856.0,851.3 856.5,848.4 857.0,848.0 857.5,850.9 858.0,850.5 858.5,854.3 859.0,858.0 859.5,853.9 860.0,851.4 860.5,851.1 861.0,849.4 861.5,849.1 862.0,848.6 862.5,849.9 863.0,850.7 863.5,852.8 864.0,849.9 864.5,850.3 865.0,847.6 865.5,853.8 866.0,851.3 866.5,854.1 867.0,852.7 867.5,854.5 868.0,850.7 868.5,852.7 869.0,856.8 869.5,847.8 870.0,852.8 870.5,854.1 871.0,851.5 871.5,851.6 872.0,852.9 872.5,847.8 873.0,850.4 873.5,847.3 874.0,847.2 874.5,847.0 875.0,848.3 875.5,849.1 876.0,850.3 876.5,845.5 877.0,853.9 877.5,852.2 878.0,851.1 878.5,849.4 879.0,850.3 879.5,852.2 880.0,851.7 880.5,846.9 881.0,852.7 881.5,858.2 882.0,846.4 882.5,853.5 883.0,852.1 883.5,851.4 884.0,855.1 884.5,848.4 885.0,851.3 885.5,854.4 886.0,850.1 886.5,848.8 887.0,849.7 887.5,847.6 888.0,851.1 888.5,843.9 889.0,846.5 889.5,838.8 890.0,841.4 890.5,837.6 891.0,829.2 891.5,835.5 892.0,832.9 892.5,835.2 893.0,842.0 893.5,837.9 894.0,839.5 894.5,846.9 895.0,845.1 895.5,849.5 896.0,848.0 896.5,846.2 897.0,848.5 897.5,852.3 898.0,851.8 898.5,850.0 899.0,850.3 899.5,850.2 900.0,849.3 900.5,855.1 901.0,850.7 901.5,848.1 902.0,850.0 902.5,853.2 903.0,853.6 903.5,851.8 904.0,850.7 904.5,851.9 905.0,848.4 905.5,848.6 906.0,853.5 906.5,850.3 907.0,851.9 907.5,854.4 908.0,853.2 908.5,851.8 909.0,856.7 909.5,852.6 910.0,848.7 910.5,851.1 911.0,850.4 911.5,847.5 912.0,849.3 912.5,848.7 913.0,844.2 913.5,847.7 914.0,847.2 914.5,846.3 915.0,842.8 915.5,845.5 916.0,845.9 916.5,846.7 917.0,844.4 917.5,848.4 918.0,843.9 918.5,846.8 919.0,851.3 919.5,846.9 920.0,848.0 920.5,852.6 921.0,850.1 921.5,850.4 922.0,851.5 922.5,853.7 923.0,846.4 923.5,849.7 924.0,848.6 924.5,848.9 925.0,849.3 925.5,849.1 926.0,851.2 926.5,848.3 927.0,850.4 927.5,850.9 928.0,847.7 928.5,849.9 929.0,853.4 929.5,850.1 930.0,847.8 930.5,848.5 931.0,846.3 931.5,849.2 932.0,851.1 932.5,847.6 933.0,849.3 933.5,852.4 934.0,848.6 934.5,850.6 935.0,847.5 935.5,847.6 936.0,848.0 936.5,854.2 937.0,848.2 937.5,848.6 938.0,848.6 938.5,849.1 939.0,850.7 939.5,849.4 940.0,853.5 940.5,849.3 941.0,851.7 941.5,848.3 942.0,849.1 942.5,844.4 943.0,847.1 943.5,846.9 944.0,845.9 944.5,840.5 945.0,847.4 945.5,844.4 946.0,844.4 946.5,845.0 947.0,845.9 947.5,847.8 948.0,844.8 948.5,846.4 949.0,849.3 949.5,848.8 950.0,848.4 950.5,847.9 951.0,847.4 951.5,849.5 952.0,852.5 952.5,847.2 953.0,853.3 953.5,851.7 954.0,848.3 954.5,851.2 955.0,845.8 955.5,845.6 956.0,847.1 956.5,849.1 957.0,848.8 957.5,848.4 958.0,849.5 958.5,844.0 959.0,850.6 959.5,845.2 960.0,846.9 960.5,847.0 961.0,844.8 961.5,843.9 962.0,844.2 962.5,845.4 963.0,846.0 963.5,844.7 964.0,839.8 964.5,838.4 965.0,835.9 965.5,835.9 966.0,825.0 966.5,828.3 967.0,817.1 967.5,808.0 968.0,801.3 968.5,792.7 969.0,779.5 969.5,770.0 970.0,754.6 970.5,747.0 971.0,738.0 971.5,727.9 972.0,729.3 972.5,728.0 973.0,733.4 973.5,738.9 974.0,751.5 974.5,766.7 975.0,773.6 975.5,790.5 976.0,800.5 976.5,809.2 977.0,811.6 977.5,824.3 978.0,831.7 978.5,833.5 979.0,839.2 979.5,834.6 980.0,843.7 980.5,842.3 981.0,846.9 981.5,840.9 982.0,847.3 982.5,845.9 983.0,848.6 983.5,845.1 984.0,846.2 984.5,852.8 985.0,845.9 985.5,845.2 986.0,846.2 986.5,845.1 987.0,850.3 987.5,851.5 988.0,845.2 988.5,842.2 989.0,849.3 989.5,848.1 990.0,846.7 990.5,846.2 991.0,840.4 991.5,841.8 992.0,838.1 992.5,838.5 993.0,844.5 993.5,840.9 994.0,848.5 994.5,843.7 995.0,842.8 995.5,847.0 996.0,849.7 996.5,847.1 997.0,843.5 997.5,848.5 998.0,851.5 998.5,847.5 999.0,846.8 999.5,851.3 1000.0,849.5 1000.5,846.4 1001.0,848.9 1001.5,847.6 1002.0,849.7 1002.5,848.9 1003.0,849.9 1003.5,848.1 1004.0,842.4 1004.5,846.7 1005.0,847.5 1005.5,846.7 1006.0,848.7 1006.5,844.9 1007.0,844.5 1007.5,849.3 1008.0,844.2 1008.5,841.4 1009.0,849.2 1009.5,844.8 1010.0,846.2 1010.5,843.5 1011.0,842.9 1011.5,842.5 1012.0,843.7 1012.5,843.9 1013.0,835.2 1013.5,839.9 1014.0,831.0 1014.5,826.4 1015.0,824.6 1015.5,816.3 1016.0,803.0 1016.5,801.1 1017.0,782.1 1017.5,771.7 1018.0,757.3 1018.5,745.7 1019.0,726.3 1019.5,718.1 1020.0,703.8 1020.5,704.0 1021.0,698.4 1021.5,704.0 1022.0,719.4 1022.5,725.0 1023.0,738.0 1023.5,758.4 1024.0,767.4 1024.5,777.8 1025.0,794.8 1025.5,801.0 1026.0,816.2 1026.5,823.8 1027.0,825.8 1027.5,830.5 1028.0,836.3 1028.5,839.0 1029.0,838.6 1029.5,844.3 1030.0,839.5 1030.5,844.5 1031.0,845.3 1031.5,846.4 1032.0,848.2 1032.5,844.7 1033.0,849.6 1033.5,848.2 1034.0,846.9 1034.5,845.7 1035.0,846.4 1035.5,849.7 1036.0,846.6 1036.5,849.7 1037.0,851.9 1037.5,851.7 1038.0,853.4 1038.5,848.8 1039.0,846.9 1039.5,852.0 1040.0,850.2 1040.5,852.1 1041.0,849.6 1041.5,852.1 1042.0,851.6 1042.5,851.2 1043.0,851.2 1043.5,850.5 1044.0,850.1 1044.5,850.7 1045.0,852.2 1045.5,848.6 1046.0,854.0 1046.5,849.5 1047.0,852.1 1047.5,849.0 1048.0,848.5 1048.5,853.9 1049.0,848.4 1049.5,846.5 1050.0,847.4 1050.5,849.2 1051.0,855.0 1051.5,849.7 1052.0,850.8 1052.5,846.8 1053.0,849.8 1053.5,850.6 1054.0,853.0 1054.5,847.4 1055.0,850.8 1055.5,850.1 1056.0,847.2 1056.5,849.2 1057.0,848.1 1057.5,842.9 1058.0,849.7 1058.5,849.8 1059.0,848.3 1059.5,845.6 1060.0,852.4 1060.5,849.5 1061.0,851.2 1061.5,852.4 1062.0,847.2 1062.5,850.6 1063.0,847.8 1063.5,848.3 1064.0,849.0 1064.5,849.2 1065.0,851.9 1065.5,850.0 1066.0,849.0 1066.5,849.0 1067.0,850.1 1067.5,847.4 1068.0,848.8 1068.5,849.7 1069.0,848.7 1069.5,849.4 1070.0,848.4 1070.5,854.5 1071.0,853.0 1071.5,851.3 1072.0,850.4 1072.5,855.1 1073.0,850.9 1073.5,850.2 1074.0,851.3 1074.5,851.6 1075.0,854.3 1075.5,851.3 1076.0,856.3 1076.5,849.4 1077.0,852.9 1077.5,849.2 1078.0,855.7 1078.5,850.5 1079.0,851.0 1079.5,853.7 1080.0,854.5 1080.5,848.4 1081.0,850.1 1081.5,847.2 1082.0,850.5 1082.5,849.8 1083.0,849.2 1083.5,848.3 1084.0,849.3 1084.5,848.5 1085.0,850.9 1085.5,853.1 1086.0,844.8 1086.5,849.4 1087.0,848.5 1087.5,850.9 1088.0,847.7 1088.5,849.7 1089.0,847.5 1089.5,851.9 1090.0,850.2 1090.5,849.4 1091.0,849.8 1091.5,846.5 1092.0,842.4 1092.5,846.2 1093.0,845.4 1093.5,844.3 1094.0,849.0 1094.5,851.5 1095.0,847.3 1095.5,849.6 1096.0,855.8 1096.5,855.4 1097.0,850.5 1097.5,849.5 1098.0,850.8 1098.5,851.5 1099.0,848.8 1099.5,852.7 1100.0,849.0 1100.5,849.1 1101.0,853.5 1101.5,849.4 1102.0,851.1 1102.5,852.0 1103.0,851.7 1103.5,848.6 1104.0,849.3 1104.5,846.5 1105.0,851.9 1105.5,848.8 1106.0,843.4 1106.5,845.6 1107.0,847.6 1107.5,847.2 1108.0,850.5 1108.5,849.3 1109.0,844.5 1109.5,845.8 1110.0,843.6 1110.5,847.8 1111.0,848.1 1111.5,855.0 1112.0,849.0 1112.5,843.9 1113.0,848.4 1113.5,850.2 1114.0,847.4 1114.5,848.7 1115.0,850.1 1115.5,851.9 1116.0,850.9 1116.5,848.9 1117.0,852.6 1117.5,849.3 1118.0,849.1 1118.5,846.5 1119.0,847.9 1119.5,851.3 1120.0,845.0 1120.5,849.0 1121.0,849.7 1121.5,846.4 1122.0,847.9 1122.5,844.2 1123.0,849.8 1123.5,849.6 1124.0,847.2 1124.5,842.1 1125.0,842.7 1125.5,847.1 1126.0,847.9 1126.5,843.3 1127.0,844.4 1127.5,836.9 1128.0,835.2 1128.5,831.1 1129.0,825.1 1129.5,812.3 1130.0,808.5 1130.5,796.9 1131.0,777.6 1131.5,762.8 1132.0,754.0 1132.5,738.3 1133.0,724.1 1133.5,728.2 1134.0,726.4 1134.5,730.4 1135.0,746.8 1135.5,754.4 1136.0,766.1 1136.5,781.7 1137.0,791.3 1137.5,803.8 1138.0,816.3 1138.5,821.6 1139.0,828.0 1139.5,837.9 1140.0,839.9 1140.5,842.2 1141.0,843.8 1141.5,844.5 1142.0,848.2 1142.5,844.2 1143.0,848.9 1143.5,842.1 1144.0,842.3 1144.5,837.6 1145.0,837.4 1145.5,837.2 1146.0,837.6 1146.5,831.9 1147.0,833.5 1147.5,834.6 1148.0,835.8 1148.5,837.3 1149.0,842.2 1149.5,839.9 1150.0,845.4 1150.5,845.7 1151.0,845.3 1151.5,845.3 1152.0,845.1 1152.5,853.3 1153.0,846.5 1153.5,854.0 1154.0,852.1 1154.5,849.7 1155.0,847.9 1155.5,853.1 1156.0,854.7 1156.5,848.0 1157.0,848.7 1157.5,851.3 1158.0,848.1 1158.5,850.7 1159.0,842.8 1159.5,845.2 1160.0,840.1 1160.5,848.0 1161.0,841.6 1161.5,839.0 1162.0,845.1 1162.5,846.6 1163.0,852.7 1163.5,848.0 1164.0,849.8 1164.5,851.7 1165.0,854.5 1165.5,850.8 1166.0,854.1 1166.5,852.7 1167.0,850.1 1167.5,851.0 1168.0,851.1 1168.5,848.3 1169.0,852.4 1169.5,845.3 1170.0,850.3 1170.5,848.3 1171.0,843.2 1171.5,839.1 1172.0,837.4 1172.5,837.0 1173.0,836.4 1173.5,835.2 1174.0,839.1 1174.5,837.5 1175.0,842.0 1175.5,840.4 1176.0,848.1 1176.5,848.2 1177.0,847.6 1177.5,852.5 1178.0,852.5 1178.5,844.5 1179.0,851.7 1179.5,848.1 1180.0,853.7 1180.5,857.4 1181.0,850.3 1181.5,851.6 1182.0,850.5 1182.5,852.1 1183.0,853.0 1183.5,854.6 1184.0,849.3 1184.5,855.4 1185.0,849.1 1185.5,852.2 1186.0,854.7 1186.5,853.8 1187.0,850.1 1187.5,850.2 1188.0,850.4 1188.5,851.1 1189.0,853.7 1189.5,847.6 1190.0,851.4 1190.5,851.6 1191.0,851.3 1191.5,849.4 1192.0,851.6 1192.5,847.8 1193.0,848.0 1193.5,846.6 1194.0,848.9 1194.5,840.0 1195.0,847.1 1195.5,843.2 1196.0,843.2 1196.5,840.9 1197.0,839.0 1197.5,842.6 1198.0,841.7 1198.5,845.5 1199.0,841.9 1199.5,849.7 1200.0,846.9 1200.5,846.0 1201.0,845.2 1201.5,845.0 1202.0,845.0 1202.5,846.4 1203.0,848.1 1203.5,848.3 1204.0,845.1 1204.5,847.7 1205.0,846.4 1205.5,849.3 1206.0,852.7 1206.5,849.9 1207.0,848.1 1207.5,845.3 1208.0,846.4 1208.5,845.7 1209.0,851.5 1209.5,848.4 1210.0,849.9 1210.5,848.4 1211.0,850.4 1211.5,853.5 1212.0,848.7 1212.5,849.5 1213.0,848.4 1213.5,852.3 1214.0,847.8 1214.5,847.9 1215.0,846.4 1215.5,846.4 1216.0,850.7 1216.5,855.4 1217.0,847.0 1217.5,851.3 1218.0,849.5 1218.5,846.2 1219.0,847.5 1219.5,846.7 1220.0,844.5 1220.5,849.9 1221.0,839.3 1221.5,842.6 1222.0,841.3 1222.5,837.5 1223.0,837.3 1223.5,836.9 1224.0,831.8 1224.5,829.6 1225.0,826.4 1225.5,815.4 1226.0,821.1 1226.5,819.0 1227.0,812.1 1227.5,808.9 1228.0,799.6 1228.5,800.9 1229.0,797.7 1229.5,797.5 1230.0,802.4 1230.5,799.6 1231.0,804.1 1231.5,802.2 1232.0,810.6 1232.5,814.8 1233.0,815.8 1233.5,819.9 1234.0,829.8 1234.5,824.7 1235.0,828.0 1235.5,831.7 1236.0,838.6 1236.5,842.7 1237.0,840.2 1237.5,839.1 1238.0,841.0 1238.5,845.4 1239.0,841.7 1239.5,848.1 1240.0,848.8 1240.5,845.9 1241.0,847.8 1241.5,848.2 1242.0,849.9 1242.5,843.5 1243.0,849.6 1243.5,846.3 1244.0,844.7 1244.5,846.7 1245.0,846.7 1245.5,845.2 1246.0,843.7 1246.5,845.8 1247.0,851.9 1247.5,853.3 1248.0,850.3 1248.5,852.2 1249.0,848.8 1249.5,849.9 1250.0,850.6 1250.5,847.4 1251.0,848.1 1251.5,850.8 1252.0,849.8 1252.5,848.4 1253.0,851.5 1253.5,850.0 1254.0,852.6 1254.5,850.0 1255.0,849.0 1255.5,850.3 1256.0,849.9 1256.5,848.9 1257.0,849.2 1257.5,851.9 1258.0,851.7 1258.5,853.3 1259.0,845.9 1259.5,848.3 1260.0,848.6 1260.5,849.8 1261.0,848.5 1261.5,848.8 1262.0,852.5 1262.5,850.7 1263.0,847.3 1263.5,852.8 1264.0,852.4 1264.5,848.9 1265.0,852.2 1265.5,848.4 1266.0,853.1 1266.5,850.8 1267.0,849.5 1267.5,850.2 1268.0,849.0 1268.5,850.6 1269.0,849.5 1269.5,849.3 1270.0,848.1 1270.5,841.6 1271.0,850.2 1271.5,845.1 1272.0,849.7 1272.5,851.6 1273.0,849.4 1273.5,847.1 1274.0,847.4 1274.5,847.7 1275.0,846.0 1275.5,846.2 1276.0,845.6 1276.5,850.1 1277.0,846.6 1277.5,848.5 1278.0,845.7 1278.5,846.7 1279.0,845.8 1279.5,846.6 1280.0,847.4 1280.5,845.6 1281.0,842.8 1281.5,841.8 1282.0,848.6 1282.5,844.0 1283.0,844.1 1283.5,848.6 1284.0,847.8 1284.5,846.1 1285.0,843.9 1285.5,850.1 1286.0,846.3 1286.5,847.0 1287.0,845.2 1287.5,843.2 1288.0,843.8 1288.5,848.9 1289.0,848.6 1289.5,846.6 1290.0,844.7 1290.5,843.9 1291.0,847.2 1291.5,844.5 1292.0,849.7 1292.5,850.7 1293.0,854.6 1293.5,850.3 1294.0,846.9 1294.5,846.2 1295.0,839.9 1295.5,846.4 1296.0,847.2 1296.5,850.3 1297.0,849.4 1297.5,849.3 1298.0,847.9 1298.5,849.2 1299.0,850.7 1299.5,844.0 1300.0,844.8 1300.5,842.0 1301.0,849.4 1301.5,847.8 1302.0,847.1 1302.5,843.0 1303.0,846.8 1303.5,846.0 1304.0,847.0 1304.5,846.8 1305.0,848.8 1305.5,846.8 1306.0,850.6 1306.5,849.5 1307.0,848.7 1307.5,848.7 1308.0,847.6 1308.5,851.0 1309.0,847.7 1309.5,848.7 1310.0,846.4 1310.5,843.7 1311.0,848.7 1311.5,843.4 1312.0,846.8 1312.5,845.4 1313.0,839.4 1313.5,841.0 1314.0,841.0 1314.5,840.0 1315.0,839.1 1315.5,843.6 1316.0,841.8 1316.5,843.8 1317.0,842.2 1317.5,844.8 1318.0,843.4 1318.5,846.0 1319.0,848.2 1319.5,846.9 1320.0,846.4 1320.5,845.5 1321.0,848.6 1321.5,849.7 1322.0,848.6 1322.5,847.7 1323.0,851.2 1323.5,855.1 1324.0,849.1 1324.5,850.7 1325.0,850.3 1325.5,843.5 1326.0,850.3 1326.5,849.5 1327.0,854.7 1327.5,849.8 1328.0,849.0 1328.5,850.6 1329.0,851.3 1329.5,849.5 1330.0,851.0 1330.5,848.4 1331.0,850.8 1331.5,853.0 1332.0,856.0 1332.5,853.0 1333.0,851.5 1333.5,853.5 1334.0,853.0 1334.5,854.9 1335.0,853.5 1335.5,850.7 1336.0,851.6 1336.5,851.7 1337.0,851.4 1337.5,850.9 1338.0,848.9 1338.5,846.3 1339.0,850.1 1339.5,847.0 1340.0,852.1 1340.5,851.5 1341.0,847.2 1341.5,853.1 1342.0,853.6 1342.5,851.7 1343.0,855.5 1343.5,855.7 1344.0,848.1 1344.5,853.7 1345.0,852.4 1345.5,851.7 1346.0,852.7 1346.5,848.3 1347.0,848.1 1347.5,847.9 1348.0,848.8 1348.5,850.1 1349.0,846.6 1349.5,846.8 1350.0,850.4 1350.5,848.5 1351.0,848.6 1351.5,842.3 1352.0,843.8 1352.5,843.0 1353.0,842.0 1353.5,838.8 1354.0,839.7 1354.5,834.1 1355.0,830.2 1355.5,825.9 1356.0,824.0 1356.5,817.7 1357.0,817.8 1357.5,813.4 1358.0,810.7 1358.5,809.5 1359.0,811.4 1359.5,813.8 1360.0,817.0 1360.5,819.0 1361.0,824.6 1361.5,826.0 1362.0,832.9 1362.5,833.3 1363.0,830.9 1363.5,841.7 1364.0,840.9 1364.5,839.6 1365.0,843.4 1365.5,842.7 1366.0,850.4 1366.5,847.8 1367.0,843.4 1367.5,849.0 1368.0,847.0 1368.5,852.8 1369.0,845.9 1369.5,843.7 1370.0,849.7 1370.5,848.8 1371.0,848.5 1371.5,844.6 1372.0,851.2 1372.5,854.5 1373.0,846.2 1373.5,853.3 1374.0,848.8 1374.5,855.4 1375.0,850.9 1375.5,849.3 1376.0,852.0 1376.5,850.3 1377.0,847.6 1377.5,850.6 1378.0,848.2 1378.5,844.0 1379.0,852.6 1379.5,846.7 1380.0,845.5 1380.5,847.2 1381.0,842.7 1381.5,842.6 1382.0,844.2 1382.5,843.3 1383.0,844.1 1383.5,845.1 1384.0,838.9 1384.5,839.2 1385.0,836.9 1385.5,830.7 1386.0,831.1 1386.5,825.4 1387.0,828.7 1387.5,826.2 1388.0,824.3 1388.5,821.3 1389.0,825.7 1389.5,824.8 1390.0,829.7 1390.5,828.6 1391.0,827.7 1391.5,832.0 1392.0,831.4 1392.5,826.4 1393.0,828.9 1393.5,822.7 1394.0,819.6 1394.5,817.6 1395.0,812.1 1395.5,809.8 1396.0,808.8 1396.5,811.9 1397.0,811.9 1397.5,808.5 1398.0,815.7 1398.5,814.7 1399.0,818.4 1399.5,822.9 1400.0,824.6 1400.5,833.2 1401.0,830.9 1401.5,829.5 1402.0,838.4 1402.5,836.7 1403.0,838.7 1403.5,833.7 1404.0,844.2 1404.5,844.0 1405.0,843.8 1405.5,843.3 1406.0,844.7 1406.5,840.7 1407.0,843.1 1407.5,838.8 1408.0,839.2 1408.5,843.3 1409.0,841.4 1409.5,837.5 1410.0,841.9 1410.5,840.9 1411.0,840.2 1411.5,844.2 1412.0,843.2 1412.5,841.7 1413.0,843.6 1413.5,850.8 1414.0,843.7 1414.5,848.2 1415.0,850.0 1415.5,849.9 1416.0,845.7 1416.5,847.8 1417.0,849.0 1417.5,851.0 1418.0,847.8 1418.5,846.3 1419.0,851.4 1419.5,851.1 1420.0,849.2 1420.5,846.9 1421.0,848.6 1421.5,847.5 1422.0,849.3 1422.5,844.5 1423.0,848.0 1423.5,847.3 1424.0,845.6 1424.5,848.5 1425.0,847.3 1425.5,846.8 1426.0,848.3 1426.5,843.9 1427.0,847.1 1427.5,847.6 1428.0,847.2 1428.5,848.7 1429.0,842.1 1429.5,840.8 1430.0,844.6 1430.5,844.9 1431.0,848.4 1431.5,845.5 1432.0,842.7 1432.5,847.2 1433.0,844.1 1433.5,843.5 1434.0,853.4 1434.5,848.7 1435.0,850.2 1435.5,850.3 1436.0,854.2 1436.5,850.5 1437.0,852.9 1437.5,848.2 1438.0,847.2 1438.5,853.8 1439.0,854.1 1439.5,851.5 1440.0,850.6 1440.5,850.0 1441.0,847.4 1441.5,852.2 1442.0,849.2 1442.5,848.0 1443.0,846.7 1443.5,848.0 1444.0,846.2 1444.5,846.0 1445.0,841.6 1445.5,845.7 1446.0,849.5 1446.5,843.2 1447.0,844.3 1447.5,847.1 1448.0,848.3 1448.5,848.2 1449.0,843.9 1449.5,849.8 1450.0,846.6 1450.5,847.9 1451.0,851.7 1451.5,850.1 1452.0,853.0 1452.5,858.5 1453.0,853.1 1453.5,853.0 1454.0,849.0 1454.5,849.5 1455.0,847.8 1455.5,848.6 1456.0,846.3 1456.5,846.5 1457.0,846.9 1457.5,844.4 1458.0,842.5 1458.5,842.4 1459.0,846.1 1459.5,844.7 1460.0,846.9 1460.5,848.0 1461.0,844.9 1461.5,848.0 1462.0,844.3 1462.5,853.3 1463.0,851.6 1463.5,849.1 1464.0,847.3 1464.5,851.5 1465.0,846.7 1465.5,849.2 1466.0,853.4 1466.5,852.3 1467.0,851.2 1467.5,853.9 1468.0,850.4 1468.5,853.2 1469.0,851.0 1469.5,850.2 1470.0,852.9 1470.5,849.0 1471.0,855.4 1471.5,848.7 1472.0,854.2 1472.5,847.1 1473.0,851.0 1473.5,847.4 1474.0,847.7 1474.5,851.9 1475.0,852.7 1475.5,848.3 1476.0,853.6 1476.5,849.2 1477.0,850.8 1477.5,851.4 1478.0,852.4 1478.5,847.2 1479.0,855.8 1479.5,853.4 1480.0,850.7 1480.5,848.7 1481.0,846.8 1481.5,847.4 1482.0,852.2 1482.5,850.0 1483.0,848.4 1483.5,849.8 1484.0,855.1 1484.5,850.4 1485.0,849.5 1485.5,854.0 1486.0,851.7 1486.5,850.5 1487.0,849.3 1487.5,846.8 1488.0,848.1 1488.5,849.1 1489.0,849.1 1489.5,850.5 1490.0,850.9 1490.5,849.9 1491.0,849.6 1491.5,847.4 1492.0,844.8 1492.5,848.5 1493.0,847.9 1493.5,848.8 1494.0,849.8 1494.5,847.9 1495.0,848.2 1495.5,850.9 1496.0,851.4 1496.5,849.5 1497.0,852.2 1497.5,850.8 1498.0,848.6 1498.5,850.4 1499.0,854.2 1499.5,847.7 1500.0,850.7 1500.5,851.1 1501.0,850.7 1501.5,844.9 1502.0,851.1 1502.5,845.9 1503.0,844.8 1503.5,844.6 1504.0,846.4 1504.5,845.0 1505.0,845.3 1505.5,849.2 1506.0,844.8 1506.5,845.0 1507.0,850.3 1507.5,849.8 1508.0,851.1 1508.5,846.1 1509.0,851.4 1509.5,850.4 1510.0,853.5 1510.5,847.4 1511.0,851.2 1511.5,850.1 1512.0,847.0 1512.5,849.0 1513.0,853.7 1513.5,849.6 1514.0,849.2 1514.5,852.4 1515.0,852.9 1515.5,853.3 1516.0,849.7 1516.5,851.6 1517.0,853.9 1517.5,849.7 1518.0,849.3 1518.5,852.6 1519.0,854.2 1519.5,848.2 1520.0,844.8 1520.5,847.5 1521.0,848.0 1521.5,851.4 1522.0,852.8 1522.5,850.7 1523.0,848.5 1523.5,850.8 1524.0,848.7 1524.5,850.9 1525.0,849.6 1525.5,857.8 1526.0,853.6 1526.5,848.9 1527.0,848.4 1527.5,849.7 1528.0,846.9 1528.5,848.3 1529.0,848.5 1529.5,852.5 1530.0,849.5 1530.5,847.9 1531.0,845.6 1531.5,844.3 1532.0,845.3 1532.5,842.9 1533.0,843.3 1533.5,836.1 1534.0,836.3 1534.5,829.8 1535.0,825.1 1535.5,816.7 1536.0,816.3 1536.5,820.8 1537.0,824.2 1537.5,824.0 1538.0,829.9 1538.5,831.4 1539.0,835.9 1539.5,838.7 1540.0,846.0 1540.5,846.6 1541.0,846.4 1541.5,847.5 1542.0,850.4 1542.5,850.2 1543.0,847.7 1543.5,854.2 1544.0,851.0 1544.5,851.1 1545.0,853.9 1545.5,853.1 1546.0,850.3 1546.5,852.2 1547.0,848.3 1547.5,849.2 1548.0,845.9 1548.5,853.7 1549.0,846.3 1549.5,852.3 1550.0,848.2 1550.5,847.7 1551.0,849.2 1551.5,850.0 1552.0,850.7 1552.5,853.4 1553.0,850.1 1553.5,850.4 1554.0,846.1 1554.5,849.0 1555.0,846.6 1555.5,844.1 1556.0,844.5 1556.5,843.8 1557.0,844.3 1557.5,843.9 1558.0,841.2 1558.5,840.1 1559.0,843.4 1559.5,836.8 1560.0,838.8 1560.5,844.1 1561.0,833.8 1561.5,838.5 1562.0,841.2 1562.5,835.6 1563.0,845.9 1563.5,833.4 1564.0,842.9 1564.5,843.8 1565.0,842.3 1565.5,839.5 1566.0,841.2 1566.5,838.2 1567.0,841.8 1567.5,836.5 1568.0,837.3 1568.5,838.5 1569.0,831.9 1569.5,831.2 1570.0,828.9 1570.5,821.4 1571.0,823.8 1571.5,818.2 1572.0,811.0 1572.5,813.9 1573.0,813.3 1573.5,817.1 1574.0,823.4 1574.5,825.7 1575.0,834.7 1575.5,835.6 1576.0,843.0 1576.5,843.4 1577.0,848.0 1577.5,845.7 1578.0,847.1 1578.5,845.8 1579.0,850.4 1579.5,852.0 1580.0,854.8 1580.5,853.1 1581.0,850.5 1581.5,850.1 1582.0,851.6 1582.5,850.5 1583.0,854.6 1583.5,853.6 1584.0,849.4 1584.5,850.1 1585.0,855.2 1585.5,853.4 1586.0,851.7 1586.5,855.2 1587.0,851.9 1587.5,851.9 1588.0,851.7 1588.5,848.1 1589.0,854.3 1589.5,848.9 1590.0,850.5 1590.5,849.5 1591.0,853.2 1591.5,851.1 1592.0,851.3 1592.5,846.9 1593.0,850.9 1593.5,847.3 1594.0,851.2 1594.5,851.3 1595.0,850.8 1595.5,855.8 1596.0,853.0 1596.5,853.5 1597.0,852.3 1597.5,851.5 1598.0,854.0 1598.5,854.6 1599.0,848.8 1599.5,854.5 1600.0,853.4 1600.5,854.6 1601.0,853.8 1601.5,849.9 1602.0,849.4 1602.5,856.0 1603.0,851.9 1603.5,848.1 1604.0,852.0 1604.5,850.7 1605.0,846.9 1605.5,845.6 1606.0,847.3 1606.5,851.7 1607.0,850.8 1607.5,850.4 1608.0,851.4 1608.5,852.1 1609.0,846.3 1609.5,851.0 1610.0,849.3 1610.5,848.1 1611.0,850.0 1611.5,851.4 1612.0,851.0 1612.5,848.4 1613.0,850.8 1613.5,856.2 1614.0,848.5 1614.5,846.9 1615.0,851.0 1615.5,851.9 1616.0,851.4 1616.5,847.8 1617.0,853.3 1617.5,849.0 1618.0,848.0 1618.5,848.7 1619.0,850.2 1619.5,852.4 1620.0,851.9 1620.5,850.7 1621.0,853.2 1621.5,851.4 1622.0,854.1 1622.5,848.3 1623.0,848.4 1623.5,853.7 1624.0,848.1 1624.5,850.5 1625.0,850.8 1625.5,850.4 1626.0,850.3 1626.5,854.2 1627.0,845.3 1627.5,853.0 1628.0,856.5 1628.5,851.0 1629.0,850.6 1629.5,852.4 1630.0,855.1 1630.5,847.5 1631.0,850.7 1631.5,850.4 1632.0,852.2 1632.5,850.2 1633.0,851.1 1633.5,847.6 1634.0,847.6 1634.5,845.1 1635.0,843.8 1635.5,844.0 1636.0,842.4 1636.5,839.4 1637.0,844.6 1637.5,839.5 1638.0,836.0 1638.5,841.8 1639.0,837.8 1639.5,842.4 1640.0,842.4 1640.5,844.7 1641.0,846.0 1641.5,845.2 1642.0,847.8 1642.5,853.3 1643.0,844.2 1643.5,849.8 1644.0,851.0 1644.5,847.6 1645.0,847.1 1645.5,855.8 1646.0,849.4 1646.5,855.0 1647.0,851.4 1647.5,850.2 1648.0,850.8 1648.5,851.6 1649.0,853.2 1649.5,851.4 1650.0,850.6 1650.5,850.4 1651.0,853.3 1651.5,852.5 1652.0,848.5"/>
<polyline fill="none" stroke="#ff00ff" stroke-width="6.3" stroke-linejoin="round" stroke-linecap="butt" points="115.0,1049.6 115.5,1056.1 116.0,1055.1 116.5,1046.8 117.0,1047.8 117.5,1046.9 118.0,1051.2 118.5,1049.1 119.0,1051.3 119.5,1042.6 120.0,1054.5 120.5,1049.9 121.0,1052.2 121.5,1049.6 122.0,1048.8 122.5,1051.0 123.0,1052.2 123.5,1050.5 124.0,1050.6 124.5,1052.6 125.0,1048.8 125.5,1047.2 126.0,1051.5 126.5,1049.0 127.0,1046.2 127.5,1048.4 128.0,1049.4 128.5,1048.0 129.0,1047.6 129.5,1050.7 130.0,1051.8 130.5,1048.9 131.0,1048.2 131.5,1050.2 132.0,1050.6 132.5,1048.6 133.0,1050.0 133.5,1050.9 134.0,1048.9 134.5,1047.7 135.0,1049.8 135.5,1049.7 136.0,1051.0 136.5,1047.2 137.0,1048.7 137.5,1048.9 138.0,1047.6 138.5,1050.8 139.0,1052.0 139.5,1049.8 140.0,1053.2 140.5,1052.5 141.0,1052.0 141.5,1051.8 142.0,1052.3 142.5,1048.9 143.0,1052.4 143.5,1052.2 144.0,1048.5 144.5,1051.7 145.0,1050.6 145.5,1052.0 146.0,1049.9 146.5,1050.8 147.0,1051.5 147.5,1049.3 148.0,1051.6 148.5,1050.4 149.0,1051.4 149.5,1049.6 150.0,1051.8 150.5,1051.1 151.0,1049.7 151.5,1050.9 152.0,1051.8 152.5,1052.7 153.0,1047.5 153.5,1051.1 154.0,1050.4 154.5,1049.6 155.0,1048.6 155.5,1051.9 156.0,1047.9 156.5,1050.9 157.0,1051.8 157.5,1047.0 158.0,1049.0 158.5,1047.3 159.0,1049.4 159.5,1050.9 160.0,1051.7 160.5,1046.1 161.0,1047.9 161.5,1049.8 162.0,1050.6 162.5,1048.8 163.0,1047.2 163.5,1048.6 164.0,1048.0 164.5,1048.2 165.0,1047.3 165.5,1049.2 166.0,1049.0 166.5,1048.7 167.0,1048.7 167.5,1047.1 168.0,1048.4 168.5,1051.2 169.0,1049.2 169.5,1047.5 170.0,1051.4 170.5,1050.2 171.0,1052.4 171.5,1048.9 172.0,1048.2 172.5,1046.6 173.0,1051.1 173.5,1053.1 174.0,1048.2 174.5,1048.4 175.0,1050.2 175.5,1048.2 176.0,1049.1 176.5,1049.0 177.0,1050.0 177.5,1051.3 178.0,1049.9 178.5,1051.3 179.0,1049.5 179.5,1050.6 180.0,1046.5 180.5,1047.5 181.0,1050.6 181.5,1048.8 182.0,1050.8 182.5,1050.6 183.0,1051.6 183.5,1050.5 184.0,1051.1 184.5,1049.7 185.0,1048.7 185.5,1049.1 186.0,1049.1 186.5,1048.1 187.0,1049.1 187.5,1049.6 188.0,1050.1 188.5,1049.4 189.0,1046.7 189.5,1049.4 190.0,1050.0 190.5,1051.3 191.0,1050.1 191.5,1048.2 192.0,1048.4 192.5,1052.3 193.0,1050.8 193.5,1052.4 194.0,1053.0 194.5,1048.2 195.0,1050.3 195.5,1049.9 196.0,1050.1 196.5,1049.5 197.0,1048.8 197.5,1049.1 198.0,1047.1 198.5,1048.9 199.0,1047.8 199.5,1049.3 200.0,1048.4 200.5,1050.0 201.0,1050.1 201.5,1049.7 202.0,1049.7 202.5,1049.6 203.0,1049.2 203.5,1050.2 204.0,1050.0 204.5,1051.2 205.0,1050.5 205.5,1051.3 206.0,1048.8 206.5,1052.1 207.0,1049.8 207.5,1049.9 208.0,1050.9 208.5,1050.4 209.0,1051.6 209.5,1050.1 210.0,1048.9 210.5,1049.4 211.0,1052.7 211.5,1050.8 212.0,1048.9 212.5,1050.7 213.0,1047.7 213.5,1052.4 214.0,1047.1 214.5,1050.2 215.0,1049.9 215.5,1047.0 216.0,1049.7 216.5,1050.9 217.0,1050.0 217.5,1049.4 218.0,1050.2 218.5,1048.8 219.0,1048.7 219.5,1048.4 220.0,1049.9 220.5,1047.8 221.0,1050.7 221.5,1049.0 222.0,1048.4 222.5,1050.5 223.0,1052.5 223.5,1051.6 224.0,1049.7 224.5,1051.5 225.0,1049.9 225.5,1050.1 226.0,1050.8 226.5,1046.8 227.0,1050.5 227.5,1048.7 228.0,1049.0 228.5,1047.7 229.0,1047.5 229.5,1048.3 230.0,1050.9 230.5,1051.9 231.0,1049.5 231.5,1050.9 232.0,1048.8 232.5,1046.9 233.0,1049.8 233.5,1050.2 234.0,1049.1 234.5,1050.2 235.0,1050.4 235.5,1047.8 236.0,1046.9 236.5,1048.8 237.0,1048.9 237.5,1049.1 238.0,1050.9 238.5,1052.3 239.0,1049.0 239.5,1050.5 240.0,1051.1 240.5,1051.0 241.0,1051.3 241.5,1049.1 242.0,1050.8 242.5,1053.5 243.0,1051.4 243.5,1049.4 244.0,1051.4 244.5,1052.2 245.0,1050.9 245.5,1049.7 246.0,1053.0 246.5,1048.8 247.0,1051.4 247.5,1050.7 248.0,1048.9 248.5,1052.9 249.0,1051.6 249.5,1049.1 250.0,1051.8 250.5,1050.2 251.0,1047.6 251.5,1049.5 252.0,1050.9 252.5,1051.1 253.0,1049.9 253.5,1049.4 254.0,1050.3 254.5,1049.1 255.0,1051.1 255.5,1049.2 256.0,1049.6 256.5,1049.7 257.0,1047.0 257.5,1047.2 258.0,1050.7 258.5,1048.9 259.0,1048.0 259.5,1049.1 260.0,1048.1 260.5,1049.7 261.0,1048.0 261.5,1049.4 262.0,1046.6 262.5,1050.9 263.0,1048.0 263.5,1046.6 264.0,1048.7 264.5,1048.8 265.0,1049.6 265.5,1047.7 266.0,1049.6 266.5,1054.7 267.0,1047.5 267.5,1049.8 268.0,1048.7 268.5,1049.3 269.0,1046.1 269.5,1047.3 270.0,1049.8 270.5,1049.3 271.0,1052.1 271.5,1048.5 272.0,1049.8 272.5,1053.7 273.0,1048.6 273.5,1048.3 274.0,1049.6 274.5,1049.7 275.0,1051.2 275.5,1050.6 276.0,1049.3 276.5,1050.8 277.0,1054.7 277.5,1052.4 278.0,1046.3 278.5,1050.4 279.0,1049.5 279.5,1051.6 280.0,1050.3 280.5,1053.3 281.0,1051.7 281.5,1051.7 282.0,1050.7 282.5,1049.6 283.0,1050.1 283.5,1051.2 284.0,1050.0 284.5,1048.7 285.0,1050.8 285.5,1049.3 286.0,1048.8 286.5,1048.0 287.0,1048.1 287.5,1048.4 288.0,1045.2 288.5,1050.4 289.0,1049.5 289.5,1048.6 290.0,1050.7 290.5,1050.1 291.0,1049.7 291.5,1045.4 292.0,1049.4 292.5,1050.4 293.0,1051.9 293.5,1052.2 294.0,1051.5 294.5,1047.5 295.0,1046.1 295.5,1050.5 296.0,1050.0 296.5,1051.5 297.0,1049.9 297.5,1050.2 298.0,1047.6 298.5,1050.4 299.0,1048.7 299.5,1049.9 300.0,1050.1 300.5,1049.0 301.0,1049.7 301.5,1049.0 302.0,1050.1 302.5,1049.8 303.0,1048.0 303.5,1048.0 304.0,1051.8 304.5,1049.1 305.0,1051.2 305.5,1050.6 306.0,1049.4 306.5,1049.0 307.0,1050.6 307.5,1050.8 308.0,1051.5 308.5,1048.8 309.0,1049.4 309.5,1049.9 310.0,1052.7 310.5,1046.8 311.0,1050.9 311.5,1049.5 312.0,1050.1 312.5,1048.7 313.0,1049.7 313.5,1051.5 314.0,1049.4 314.5,1049.6 315.0,1049.3 315.5,1047.9 316.0,1050.2 316.5,1049.2 317.0,1048.0 317.5,1049.3 318.0,1048.9 318.5,1050.3 319.0,1049.4 319.5,1048.6 320.0,1051.4 320.5,1050.5 321.0,1051.2 321.5,1050.2 322.0,1049.2 322.5,1048.4 323.0,1048.7 323.5,1051.0 324.0,1049.9 324.5,1047.5 325.0,1049.4 325.5,1047.3 326.0,1049.9 326.5,1048.2 327.0,1048.3 327.5,1050.5 328.0,1050.0 328.5,1047.6 329.0,1051.6 329.5,1053.9 330.0,1048.4 330.5,1053.0 331.0,1049.3 331.5,1049.4 332.0,1049.9 332.5,1047.7 333.0,1052.0 333.5,1050.6 334.0,1048.8 334.5,1049.7 335.0,1048.1 335.5,1049.8 336.0,1051.7 336.5,1047.4 337.0,1049.2 337.5,1049.9 338.0,1051.1 338.5,1051.6 339.0,1049.1 339.5,1048.9 340.0,1050.3 340.5,1049.0 341.0,1049.2 341.5,1051.4 342.0,1052.1 342.5,1050.1 343.0,1049.0 343.5,1050.2 344.0,1046.8 344.5,1049.9 345.0,1048.1 345.5,1053.5 346.0,1050.9 346.5,1050.2 347.0,1049.7 347.5,1046.1 348.0,1050.8 348.5,1052.1 349.0,1048.6 349.5,1050.7 350.0,1051.0 350.5,1047.7 351.0,1051.4 351.5,1051.7 352.0,1050.1 352.5,1049.5 353.0,1050.8 353.5,1047.4 354.0,1049.8 354.5,1051.4 355.0,1047.7 355.5,1050.8 356.0,1048.6 356.5,1046.0 357.0,1048.9 357.5,1047.5 358.0,1049.2 358.5,1047.2 359.0,1050.3 359.5,1047.4 360.0,1048.9 360.5,1047.4 361.0,1048.2 361.5,1050.8 362.0,1049.7 362.5,1048.8 363.0,1047.6 363.5,1051.4 364.0,1050.8 364.5,1049.2 365.0,1050.1 365.5,1048.2 366.0,1048.3 366.5,1048.6 367.0,1050.6 367.5,1050.1 368.0,1048.4 368.5,1050.1 369.0,1050.4 369.5,1049.7 370.0,1050.8 370.5,1048.9 371.0,1049.1 371.5,1050.5 372.0,1050.0 372.5,1051.2 373.0,1048.5 373.5,1052.7 374.0,1049.1 374.5,1050.5 375.0,1048.8 375.5,1051.9 376.0,1052.9 376.5,1052.7 377.0,1052.6 377.5,1048.8 378.0,1050.1 378.5,1050.3 379.0,1049.3 379.5,1052.4 380.0,1051.2 380.5,1050.9 381.0,1052.1 381.5,1049.7 382.0,1049.7 382.5,1049.5 383.0,1051.3 383.5,1050.8 384.0,1051.0 384.5,1051.7 385.0,1048.3 385.5,1049.6 386.0,1050.5 386.5,1048.2 387.0,1049.3 387.5,1051.6 388.0,1051.3 388.5,1051.6 389.0,1049.8 389.5,1049.4 390.0,1051.7 390.5,1049.1 391.0,1050.2 391.5,1051.9 392.0,1049.1 392.5,1048.5 393.0,1049.3 393.5,1050.0 394.0,1049.5 394.5,1048.9 395.0,1049.6 395.5,1046.2 396.0,1047.5 396.5,1049.1 397.0,1047.0 397.5,1046.7 398.0,1046.9 398.5,1047.1 399.0,1048.1 399.5,1046.6 400.0,1048.7 400.5,1051.4 401.0,1049.2 401.5,1051.5 402.0,1050.3 402.5,1048.3 403.0,1049.6 403.5,1048.5 404.0,1051.2 404.5,1048.4 405.0,1052.2 405.5,1050.9 406.0,1047.4 406.5,1052.1 407.0,1053.2 407.5,1049.7 408.0,1052.3 408.5,1048.0 409.0,1050.6 409.5,1047.4 410.0,1050.8 410.5,1047.4 411.0,1046.1 411.5,1050.8 412.0,1053.7 412.5,1049.8 413.0,1051.9 413.5,1050.6 414.0,1049.9 414.5,1051.0 415.0,1052.2 415.5,1047.8 416.0,1050.8 416.5,1050.9 417.0,1048.0 417.5,1052.6 418.0,1053.3 418.5,1048.7 419.0,1052.9 419.5,1050.1 420.0,1049.8 420.5,1052.3 421.0,1050.3 421.5,1050.6 422.0,1052.3 422.5,1051.8 423.0,1051.1 423.5,1047.5 424.0,1047.3 424.5,1051.0 425.0,1047.7 425.5,1049.4 426.0,1047.5 426.5,1048.7 427.0,1046.9 427.5,1051.3 428.0,1047.7 428.5,1048.8 429.0,1049.2 429.5,1051.4 430.0,1047.7 430.5,1049.9 431.0,1049.6 431.5,1050.9 432.0,1051.1 432.5,1049.8 433.0,1050.5 433.5,1049.7 434.0,1051.0 434.5,1050.2 435.0,1049.0 435.5,1050.0 436.0,1050.4 436.5,1053.1 437.0,1048.8 437.5,1050.0 438.0,1051.9 438.5,1046.2 439.0,1046.8 439.5,1047.7 440.0,1049.8 440.5,1053.8 441.0,1050.4 441.5,1051.7 442.0,1049.8 442.5,1046.7 443.0,1046.9 443.5,1052.0 444.0,1050.7 444.5,1048.6 445.0,1052.2 445.5,1048.6 446.0,1052.2 446.5,1052.6 447.0,1049.1 447.5,1048.4 448.0,1051.8 448.5,1048.8 449.0,1051.7 449.5,1048.5 450.0,1051.5 450.5,1050.6 451.0,1049.9 451.5,1049.0 452.0,1050.5 452.5,1047.5 453.0,1050.3 453.5,1049.9 454.0,1051.5 454.5,1048.5 455.0,1052.5 455.5,1049.3 456.0,1048.2 456.5,1051.9 457.0,1052.2 457.5,1049.4 458.0,1048.1 458.5,1049.3 459.0,1048.3 459.5,1048.8 460.0,1051.6 460.5,1049.9 461.0,1049.4 461.5,1049.8 462.0,1049.5 462.5,1050.7 463.0,1050.4 463.5,1048.8 464.0,1049.6 464.5,1053.3 465.0,1050.6 465.5,1049.7 466.0,1053.1 466.5,1050.0 467.0,1048.3 467.5,1051.2 468.0,1048.9 468.5,1049.5 469.0,1050.9 469.5,1050.7 470.0,1049.8 470.5,1050.0 471.0,1050.1 471.5,1052.5 472.0,1049.7 472.5,1050.2 473.0,1054.1 473.5,1050.1 474.0,1053.2 474.5,1053.0 475.0,1051.0 475.5,1049.4 476.0,1051.8 476.5,1051.9 477.0,1052.3 477.5,1050.7 478.0,1052.3 478.5,1052.4 479.0,1048.5 479.5,1051.8 480.0,1049.8 480.5,1048.7 481.0,1048.7 481.5,1051.9 482.0,1050.3 482.5,1045.9 483.0,1049.0 483.5,1048.5 484.0,1048.4 484.5,1048.1 485.0,1046.6 485.5,1050.3 486.0,1047.6 486.5,1048.6 487.0,1048.5 487.5,1048.0 488.0,1050.3 488.5,1049.7 489.0,1048.1 489.5,1047.7 490.0,1048.3 490.5,1050.3 491.0,1049.1 491.5,1049.5 492.0,1048.3 492.5,1048.1 493.0,1048.7 493.5,1045.9 494.0,1051.2 494.5,1048.1 495.0,1048.8 495.5,1051.7 496.0,1050.0 496.5,1049.6 497.0,1048.9 497.5,1047.7 498.0,1050.5 498.5,1052.1 499.0,1049.3 499.5,1052.9 500.0,1049.3 500.5,1049.9 501.0,1051.5 501.5,1050.3 502.0,1051.1 502.5,1049.2 503.0,1048.8 503.5,1047.7 504.0,1048.7 504.5,1048.8 505.0,1047.9 505.5,1050.2 506.0,1048.3 506.5,1046.3 507.0,1052.9 507.5,1047.8 508.0,1047.6 508.5,1051.4 509.0,1051.3 509.5,1047.6 510.0,1046.6 510.5,1047.2 511.0,1050.2 511.5,1048.0 512.0,1047.5 512.5,1048.6 513.0,1050.8 513.5,1047.0 514.0,1048.4 514.5,1046.7 515.0,1051.6 515.5,1051.3 516.0,1050.2 516.5,1048.4 517.0,1050.2 517.5,1046.2 518.0,1049.9 518.5,1047.6 519.0,1047.5 519.5,1048.8 520.0,1049.0 520.5,1050.3 521.0,1050.5 521.5,1050.2 522.0,1048.7 522.5,1051.1 523.0,1049.7 523.5,1051.8 524.0,1048.7 524.5,1046.1 525.0,1049.6 525.5,1053.4 526.0,1051.0 526.5,1049.8 527.0,1051.8 527.5,1051.1 528.0,1051.2 528.5,1049.7 529.0,1050.4 529.5,1050.8 530.0,1049.4 530.5,1048.8 531.0,1050.7 531.5,1051.8 532.0,1051.2 532.5,1050.8 533.0,1050.7 533.5,1054.1 534.0,1050.2 534.5,1051.4 535.0,1052.9 535.5,1049.5 536.0,1049.4 536.5,1050.2 537.0,1051.1 537.5,1048.9 538.0,1048.8 538.5,1048.4 539.0,1046.3 539.5,1050.0 540.0,1048.0 540.5,1045.4 541.0,1047.9 541.5,1045.6 542.0,1046.8 542.5,1048.6 543.0,1047.2 543.5,1050.4 544.0,1046.4 544.5,1049.2 545.0,1049.3 545.5,1050.3 546.0,1049.3 546.5,1048.2 547.0,1047.9 547.5,1047.4 548.0,1048.8 548.5,1045.9 549.0,1047.6 549.5,1046.7 550.0,1047.2 550.5,1046.3 551.0,1049.8 551.5,1044.9 552.0,1046.7 552.5,1046.9 553.0,1047.3 553.5,1046.9 554.0,1046.9 554.5,1048.0 555.0,1044.3 555.5,1046.5 556.0,1044.2 556.5,1046.1 557.0,1043.7 557.5,1043.9 558.0,1045.3 558.5,1047.4 559.0,1046.1 559.5,1045.6 560.0,1047.3 560.5,1043.5 561.0,1041.3 561.5,1043.5 562.0,1043.6 562.5,1045.7 563.0,1046.9 563.5,1041.3 564.0,1047.1 564.5,1045.3 565.0,1043.6 565.5,1042.8 566.0,1045.4 566.5,1040.9 567.0,1039.5 567.5,1040.1 568.0,1037.2 568.5,1040.1 569.0,1038.6 569.5,1038.9 570.0,1038.5 570.5,1035.4 571.0,1039.0 571.5,1034.2 572.0,1036.8 572.5,1031.9 573.0,1034.2 573.5,1031.1 574.0,1031.1 574.5,1028.3 575.0,1024.2 575.5,1023.9 576.0,1023.8 576.5,1022.1 577.0,1015.6 577.5,1011.3 578.0,1009.6 578.5,1007.1 579.0,1002.1 579.5,996.8 580.0,994.3 580.5,988.6 581.0,981.9 581.5,971.7 582.0,965.6 582.5,956.3 583.0,944.6 583.5,938.7 584.0,926.9 584.5,914.6 585.0,906.3 585.5,892.3 586.0,879.1 586.5,866.2 587.0,851.0 587.5,832.8 588.0,819.6 588.5,807.9 589.0,789.6 589.5,777.0 590.0,763.8 590.5,752.8 591.0,739.5 591.5,727.4 592.0,715.0 592.5,708.7 593.0,700.7 593.5,693.9 594.0,694.0 594.5,690.7 595.0,689.4 595.5,696.9 596.0,698.7 596.5,707.6 597.0,712.2 597.5,725.3 598.0,734.5 598.5,746.9 599.0,758.1 599.5,779.9 600.0,789.8 600.5,805.3 601.0,820.9 601.5,833.7 602.0,849.0 602.5,859.4 603.0,876.2 603.5,888.1 604.0,902.5 604.5,914.3 605.0,923.1 605.5,933.5 606.0,945.0 606.5,957.5 607.0,965.3 607.5,973.5 608.0,976.7 608.5,982.4 609.0,992.2 609.5,998.1 610.0,1002.5 610.5,1008.6 611.0,1011.6 611.5,1013.2 612.0,1017.0 612.5,1021.1 613.0,1023.5 613.5,1025.4 614.0,1031.5 614.5,1028.9 615.0,1031.1 615.5,1030.3 616.0,1032.4 616.5,1034.7 617.0,1036.0 617.5,1035.7 618.0,1037.2 618.5,1037.1 619.0,1034.9 619.5,1033.4 620.0,1042.6 620.5,1040.5 621.0,1039.1 621.5,1037.1 622.0,1038.4 622.5,1042.9 623.0,1036.8 623.5,1041.3 624.0,1043.1 624.5,1042.0 625.0,1043.3 625.5,1042.5 626.0,1046.3 626.5,1041.0 627.0,1041.0 627.5,1044.4 628.0,1046.5 628.5,1044.6 629.0,1046.6 629.5,1044.3 630.0,1043.6 630.5,1047.6 631.0,1048.3 631.5,1048.2 632.0,1045.1 632.5,1044.0 633.0,1044.3 633.5,1046.0 634.0,1047.2 634.5,1046.9 635.0,1044.1 635.5,1046.2 636.0,1046.0 636.5,1046.4 637.0,1046.0 637.5,1046.0 638.0,1047.2 638.5,1046.5 639.0,1047.0 639.5,1045.3 640.0,1047.2 640.5,1046.4 641.0,1043.3 641.5,1047.4 642.0,1046.5 642.5,1048.6 643.0,1046.9 643.5,1047.4 644.0,1048.0 644.5,1047.9 645.0,1047.8 645.5,1045.9 646.0,1051.7 646.5,1046.7 647.0,1048.3 647.5,1049.9 648.0,1049.8 648.5,1049.8 649.0,1050.0 649.5,1050.9 650.0,1049.5 650.5,1053.2 651.0,1047.1 651.5,1048.9 652.0,1047.5 652.5,1047.3 653.0,1048.6 653.5,1050.4 654.0,1047.6 654.5,1047.9 655.0,1050.0 655.5,1050.4 656.0,1052.6 656.5,1050.9 657.0,1049.8 657.5,1048.7 658.0,1049.8 658.5,1049.5 659.0,1048.0 659.5,1050.1 660.0,1049.7 660.5,1049.7 661.0,1049.3 661.5,1052.4 662.0,1050.8 662.5,1051.0 663.0,1048.7 663.5,1048.3 664.0,1049.5 664.5,1050.4 665.0,1049.4 665.5,1049.6 666.0,1051.3 666.5,1050.3 667.0,1048.5 667.5,1049.3 668.0,1049.2 668.5,1050.4 669.0,1048.5 669.5,1050.2 670.0,1051.5 670.5,1050.5 671.0,1048.8 671.5,1049.5 672.0,1050.8 672.5,1051.3 673.0,1051.9 673.5,1050.5 674.0,1048.7 674.5,1052.9 675.0,1050.8 675.5,1051.3 676.0,1050.9 676.5,1048.5 677.0,1049.1 677.5,1049.9 678.0,1051.4 678.5,1049.8 679.0,1045.3 679.5,1049.3 680.0,1050.2 680.5,1051.4 681.0,1050.4 681.5,1052.9 682.0,1051.0 682.5,1050.6 683.0,1050.6 683.5,1047.1 684.0,1051.0 684.5,1050.5 685.0,1048.7 685.5,1050.5 686.0,1049.8 686.5,1048.6 687.0,1049.1 687.5,1049.0 688.0,1050.0 688.5,1049.3 689.0,1050.7 689.5,1046.9 690.0,1049.0 690.5,1046.9 691.0,1048.7 691.5,1050.6 692.0,1049.7 692.5,1049.8 693.0,1050.1 693.5,1052.2 694.0,1048.3 694.5,1051.4 695.0,1047.7 695.5,1048.8 696.0,1049.9 696.5,1048.7 697.0,1050.3 697.5,1051.2 698.0,1048.4 698.5,1050.2 699.0,1050.0 699.5,1047.3 700.0,1050.2 700.5,1049.6 701.0,1052.8 701.5,1049.4 702.0,1053.0 702.5,1049.5 703.0,1053.3 703.5,1051.1 704.0,1051.0 704.5,1051.5 705.0,1051.2 705.5,1051.5 706.0,1051.8 706.5,1048.8 707.0,1047.1 707.5,1044.8 708.0,1047.9 708.5,1049.6 709.0,1049.1 709.5,1049.2 710.0,1048.6 710.5,1048.2 711.0,1048.8 711.5,1049.7 712.0,1046.8 712.5,1051.1 713.0,1047.9 713.5,1049.9 714.0,1049.3 714.5,1049.7 715.0,1049.0 715.5,1048.9 716.0,1050.6 716.5,1049.4 717.0,1055.0 717.5,1050.6 718.0,1050.1 718.5,1050.0 719.0,1049.0 719.5,1046.4 720.0,1049.8 720.5,1050.6 721.0,1047.6 721.5,1050.0 722.0,1048.3 722.5,1050.3 723.0,1050.8 723.5,1050.8 724.0,1050.4 724.5,1048.9 725.0,1051.4 725.5,1049.6 726.0,1050.7 726.5,1051.6 727.0,1049.8 727.5,1048.2 728.0,1051.3 728.5,1048.7 729.0,1049.1 729.5,1048.3 730.0,1051.2 730.5,1049.5 731.0,1046.1 731.5,1050.3 732.0,1052.3 732.5,1051.8 733.0,1048.3 733.5,1049.3 734.0,1049.9 734.5,1050.5 735.0,1049.1 735.5,1047.3 736.0,1050.0 736.5,1050.1 737.0,1047.0 737.5,1048.8 738.0,1049.9 738.5,1049.5 739.0,1050.3 739.5,1050.7 740.0,1050.6 740.5,1049.4 741.0,1047.6 741.5,1050.7 742.0,1051.9 742.5,1052.3 743.0,1049.2 743.5,1049.1 744.0,1051.5 744.5,1051.2 745.0,1049.5 745.5,1050.2 746.0,1048.1 746.5,1049.9 747.0,1047.5 747.5,1048.4 748.0,1048.1 748.5,1047.4 749.0,1045.0 749.5,1047.2 750.0,1049.1 750.5,1048.3 751.0,1047.8 751.5,1049.2 752.0,1050.0 752.5,1050.2 753.0,1047.8 753.5,1049.4 754.0,1049.1 754.5,1048.6 755.0,1048.0 755.5,1050.2 756.0,1049.3 756.5,1054.1 757.0,1050.6 757.5,1050.6 758.0,1050.2 758.5,1053.5 759.0,1048.8 759.5,1050.0 760.0,1048.7 760.5,1049.6 761.0,1049.9 761.5,1051.5 762.0,1048.2 762.5,1050.0 763.0,1051.8 763.5,1048.4 764.0,1048.9 764.5,1047.9 765.0,1045.4 765.5,1049.1 766.0,1051.0 766.5,1048.4 767.0,1046.5 767.5,1049.6 768.0,1049.1 768.5,1050.3 769.0,1049.9 769.5,1048.5 770.0,1049.4 770.5,1046.4 771.0,1051.0 771.5,1049.5 772.0,1050.8 772.5,1050.6 773.0,1048.7 773.5,1048.9 774.0,1047.6 774.5,1046.0 775.0,1049.3 775.5,1049.8 776.0,1048.1 776.5,1050.9 777.0,1050.0 777.5,1050.6 778.0,1048.6 778.5,1047.2 779.0,1051.4 779.5,1051.5 780.0,1050.6 780.5,1050.3 781.0,1050.7 781.5,1050.7 782.0,1049.9 782.5,1047.3 783.0,1051.3 783.5,1047.7 784.0,1049.5 784.5,1049.0 785.0,1049.5 785.5,1046.8 786.0,1050.6 786.5,1049.9 787.0,1049.7 787.5,1050.5 788.0,1047.2 788.5,1043.8 789.0,1048.9 789.5,1050.8 790.0,1050.8 790.5,1048.5 791.0,1049.0 791.5,1049.9 792.0,1047.1 792.5,1048.6 793.0,1048.9 793.5,1052.2 794.0,1048.9 794.5,1052.4 795.0,1050.5 795.5,1047.9 796.0,1054.1 796.5,1049.5 797.0,1051.6 797.5,1053.4 798.0,1050.3 798.5,1049.4 799.0,1053.0 799.5,1051.5 800.0,1049.5 800.5,1049.4 801.0,1050.5 801.5,1052.1 802.0,1049.9 802.5,1051.3 803.0,1052.7 803.5,1051.5 804.0,1051.7 804.5,1051.0 805.0,1046.5 805.5,1050.7 806.0,1049.1 806.5,1048.8 807.0,1047.3 807.5,1046.6 808.0,1047.4 808.5,1049.3 809.0,1047.9 809.5,1048.5 810.0,1048.6 810.5,1051.2 811.0,1049.6 811.5,1050.2 812.0,1052.6 812.5,1049.9 813.0,1051.1 813.5,1048.3 814.0,1050.1 814.5,1049.7 815.0,1049.9 815.5,1048.8 816.0,1047.7 816.5,1048.7 817.0,1048.4 817.5,1050.1 818.0,1049.8 818.5,1046.6 819.0,1049.5 819.5,1047.8 820.0,1049.6 820.5,1048.5 821.0,1047.2 821.5,1051.0 822.0,1049.9 822.5,1047.1 823.0,1046.4 823.5,1049.1 824.0,1048.2 824.5,1049.3 825.0,1051.3 825.5,1052.4 826.0,1049.7 826.5,1052.7 827.0,1052.2 827.5,1049.5 828.0,1047.9 828.5,1051.7 829.0,1051.6 829.5,1054.4 830.0,1052.9 830.5,1051.4 831.0,1052.5 831.5,1048.6 832.0,1050.1 832.5,1049.0 833.0,1051.7 833.5,1049.8 834.0,1044.3 834.5,1050.9 835.0,1047.5 835.5,1050.2 836.0,1048.2 836.5,1049.0 837.0,1049.6 837.5,1048.9 838.0,1047.4 838.5,1051.0 839.0,1049.6 839.5,1049.1 840.0,1050.6 840.5,1048.6 841.0,1052.3 841.5,1050.0 842.0,1050.2 842.5,1050.3 843.0,1048.4 843.5,1048.4 844.0,1050.6 844.5,1050.9 845.0,1052.4 845.5,1050.9 846.0,1048.6 846.5,1050.9 847.0,1051.1 847.5,1051.3 848.0,1050.3 848.5,1047.4 849.0,1050.9 849.5,1047.9 850.0,1050.1 850.5,1046.3 851.0,1049.6 851.5,1047.2 852.0,1049.9 852.5,1050.9 853.0,1049.9 853.5,1046.3 854.0,1046.5 854.5,1046.6 855.0,1048.6 855.5,1048.2 856.0,1047.9 856.5,1047.8 857.0,1047.7 857.5,1047.8 858.0,1049.1 858.5,1045.8 859.0,1045.7 859.5,1042.2 860.0,1042.4 860.5,1042.9 861.0,1041.7 861.5,1043.2 862.0,1043.9 862.5,1040.9 863.0,1039.9 863.5,1038.8 864.0,1039.0 864.5,1036.7 865.0,1037.6 865.5,1036.8 866.0,1036.0 866.5,1035.6 867.0,1033.8 867.5,1033.0 868.0,1035.0 868.5,1031.5 869.0,1032.5 869.5,1030.8 870.0,1029.3 870.5,1029.0 871.0,1028.2 871.5,1030.0 872.0,1029.0 872.5,1029.3 873.0,1032.2 873.5,1030.6 874.0,1032.7 874.5,1031.4 875.0,1032.6 875.5,1029.9 876.0,1031.4 876.5,1035.4 877.0,1032.9 877.5,1033.1 878.0,1031.6 878.5,1031.7 879.0,1027.4 879.5,1027.0 880.0,1028.0 880.5,1026.9 881.0,1023.3 881.5,1021.9 882.0,1019.5 882.5,1017.9 883.0,1013.4 883.5,1010.0 884.0,1008.8 884.5,1003.0 885.0,1000.7 885.5,997.9 886.0,993.7 886.5,992.4 887.0,987.6 887.5,984.8 888.0,980.1 888.5,977.5 889.0,977.0 889.5,974.2 890.0,971.0 890.5,971.6 891.0,971.1 891.5,970.7 892.0,974.3 892.5,972.4 893.0,976.0 893.5,977.9 894.0,979.5 894.5,981.0 895.0,987.5 895.5,990.5 896.0,993.6 896.5,997.3 897.0,1000.6 897.5,1002.2 898.0,1007.5 898.5,1007.1 899.0,1012.9 899.5,1012.7 900.0,1016.8 900.5,1020.7 901.0,1020.9 901.5,1021.8 902.0,1024.6 902.5,1024.4 903.0,1024.9 903.5,1025.5 904.0,1028.9 904.5,1027.6 905.0,1027.1 905.5,1024.4 906.0,1027.3 906.5,1024.0 907.0,1026.6 907.5,1024.2 908.0,1029.2 908.5,1023.4 909.0,1028.4 909.5,1028.1 910.0,1024.2 910.5,1027.4 911.0,1031.1 911.5,1031.7 912.0,1028.5 912.5,1031.3 913.0,1031.3 913.5,1033.0 914.0,1034.7 914.5,1039.7 915.0,1038.1 915.5,1038.3 916.0,1038.9 916.5,1041.0 917.0,1042.2 917.5,1040.6 918.0,1045.1 918.5,1041.7 919.0,1043.4 919.5,1045.0 920.0,1047.3 920.5,1044.5 921.0,1046.2 921.5,1048.2 922.0,1047.5 922.5,1048.7 923.0,1048.8 923.5,1048.2 924.0,1048.9 924.5,1049.4 925.0,1048.1 925.5,1050.5 926.0,1045.0 926.5,1047.0 927.0,1050.8 927.5,1049.3 928.0,1047.7 928.5,1048.9 929.0,1050.0 929.5,1047.4 930.0,1049.7 930.5,1048.0 931.0,1048.1 931.5,1048.3 932.0,1050.2 932.5,1046.6 933.0,1047.5 933.5,1049.0 934.0,1046.5 934.5,1045.8 935.0,1049.2 935.5,1048.5 936.0,1048.4 936.5,1049.2 937.0,1047.4 937.5,1053.7 938.0,1048.0 938.5,1048.6 939.0,1047.4 939.5,1049.0 940.0,1052.5 940.5,1050.1 941.0,1051.1 941.5,1049.6 942.0,1052.9 942.5,1050.7 943.0,1048.4 943.5,1051.4 944.0,1049.7 944.5,1051.3 945.0,1050.3 945.5,1050.6 946.0,1050.2 946.5,1048.6 947.0,1047.2 947.5,1051.3 948.0,1049.3 948.5,1049.7 949.0,1048.7 949.5,1046.2 950.0,1047.4 950.5,1051.7 951.0,1048.5 951.5,1048.8 952.0,1047.4 952.5,1048.8 953.0,1048.9 953.5,1049.4 954.0,1050.1 954.5,1049.1 955.0,1049.0 955.5,1049.9 956.0,1050.6 956.5,1049.6 957.0,1052.4 957.5,1049.6 958.0,1049.7 958.5,1048.4 959.0,1050.9 959.5,1047.8 960.0,1047.0 960.5,1047.6 961.0,1049.8 961.5,1046.9 962.0,1050.8 962.5,1049.1 963.0,1046.9 963.5,1048.5 964.0,1051.9 964.5,1048.0 965.0,1047.1 965.5,1049.9 966.0,1050.8 966.5,1050.5 967.0,1048.4 967.5,1049.5 968.0,1049.7 968.5,1051.2 969.0,1052.7 969.5,1049.5 970.0,1051.5 970.5,1049.3 971.0,1050.7 971.5,1048.3 972.0,1048.6 972.5,1050.4 973.0,1048.5 973.5,1051.0 974.0,1048.9 974.5,1049.6 975.0,1049.5 975.5,1048.7 976.0,1049.6 976.5,1050.7 977.0,1054.0 977.5,1047.4 978.0,1049.7 978.5,1049.0 979.0,1048.2 979.5,1050.2 980.0,1048.2 980.5,1049.7 981.0,1051.5 981.5,1046.9 982.0,1050.3 982.5,1050.6 983.0,1048.4 983.5,1050.6 984.0,1050.0 984.5,1049.0 985.0,1051.4 985.5,1047.4 986.0,1050.1 986.5,1048.9 987.0,1047.8 987.5,1049.0 988.0,1049.0 988.5,1050.7 989.0,1047.4 989.5,1049.2 990.0,1048.6 990.5,1051.8 991.0,1047.8 991.5,1051.5 992.0,1047.2 992.5,1050.4 993.0,1049.9 993.5,1050.7 994.0,1049.1 994.5,1047.2 995.0,1047.6 995.5,1051.7 996.0,1049.9 996.5,1048.8 997.0,1051.5 997.5,1048.9 998.0,1049.4 998.5,1048.3 999.0,1051.5 999.5,1053.0 1000.0,1048.5 1000.5,1049.9 1001.0,1051.3 1001.5,1052.8 1002.0,1045.9 1002.5,1049.9 1003.0,1050.7 1003.5,1047.8 1004.0,1050.4 1004.5,1049.8 1005.0,1050.2 1005.5,1048.3 1006.0,1050.1 1006.5,1048.4 1007.0,1049.9 1007.5,1049.4 1008.0,1048.4 1008.5,1047.1 1009.0,1051.8 1009.5,1051.0 1010.0,1050.6 1010.5,1047.9 1011.0,1048.5 1011.5,1051.8 1012.0,1050.9 1012.5,1048.6 1013.0,1049.8 1013.5,1050.0 1014.0,1049.7 1014.5,1048.8 1015.0,1051.7 1015.5,1050.4 1016.0,1049.4 1016.5,1047.3 1017.0,1048.8 1017.5,1049.8 1018.0,1051.0 1018.5,1049.2 1019.0,1050.8 1019.5,1049.1 1020.0,1048.0 1020.5,1044.8 1021.0,1047.3 1021.5,1046.7 1022.0,1048.9 1022.5,1049.9 1023.0,1051.7 1023.5,1049.5 1024.0,1047.9 1024.5,1053.2 1025.0,1050.2 1025.5,1049.0 1026.0,1049.2 1026.5,1047.4 1027.0,1050.4 1027.5,1050.1 1028.0,1052.1 1028.5,1051.3 1029.0,1051.4 1029.5,1051.8 1030.0,1049.4 1030.5,1049.2 1031.0,1049.8 1031.5,1047.8 1032.0,1049.8 1032.5,1049.7 1033.0,1051.3 1033.5,1050.8 1034.0,1047.8 1034.5,1050.5 1035.0,1052.4 1035.5,1047.5 1036.0,1048.9 1036.5,1050.3 1037.0,1048.4 1037.5,1049.7 1038.0,1050.6 1038.5,1048.5 1039.0,1050.6 1039.5,1051.0 1040.0,1048.4 1040.5,1050.2 1041.0,1051.8 1041.5,1050.1 1042.0,1050.7 1042.5,1051.0 1043.0,1049.7 1043.5,1051.3 1044.0,1050.0 1044.5,1047.7 1045.0,1050.0 1045.5,1050.8 1046.0,1051.1 1046.5,1048.9 1047.0,1050.5 1047.5,1051.7 1048.0,1049.9 1048.5,1051.1 1049.0,1051.7 1049.5,1049.9 1050.0,1051.1 1050.5,1049.8 1051.0,1052.0 1051.5,1050.4 1052.0,1049.6 1052.5,1049.8 1053.0,1049.6 1053.5,1050.2 1054.0,1050.0 1054.5,1047.7 1055.0,1048.2 1055.5,1049.8 1056.0,1050.2 1056.5,1049.3 1057.0,1053.2 1057.5,1050.8 1058.0,1048.9 1058.5,1049.7 1059.0,1050.7 1059.5,1049.7 1060.0,1046.3 1060.5,1048.9 1061.0,1049.3 1061.5,1052.4 1062.0,1046.9 1062.5,1051.8 1063.0,1048.8 1063.5,1050.7 1064.0,1048.4 1064.5,1048.9 1065.0,1050.2 1065.5,1048.8 1066.0,1049.9 1066.5,1048.0 1067.0,1047.9 1067.5,1048.5 1068.0,1047.8 1068.5,1048.7 1069.0,1051.0 1069.5,1047.4 1070.0,1046.9 1070.5,1049.5 1071.0,1052.5 1071.5,1051.9 1072.0,1052.5 1072.5,1052.6 1073.0,1049.9 1073.5,1051.2 1074.0,1046.9 1074.5,1050.1 1075.0,1051.8 1075.5,1048.2 1076.0,1047.1 1076.5,1048.5 1077.0,1050.8 1077.5,1052.2 1078.0,1054.1 1078.5,1052.2 1079.0,1047.8 1079.5,1046.5 1080.0,1050.2 1080.5,1051.6 1081.0,1047.5 1081.5,1048.8 1082.0,1049.2 1082.5,1049.7 1083.0,1049.5 1083.5,1050.1 1084.0,1050.7 1084.5,1048.9 1085.0,1050.0 1085.5,1052.1 1086.0,1047.1 1086.5,1046.9 1087.0,1049.3 1087.5,1051.5 1088.0,1049.0 1088.5,1050.4 1089.0,1048.2 1089.5,1050.2 1090.0,1047.9 1090.5,1050.2 1091.0,1049.8 1091.5,1049.8 1092.0,1050.9 1092.5,1050.0 1093.0,1047.5 1093.5,1049.7 1094.0,1045.7 1094.5,1049.3 1095.0,1051.8 1095.5,1048.3 1096.0,1048.3 1096.5,1047.7 1097.0,1049.0 1097.5,1046.7 1098.0,1048.3 1098.5,1047.0 1099.0,1046.8 1099.5,1047.7 1100.0,1047.1 1100.5,1044.8 1101.0,1050.7 1101.5,1047.7 1102.0,1044.5 1102.5,1048.7 1103.0,1046.8 1103.5,1047.2 1104.0,1048.0 1104.5,1045.5 1105.0,1042.3 1105.5,1046.4 1106.0,1046.8 1106.5,1047.7 1107.0,1044.9 1107.5,1045.3 1108.0,1045.8 1108.5,1044.3 1109.0,1044.7 1109.5,1045.2 1110.0,1043.1 1110.5,1046.8 1111.0,1042.3 1111.5,1043.6 1112.0,1042.8 1112.5,1041.7 1113.0,1043.3 1113.5,1043.9 1114.0,1044.3 1114.5,1042.5 1115.0,1040.5 1115.5,1042.4 1116.0,1037.8 1116.5,1039.5 1117.0,1039.4 1117.5,1038.2 1118.0,1034.4 1118.5,1032.8 1119.0,1036.7 1119.5,1032.1 1120.0,1028.7 1120.5,1027.5 1121.0,1027.6 1121.5,1027.4 1122.0,1023.1 1122.5,1022.4 1123.0,1018.3 1123.5,1016.0 1124.0,1013.5 1124.5,1008.0 1125.0,1006.2 1125.5,1001.0 1126.0,996.9 1126.5,994.7 1127.0,987.8 1127.5,985.5 1128.0,979.5 1128.5,976.3 1129.0,971.4 1129.5,970.1 1130.0,964.3 1130.5,960.8 1131.0,960.8 1131.5,950.4 1132.0,951.2 1132.5,947.5 1133.0,952.0 1133.5,953.4 1134.0,954.7 1134.5,955.4 1135.0,956.3 1135.5,964.1 1136.0,964.9 1136.5,967.7 1137.0,970.6 1137.5,977.5 1138.0,980.0 1138.5,984.2 1139.0,989.3 1139.5,993.8 1140.0,995.8 1140.5,1003.3 1141.0,1003.4 1141.5,1007.1 1142.0,1012.4 1142.5,1015.0 1143.0,1017.8 1143.5,1019.8 1144.0,1023.1 1144.5,1024.3 1145.0,1024.5 1145.5,1030.4 1146.0,1029.3 1146.5,1031.5 1147.0,1034.5 1147.5,1034.7 1148.0,1040.1 1148.5,1034.5 1149.0,1036.7 1149.5,1039.2 1150.0,1042.0 1150.5,1040.1 1151.0,1038.5 1151.5,1043.2 1152.0,1040.5 1152.5,1042.2 1153.0,1044.4 1153.5,1042.4 1154.0,1043.2 1154.5,1045.2 1155.0,1044.5 1155.5,1045.1 1156.0,1043.5 1156.5,1045.2 1157.0,1043.9 1157.5,1043.7 1158.0,1048.7 1158.5,1047.0 1159.0,1048.2 1159.5,1045.5 1160.0,1047.1 1160.5,1047.2 1161.0,1045.5 1161.5,1048.7 1162.0,1046.8 1162.5,1047.9 1163.0,1046.2 1163.5,1050.0 1164.0,1049.8 1164.5,1048.8 1165.0,1047.2 1165.5,1047.4 1166.0,1050.1 1166.5,1047.7 1167.0,1048.5 1167.5,1048.2 1168.0,1046.4 1168.5,1050.3 1169.0,1044.8 1169.5,1048.2 1170.0,1047.7 1170.5,1045.2 1171.0,1048.2 1171.5,1048.9 1172.0,1048.1 1172.5,1047.0 1173.0,1049.0 1173.5,1050.3 1174.0,1049.3 1174.5,1051.4 1175.0,1049.6 1175.5,1049.4 1176.0,1050.3 1176.5,1047.3 1177.0,1047.6 1177.5,1049.0 1178.0,1049.1 1178.5,1050.5 1179.0,1049.9 1179.5,1048.6 1180.0,1048.7 1180.5,1047.8 1181.0,1048.1 1181.5,1048.3 1182.0,1050.5 1182.5,1048.3 1183.0,1048.6 1183.5,1049.5 1184.0,1048.5 1184.5,1049.4 1185.0,1046.5 1185.5,1050.7 1186.0,1049.9 1186.5,1050.8 1187.0,1050.9 1187.5,1047.3 1188.0,1053.2 1188.5,1049.6 1189.0,1049.9 1189.5,1046.9 1190.0,1050.7 1190.5,1050.6 1191.0,1049.4 1191.5,1050.0 1192.0,1051.3 1192.5,1048.6 1193.0,1047.8 1193.5,1051.0 1194.0,1049.7 1194.5,1049.1 1195.0,1052.9 1195.5,1050.0 1196.0,1049.4 1196.5,1050.6 1197.0,1049.6 1197.5,1050.2 1198.0,1050.0 1198.5,1049.0 1199.0,1049.9 1199.5,1050.8 1200.0,1050.9 1200.5,1051.3 1201.0,1051.8 1201.5,1050.9 1202.0,1051.7 1202.5,1050.4 1203.0,1050.6 1203.5,1052.7 1204.0,1048.5 1204.5,1052.1 1205.0,1056.4 1205.5,1048.9 1206.0,1053.8 1206.5,1049.0 1207.0,1051.8 1207.5,1053.6 1208.0,1053.1 1208.5,1049.7 1209.0,1049.0 1209.5,1048.9 1210.0,1052.5 1210.5,1050.5 1211.0,1051.2 1211.5,1051.5 1212.0,1051.9 1212.5,1051.9 1213.0,1051.3 1213.5,1048.9 1214.0,1053.7 1214.5,1047.3 1215.0,1053.4 1215.5,1050.2 1216.0,1050.6 1216.5,1049.6 1217.0,1049.6 1217.5,1050.2 1218.0,1049.5 1218.5,1047.9 1219.0,1050.7 1219.5,1049.0 1220.0,1051.7 1220.5,1049.1 1221.0,1048.1 1221.5,1050.0 1222.0,1050.5 1222.5,1047.8 1223.0,1048.8 1223.5,1051.5 1224.0,1047.5 1224.5,1047.6 1225.0,1049.0 1225.5,1047.0 1226.0,1045.3 1226.5,1046.2 1227.0,1049.9 1227.5,1050.5 1228.0,1050.5 1228.5,1050.0 1229.0,1048.2 1229.5,1051.2 1230.0,1052.0 1230.5,1049.2 1231.0,1051.8 1231.5,1049.8 1232.0,1050.6 1232.5,1050.9 1233.0,1047.9 1233.5,1052.5 1234.0,1048.7 1234.5,1049.8 1235.0,1049.2 1235.5,1050.2 1236.0,1049.6 1236.5,1048.7 1237.0,1050.9 1237.5,1049.3 1238.0,1048.4 1238.5,1044.2 1239.0,1048.2 1239.5,1048.2 1240.0,1047.2 1240.5,1046.9 1241.0,1048.6 1241.5,1049.0 1242.0,1050.2 1242.5,1049.0 1243.0,1046.0 1243.5,1047.4 1244.0,1044.9 1244.5,1047.7 1245.0,1046.8 1245.5,1045.4 1246.0,1046.1 1246.5,1045.9 1247.0,1044.9 1247.5,1047.4 1248.0,1050.8 1248.5,1047.4 1249.0,1047.6 1249.5,1046.8 1250.0,1045.6 1250.5,1049.3 1251.0,1044.8 1251.5,1045.9 1252.0,1044.8 1252.5,1045.8 1253.0,1044.4 1253.5,1045.1 1254.0,1042.1 1254.5,1043.6 1255.0,1045.0 1255.5,1040.4 1256.0,1040.4 1256.5,1042.6 1257.0,1041.0 1257.5,1041.4 1258.0,1035.1 1258.5,1037.9 1259.0,1034.5 1259.5,1033.3 1260.0,1035.2 1260.5,1035.2 1261.0,1029.2 1261.5,1028.3 1262.0,1027.4 1262.5,1026.2 1263.0,1022.1 1263.5,1025.7 1264.0,1020.1 1264.5,1015.8 1265.0,1012.9 1265.5,1015.2 1266.0,1012.3 1266.5,1004.5 1267.0,1003.0 1267.5,1001.5 1268.0,994.5 1268.5,993.0 1269.0,994.2 1269.5,989.2 1270.0,988.3 1270.5,986.1 1271.0,986.1 1271.5,988.9 1272.0,987.1 1272.5,986.7 1273.0,989.5 1273.5,995.7 1274.0,995.1 1274.5,995.8 1275.0,999.7 1275.5,1002.9 1276.0,1004.7 1276.5,1003.9 1277.0,1010.0 1277.5,1011.5 1278.0,1016.0 1278.5,1014.9 1279.0,1021.1 1279.5,1020.7 1280.0,1020.4 1280.5,1026.9 1281.0,1025.0 1281.5,1028.2 1282.0,1027.9 1282.5,1030.4 1283.0,1031.4 1283.5,1031.9 1284.0,1031.5 1284.5,1027.6 1285.0,1027.4 1285.5,1029.6 1286.0,1027.2 1286.5,1028.7 1287.0,1027.5 1287.5,1024.1 1288.0,1023.7 1288.5,1022.1 1289.0,1021.4 1289.5,1021.0 1290.0,1020.6 1290.5,1019.8 1291.0,1013.7 1291.5,1012.2 1292.0,1013.6 1292.5,1010.5 1293.0,1007.1 1293.5,1000.5 1294.0,1000.1 1294.5,999.9 1295.0,996.7 1295.5,999.4 1296.0,994.3 1296.5,993.9 1297.0,990.6 1297.5,990.6 1298.0,991.2 1298.5,991.6 1299.0,993.5 1299.5,995.9 1300.0,997.7 1300.5,1001.2 1301.0,999.9 1301.5,1004.9 1302.0,1007.3 1302.5,1012.2 1303.0,1012.0 1303.5,1015.2 1304.0,1015.3 1304.5,1020.2 1305.0,1022.8 1305.5,1023.5 1306.0,1025.4 1306.5,1027.9 1307.0,1030.5 1307.5,1029.3 1308.0,1034.1 1308.5,1033.4 1309.0,1038.5 1309.5,1039.0 1310.0,1036.9 1310.5,1037.6 1311.0,1043.5 1311.5,1040.6 1312.0,1040.9 1312.5,1040.1 1313.0,1041.4 1313.5,1043.9 1314.0,1044.1 1314.5,1042.2 1315.0,1045.9 1315.5,1044.9 1316.0,1042.9 1316.5,1046.4 1317.0,1044.8 1317.5,1046.3 1318.0,1044.6 1318.5,1046.2 1319.0,1043.7 1319.5,1047.1 1320.0,1044.6 1320.5,1047.5 1321.0,1043.3 1321.5,1046.8 1322.0,1048.0 1322.5,1047.8 1323.0,1048.7 1323.5,1044.9 1324.0,1049.3 1324.5,1049.6 1325.0,1045.4 1325.5,1046.2 1326.0,1046.7 1326.5,1047.8 1327.0,1047.8 1327.5,1043.2 1328.0,1048.2 1328.5,1047.4 1329.0,1046.5 1329.5,1049.7 1330.0,1048.4 1330.5,1051.0 1331.0,1050.3 1331.5,1049.3 1332.0,1051.6 1332.5,1051.2 1333.0,1049.3 1333.5,1047.5 1334.0,1049.5 1334.5,1051.7 1335.0,1050.7 1335.5,1054.1 1336.0,1051.6 1336.5,1051.5 1337.0,1051.8 1337.5,1049.8 1338.0,1050.7 1338.5,1049.6 1339.0,1047.0 1339.5,1047.9 1340.0,1051.4 1340.5,1049.6 1341.0,1050.1 1341.5,1047.7 1342.0,1048.7 1342.5,1050.5 1343.0,1049.8 1343.5,1048.8 1344.0,1051.8 1344.5,1049.0 1345.0,1048.6 1345.5,1051.0 1346.0,1046.7 1346.5,1050.3 1347.0,1047.6 1347.5,1047.7 1348.0,1047.8 1348.5,1049.2 1349.0,1049.4 1349.5,1049.7 1350.0,1049.4 1350.5,1051.4 1351.0,1051.6 1351.5,1050.5 1352.0,1050.5 1352.5,1049.0 1353.0,1047.8 1353.5,1050.3 1354.0,1049.3 1354.5,1050.7 1355.0,1046.7 1355.5,1053.4 1356.0,1047.5 1356.5,1049.5 1357.0,1050.8 1357.5,1047.3 1358.0,1048.7 1358.5,1046.6 1359.0,1047.2 1359.5,1046.6 1360.0,1049.9 1360.5,1050.3 1361.0,1049.8 1361.5,1052.0 1362.0,1052.2 1362.5,1050.4 1363.0,1049.9 1363.5,1049.7 1364.0,1049.4 1364.5,1051.8 1365.0,1050.4 1365.5,1049.3 1366.0,1049.9 1366.5,1050.7 1367.0,1049.3 1367.5,1050.7 1368.0,1050.1 1368.5,1052.2 1369.0,1052.2 1369.5,1047.9 1370.0,1049.8 1370.5,1051.2 1371.0,1049.9 1371.5,1051.7 1372.0,1050.6 1372.5,1050.7 1373.0,1049.8 1373.5,1050.4 1374.0,1050.5 1374.5,1047.2 1375.0,1047.8 1375.5,1047.5 1376.0,1051.1 1376.5,1049.2 1377.0,1049.2 1377.5,1048.7 1378.0,1047.7 1378.5,1047.1 1379.0,1049.9 1379.5,1048.4 1380.0,1051.6 1380.5,1049.7 1381.0,1049.4 1381.5,1049.1 1382.0,1049.7 1382.5,1050.3 1383.0,1052.8 1383.5,1054.0 1384.0,1049.0 1384.5,1051.3 1385.0,1051.6 1385.5,1049.5 1386.0,1049.7 1386.5,1049.8 1387.0,1046.6 1387.5,1051.4 1388.0,1050.6 1388.5,1050.5 1389.0,1050.6 1389.5,1050.8 1390.0,1053.6 1390.5,1050.6 1391.0,1051.4 1391.5,1049.4 1392.0,1050.8 1392.5,1049.8 1393.0,1050.2 1393.5,1049.3 1394.0,1049.5 1394.5,1051.0 1395.0,1051.5 1395.5,1051.0 1396.0,1049.6 1396.5,1051.0 1397.0,1047.1 1397.5,1052.3 1398.0,1050.8 1398.5,1051.1 1399.0,1052.5 1399.5,1050.1 1400.0,1052.1 1400.5,1050.0 1401.0,1051.4 1401.5,1049.8 1402.0,1050.5 1402.5,1052.4 1403.0,1049.0 1403.5,1049.4 1404.0,1049.9 1404.5,1051.0 1405.0,1054.8 1405.5,1050.0 1406.0,1047.7 1406.5,1049.6 1407.0,1047.8 1407.5,1049.4 1408.0,1050.3 1408.5,1049.0 1409.0,1049.6 1409.5,1047.9 1410.0,1051.1 1410.5,1049.5 1411.0,1051.9 1411.5,1051.8 1412.0,1048.9 1412.5,1049.9 1413.0,1050.4 1413.5,1051.6 1414.0,1048.2 1414.5,1050.4 1415.0,1053.7 1415.5,1050.6 1416.0,1051.0 1416.5,1050.4 1417.0,1048.6 1417.5,1051.7 1418.0,1050.5 1418.5,1050.2 1419.0,1051.1 1419.5,1050.8 1420.0,1046.9 1420.5,1050.3 1421.0,1048.6 1421.5,1049.8 1422.0,1047.9 1422.5,1047.7 1423.0,1050.3 1423.5,1048.8 1424.0,1048.4 1424.5,1048.4 1425.0,1049.5 1425.5,1049.3 1426.0,1045.6 1426.5,1047.7 1427.0,1048.6 1427.5,1050.0 1428.0,1051.2 1428.5,1047.5 1429.0,1051.8 1429.5,1048.9 1430.0,1049.4 1430.5,1047.9 1431.0,1047.5 1431.5,1050.5 1432.0,1047.8 1432.5,1047.6 1433.0,1049.5 1433.5,1050.5 1434.0,1045.7 1434.5,1047.9 1435.0,1047.9 1435.5,1051.0 1436.0,1052.4 1436.5,1049.0 1437.0,1050.3 1437.5,1051.0 1438.0,1051.7 1438.5,1049.5 1439.0,1051.0 1439.5,1049.1 1440.0,1046.3 1440.5,1047.8 1441.0,1050.2 1441.5,1050.9 1442.0,1046.5 1442.5,1047.0 1443.0,1049.6 1443.5,1044.2 1444.0,1049.8 1444.5,1050.8 1445.0,1044.1 1445.5,1049.6 1446.0,1048.0 1446.5,1050.4 1447.0,1048.2 1447.5,1047.8 1448.0,1048.1 1448.5,1049.5 1449.0,1048.0 1449.5,1047.7 1450.0,1045.1 1450.5,1047.5 1451.0,1046.4 1451.5,1048.6 1452.0,1045.5 1452.5,1044.9 1453.0,1043.7 1453.5,1045.3 1454.0,1043.4 1454.5,1041.9 1455.0,1044.7 1455.5,1044.4 1456.0,1039.7 1456.5,1037.9 1457.0,1040.9 1457.5,1037.2 1458.0,1042.8 1458.5,1037.2 1459.0,1038.5 1459.5,1034.2 1460.0,1035.6 1460.5,1036.7 1461.0,1035.0 1461.5,1032.3 1462.0,1036.5 1462.5,1032.4 1463.0,1030.3 1463.5,1028.8 1464.0,1028.3 1464.5,1030.2 1465.0,1025.9 1465.5,1026.8 1466.0,1024.5 1466.5,1027.2 1467.0,1024.4 1467.5,1025.3 1468.0,1024.0 1468.5,1021.5 1469.0,1023.3 1469.5,1023.5 1470.0,1019.3 1470.5,1021.6 1471.0,1025.5 1471.5,1018.3 1472.0,1018.8 1472.5,1014.0 1473.0,1016.1 1473.5,1013.5 1474.0,1014.8 1474.5,1012.7 1475.0,1009.7 1475.5,1012.8 1476.0,1009.4 1476.5,1007.0 1477.0,1008.2 1477.5,1005.6 1478.0,1007.2 1478.5,1005.7 1479.0,1005.0 1479.5,1006.8 1480.0,1003.4 1480.5,1007.6 1481.0,1003.1 1481.5,1009.7 1482.0,1008.3 1482.5,1008.9 1483.0,1009.4 1483.5,1013.1 1484.0,1013.2 1484.5,1015.1 1485.0,1019.1 1485.5,1018.8 1486.0,1021.0 1486.5,1023.7 1487.0,1026.4 1487.5,1025.8 1488.0,1027.8 1488.5,1029.5 1489.0,1032.4 1489.5,1035.0 1490.0,1032.4 1490.5,1034.8 1491.0,1036.2 1491.5,1038.5 1492.0,1040.7 1492.5,1039.0 1493.0,1040.1 1493.5,1042.9 1494.0,1039.9 1494.5,1041.6 1495.0,1042.4 1495.5,1043.7 1496.0,1044.3 1496.5,1043.4 1497.0,1047.3 1497.5,1043.7 1498.0,1044.9 1498.5,1047.0 1499.0,1047.1 1499.5,1046.0 1500.0,1046.8 1500.5,1047.6 1501.0,1046.4 1501.5,1047.2 1502.0,1045.1 1502.5,1046.4 1503.0,1043.7 1503.5,1045.0 1504.0,1045.0 1504.5,1048.9 1505.0,1046.3 1505.5,1047.8 1506.0,1045.8 1506.5,1047.5 1507.0,1047.3 1507.5,1046.3 1508.0,1049.2 1508.5,1045.8 1509.0,1049.3 1509.5,1052.8 1510.0,1047.9 1510.5,1049.3 1511.0,1046.9 1511.5,1049.4 1512.0,1046.8 1512.5,1050.5 1513.0,1048.4 1513.5,1046.2 1514.0,1047.0 1514.5,1046.5 1515.0,1048.6 1515.5,1050.2 1516.0,1048.2 1516.5,1047.2 1517.0,1047.8 1517.5,1049.5 1518.0,1045.5 1518.5,1050.1 1519.0,1049.8 1519.5,1045.5 1520.0,1051.6 1520.5,1047.3 1521.0,1049.9 1521.5,1052.4 1522.0,1047.9 1522.5,1047.5 1523.0,1048.6 1523.5,1048.5 1524.0,1049.5 1524.5,1048.8 1525.0,1048.6 1525.5,1048.8 1526.0,1049.5 1526.5,1048.3 1527.0,1049.6 1527.5,1048.8 1528.0,1047.1 1528.5,1051.4 1529.0,1046.7 1529.5,1050.0 1530.0,1047.9 1530.5,1049.7 1531.0,1050.1 1531.5,1050.6 1532.0,1051.7 1532.5,1048.2 1533.0,1053.9 1533.5,1050.1 1534.0,1048.8 1534.5,1047.6 1535.0,1053.4 1535.5,1052.3 1536.0,1049.9 1536.5,1050.8 1537.0,1051.6 1537.5,1049.8 1538.0,1048.9 1538.5,1049.6 1539.0,1050.9 1539.5,1049.7 1540.0,1047.8 1540.5,1050.8 1541.0,1046.6 1541.5,1048.6 1542.0,1051.6 1542.5,1050.0 1543.0,1049.8 1543.5,1049.6 1544.0,1051.4 1544.5,1049.7 1545.0,1046.5 1545.5,1049.7 1546.0,1044.6 1546.5,1046.1 1547.0,1051.6 1547.5,1050.7 1548.0,1048.6 1548.5,1049.1 1549.0,1049.6 1549.5,1050.9 1550.0,1048.1 1550.5,1047.8 1551.0,1048.2 1551.5,1049.2 1552.0,1049.6 1552.5,1048.6 1553.0,1050.5 1553.5,1047.8 1554.0,1049.1 1554.5,1048.3 1555.0,1048.2 1555.5,1052.0 1556.0,1049.5 1556.5,1048.5 1557.0,1050.0 1557.5,1048.7 1558.0,1051.1 1558.5,1051.6 1559.0,1052.2 1559.5,1049.2 1560.0,1050.6 1560.5,1053.2 1561.0,1050.1 1561.5,1052.5 1562.0,1052.5 1562.5,1047.3 1563.0,1051.3 1563.5,1050.7 1564.0,1051.3 1564.5,1052.6 1565.0,1050.7 1565.5,1050.4 1566.0,1050.5 1566.5,1048.7 1567.0,1050.2 1567.5,1046.9 1568.0,1052.8 1568.5,1049.2 1569.0,1050.6 1569.5,1050.5 1570.0,1050.2 1570.5,1049.8 1571.0,1049.9 1571.5,1047.3 1572.0,1048.9 1572.5,1051.4 1573.0,1048.5 1573.5,1048.6 1574.0,1053.1 1574.5,1052.0 1575.0,1052.2 1575.5,1049.8 1576.0,1050.7 1576.5,1051.7 1577.0,1051.2 1577.5,1050.2 1578.0,1047.8 1578.5,1048.6 1579.0,1047.4 1579.5,1051.9 1580.0,1048.9 1580.5,1049.3 1581.0,1049.9 1581.5,1049.2 1582.0,1050.2 1582.5,1048.5 1583.0,1046.9 1583.5,1052.2 1584.0,1048.3 1584.5,1049.1 1585.0,1048.5 1585.5,1049.0 1586.0,1050.2 1586.5,1051.3 1587.0,1048.7 1587.5,1050.8 1588.0,1049.5 1588.5,1052.5 1589.0,1049.0 1589.5,1051.0 1590.0,1052.0 1590.5,1048.3 1591.0,1050.9 1591.5,1050.9 1592.0,1049.7 1592.5,1050.6 1593.0,1052.2 1593.5,1050.9 1594.0,1049.6 1594.5,1049.6 1595.0,1050.8 1595.5,1051.7 1596.0,1050.6 1596.5,1050.4 1597.0,1051.7 1597.5,1047.0 1598.0,1046.8 1598.5,1045.6 1599.0,1050.3 1599.5,1045.5 1600.0,1048.9 1600.5,1050.3 1601.0,1046.9 1601.5,1048.3 1602.0,1049.0 1602.5,1050.7 1603.0,1047.4 1603.5,1050.4 1604.0,1051.0 1604.5,1050.4 1605.0,1050.5 1605.5,1051.9 1606.0,1050.0 1606.5,1049.4 1607.0,1048.9 1607.5,1050.6 1608.0,1049.0 1608.5,1050.3 1609.0,1049.2 1609.5,1050.5 1610.0,1047.6 1610.5,1048.5 1611.0,1048.9 1611.5,1048.4 1612.0,1049.4 1612.5,1047.6 1613.0,1048.3 1613.5,1049.7 1614.0,1047.3 1614.5,1043.5 1615.0,1042.5 1615.5,1045.3 1616.0,1043.0 1616.5,1043.3 1617.0,1041.6 1617.5,1043.3 1618.0,1042.2 1618.5,1037.8 1619.0,1039.4 1619.5,1038.5 1620.0,1036.4 1620.5,1039.3 1621.0,1037.9 1621.5,1039.2 1622.0,1042.7 1622.5,1041.2 1623.0,1041.0 1623.5,1038.9 1624.0,1038.3 1624.5,1042.7 1625.0,1040.9 1625.5,1042.2 1626.0,1042.1 1626.5,1043.3 1627.0,1047.6 1627.5,1044.1 1628.0,1044.7 1628.5,1045.8 1629.0,1046.3 1629.5,1044.3 1630.0,1043.9 1630.5,1046.1 1631.0,1047.2 1631.5,1046.7 1632.0,1046.6 1632.5,1047.0 1633.0,1048.5 1633.5,1049.1 1634.0,1047.0 1634.5,1048.8 1635.0,1050.5 1635.5,1050.2 1636.0,1048.6 1636.5,1050.4 1637.0,1051.3 1637.5,1052.7 1638.0,1049.1 1638.5,1052.5 1639.0,1051.2 1639.5,1052.5 1640.0,1053.1 1640.5,1050.9 1641.0,1051.0 1641.5,1052.0 1642.0,1053.3 1642.5,1051.1 1643.0,1049.6 1643.5,1050.6 1644.0,1052.1 1644.5,1053.3 1645.0,1051.1 1645.5,1052.0 1646.0,1052.1 1646.5,1052.1 1647.0,1050.6 1647.5,1051.1 1648.0,1051.7 1648.5,1051.4 1649.0,1051.3 1649.5,1049.6 1650.0,1050.3 1650.5,1049.8 1651.0,1052.2 1651.5,1052.8 1652.0,1050.7"/>
</g>
<path d="M598.8 1048.7V1194.5M875.4 1110.5V1194.5M894.5 1113.5V1194.5M913.6 1116.1V1194.5M1137.1 1141.3V1194.5M1275.8 1151.8V1194.5M1303.3 1154.4V1194.5M1471.4 1162.2V1194.5M1484.9 1164.8V1194.5M1627.6 1170.9V1194.5" stroke="#ff00ff" stroke-width="4.8" fill="none"/>
<text x="232.8" y="1301.5" font-size="69" text-anchor="middle">10</text>
<text x="469.5" y="1301.5" font-size="69" text-anchor="middle">20</text>
<text x="706.2" y="1301.5" font-size="69" text-anchor="middle">30</text>
<text x="942.9" y="1301.5" font-size="69" text-anchor="middle">40</text>
<text x="1179.6" y="1301.5" font-size="69" text-anchor="middle">50</text>
<text x="1416.3" y="1301.5" font-size="69" text-anchor="middle">60</text>
<text x="1653.0" y="1301.5" font-size="69" text-anchor="middle">70</text>
<text x="859.5" y="1363" font-size="69.6" text-anchor="middle">2 Theta (degree)</text>
<text transform="translate(88.5,661) rotate(-90)" font-size="69.6" text-anchor="middle">Relative Intensity (a.u.)</text>
<text x="1650" y="272" font-size="59" text-anchor="end">NTNT</text>
<text x="1644" y="563.5" font-size="59" text-anchor="end">TNT</text>
<text y="787.5" font-size="58"><tspan x="1353">K</tspan><tspan x="1398.5" dy="23" font-size="33">3</tspan><tspan x="1415" dy="-23">Ti</tspan><tspan x="1469.5" dy="23" font-size="33">5</tspan><tspan x="1487" dy="-23">NbO</tspan><tspan x="1610" dy="23" font-size="33">14</tspan></text>
<text y="1010" font-size="58"><tspan x="1529">TiO</tspan><tspan x="1629.5" dy="23" font-size="33">2</tspan></text>
<text x="1644" y="1111.5" font-size="58.7" text-anchor="end">PDF#72-0908</text>
<text x="160" y="1128.5" font-size="58.6" fill="#ff00ff">PDF#21-1272</text>
</g>
</svg>
</body></html>
